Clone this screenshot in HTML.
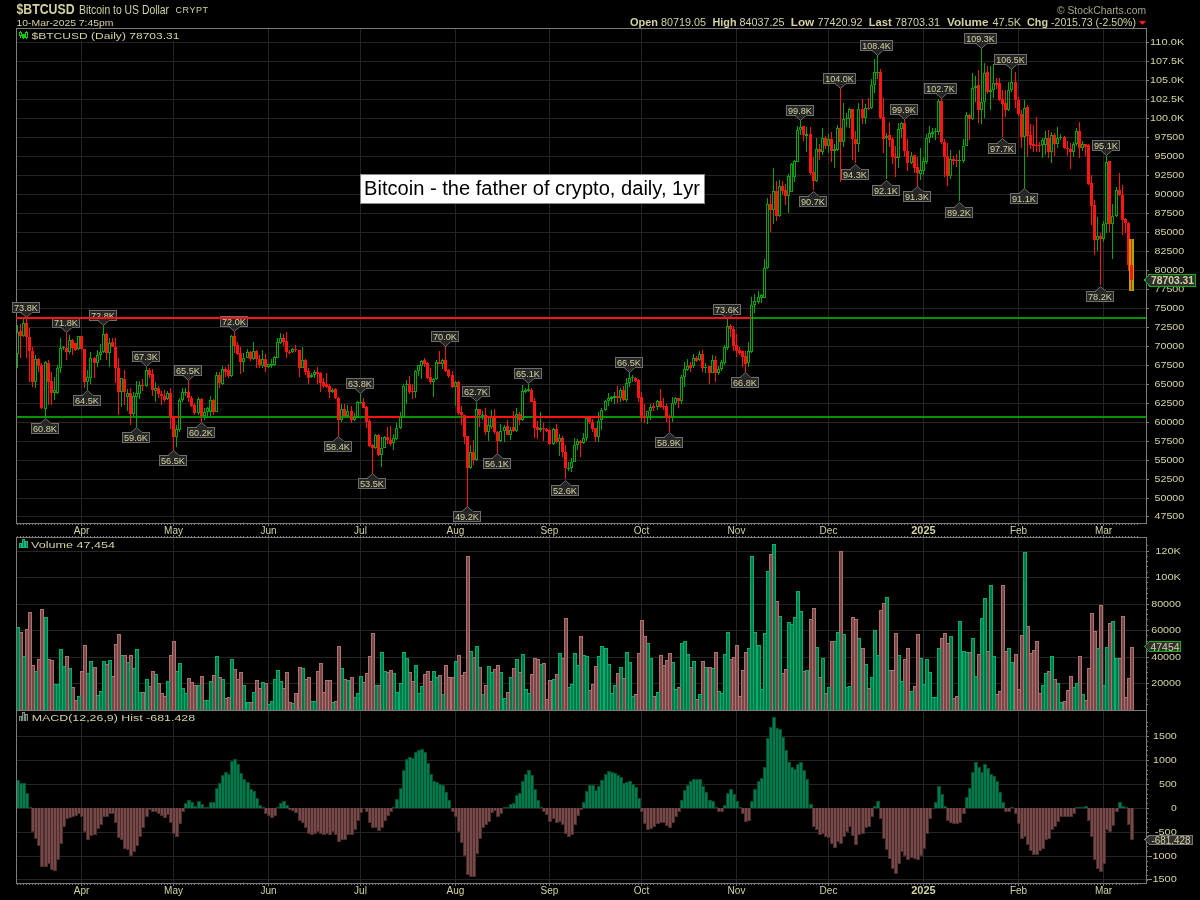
<!DOCTYPE html>
<html><head><meta charset="utf-8"><style>
html,body{margin:0;padding:0;background:#000;}
svg{display:block;font-family:"Liberation Sans",sans-serif;}
</style></head><body>
<div style="will-change:transform;width:1200px;height:900px;">
<svg width="1200" height="900" viewBox="0 0 1200 900" shape-rendering="crispEdges">
<rect x="0" y="0" width="1200" height="900" fill="#000"/>
<rect x="16" y="42" width="1130" height="1" fill="#252525"/>
<rect x="16" y="61" width="1130" height="1" fill="#252525"/>
<rect x="16" y="80" width="1130" height="1" fill="#252525"/>
<rect x="16" y="99" width="1130" height="1" fill="#252525"/>
<rect x="16" y="118" width="1130" height="1" fill="#252525"/>
<rect x="16" y="137" width="1130" height="1" fill="#252525"/>
<rect x="16" y="156" width="1130" height="1" fill="#252525"/>
<rect x="16" y="175" width="1130" height="1" fill="#252525"/>
<rect x="16" y="194" width="1130" height="1" fill="#252525"/>
<rect x="16" y="213" width="1130" height="1" fill="#252525"/>
<rect x="16" y="232" width="1130" height="1" fill="#252525"/>
<rect x="16" y="251" width="1130" height="1" fill="#252525"/>
<rect x="16" y="270" width="1130" height="1" fill="#252525"/>
<rect x="16" y="289" width="1130" height="1" fill="#252525"/>
<rect x="16" y="308" width="1130" height="1" fill="#252525"/>
<rect x="16" y="327" width="1130" height="1" fill="#252525"/>
<rect x="16" y="346" width="1130" height="1" fill="#252525"/>
<rect x="16" y="365" width="1130" height="1" fill="#252525"/>
<rect x="16" y="384" width="1130" height="1" fill="#252525"/>
<rect x="16" y="403" width="1130" height="1" fill="#252525"/>
<rect x="16" y="422" width="1130" height="1" fill="#252525"/>
<rect x="16" y="441" width="1130" height="1" fill="#252525"/>
<rect x="16" y="460" width="1130" height="1" fill="#252525"/>
<rect x="16" y="479" width="1130" height="1" fill="#252525"/>
<rect x="16" y="498" width="1130" height="1" fill="#252525"/>
<rect x="16" y="516" width="1130" height="1" fill="#252525"/>
<rect x="16" y="683" width="1130" height="1" fill="#252525"/>
<rect x="16" y="657" width="1130" height="1" fill="#252525"/>
<rect x="16" y="630" width="1130" height="1" fill="#252525"/>
<rect x="16" y="604" width="1130" height="1" fill="#252525"/>
<rect x="16" y="577" width="1130" height="1" fill="#252525"/>
<rect x="16" y="551" width="1130" height="1" fill="#252525"/>
<rect x="16" y="736" width="1130" height="1" fill="#252525"/>
<rect x="16" y="760" width="1130" height="1" fill="#252525"/>
<rect x="16" y="784" width="1130" height="1" fill="#252525"/>
<rect x="16" y="808" width="1130" height="1" fill="#252525"/>
<rect x="16" y="832" width="1130" height="1" fill="#252525"/>
<rect x="16" y="856" width="1130" height="1" fill="#252525"/>
<rect x="16" y="879" width="1130" height="1" fill="#252525"/>
<rect x="81" y="28" width="1" height="495" fill="#252525"/>
<rect x="81" y="537" width="1" height="173" fill="#252525"/>
<rect x="81" y="710" width="1" height="173" fill="#252525"/>
<rect x="173" y="28" width="1" height="495" fill="#252525"/>
<rect x="173" y="537" width="1" height="173" fill="#252525"/>
<rect x="173" y="710" width="1" height="173" fill="#252525"/>
<rect x="268" y="28" width="1" height="495" fill="#252525"/>
<rect x="268" y="537" width="1" height="173" fill="#252525"/>
<rect x="268" y="710" width="1" height="173" fill="#252525"/>
<rect x="360" y="28" width="1" height="495" fill="#252525"/>
<rect x="360" y="537" width="1" height="173" fill="#252525"/>
<rect x="360" y="710" width="1" height="173" fill="#252525"/>
<rect x="455" y="28" width="1" height="495" fill="#252525"/>
<rect x="455" y="537" width="1" height="173" fill="#252525"/>
<rect x="455" y="710" width="1" height="173" fill="#252525"/>
<rect x="549" y="28" width="1" height="495" fill="#252525"/>
<rect x="549" y="537" width="1" height="173" fill="#252525"/>
<rect x="549" y="710" width="1" height="173" fill="#252525"/>
<rect x="641" y="28" width="1" height="495" fill="#252525"/>
<rect x="641" y="537" width="1" height="173" fill="#252525"/>
<rect x="641" y="710" width="1" height="173" fill="#252525"/>
<rect x="736" y="28" width="1" height="495" fill="#252525"/>
<rect x="736" y="537" width="1" height="173" fill="#252525"/>
<rect x="736" y="710" width="1" height="173" fill="#252525"/>
<rect x="828" y="28" width="1" height="495" fill="#252525"/>
<rect x="828" y="537" width="1" height="173" fill="#252525"/>
<rect x="828" y="710" width="1" height="173" fill="#252525"/>
<rect x="923" y="28" width="1" height="495" fill="#252525"/>
<rect x="923" y="537" width="1" height="173" fill="#252525"/>
<rect x="923" y="710" width="1" height="173" fill="#252525"/>
<rect x="1018" y="28" width="1" height="495" fill="#252525"/>
<rect x="1018" y="537" width="1" height="173" fill="#252525"/>
<rect x="1018" y="710" width="1" height="173" fill="#252525"/>
<rect x="1103" y="28" width="1" height="495" fill="#252525"/>
<rect x="1103" y="537" width="1" height="173" fill="#252525"/>
<rect x="1103" y="710" width="1" height="173" fill="#252525"/>
<rect x="751" y="317" width="395" height="2" fill="#009400"/>
<rect x="16" y="416" width="1130" height="2" fill="#009400"/>
<rect x="17" y="325" width="1" height="7" fill="#00a800"/>
<rect x="17" y="354" width="1" height="14" fill="#00a800"/>
<rect x="16" y="332" width="1" height="22" fill="#00a800"/>
<rect x="18" y="332" width="1" height="22" fill="#00a800"/>
<rect x="17" y="332" width="1" height="1" fill="#00a800"/>
<rect x="17" y="353" width="1" height="1" fill="#00a800"/>
<rect x="20" y="324" width="1" height="34" fill="#ff1414"/>
<rect x="19" y="331" width="3" height="5" fill="#ff1414"/>
<rect x="23" y="319" width="1" height="4" fill="#00a800"/>
<rect x="23" y="336" width="1" height="1" fill="#00a800"/>
<rect x="22" y="323" width="1" height="13" fill="#00a800"/>
<rect x="24" y="323" width="1" height="13" fill="#00a800"/>
<rect x="23" y="323" width="1" height="1" fill="#00a800"/>
<rect x="23" y="335" width="1" height="1" fill="#00a800"/>
<rect x="26" y="319" width="1" height="39" fill="#ff1414"/>
<rect x="25" y="323" width="3" height="14" fill="#ff1414"/>
<rect x="29" y="328" width="1" height="54" fill="#ff1414"/>
<rect x="28" y="337" width="3" height="14" fill="#ff1414"/>
<rect x="32" y="347" width="1" height="40" fill="#ff1414"/>
<rect x="31" y="351" width="3" height="31" fill="#ff1414"/>
<rect x="35" y="355" width="1" height="4" fill="#00a800"/>
<rect x="35" y="382" width="1" height="6" fill="#00a800"/>
<rect x="34" y="359" width="1" height="23" fill="#00a800"/>
<rect x="36" y="359" width="1" height="23" fill="#00a800"/>
<rect x="35" y="359" width="1" height="1" fill="#00a800"/>
<rect x="35" y="381" width="1" height="1" fill="#00a800"/>
<rect x="38" y="358" width="1" height="14" fill="#ff1414"/>
<rect x="37" y="359" width="3" height="7" fill="#ff1414"/>
<rect x="41" y="363" width="1" height="46" fill="#ff1414"/>
<rect x="40" y="365" width="3" height="43" fill="#ff1414"/>
<rect x="45" y="361" width="1" height="1" fill="#00a800"/>
<rect x="45" y="409" width="1" height="8" fill="#00a800"/>
<rect x="44" y="362" width="1" height="47" fill="#00a800"/>
<rect x="46" y="362" width="1" height="47" fill="#00a800"/>
<rect x="45" y="362" width="1" height="1" fill="#00a800"/>
<rect x="45" y="408" width="1" height="1" fill="#00a800"/>
<rect x="48" y="360" width="1" height="45" fill="#ff1414"/>
<rect x="47" y="363" width="3" height="19" fill="#ff1414"/>
<rect x="51" y="372" width="1" height="33" fill="#ff1414"/>
<rect x="50" y="381" width="3" height="12" fill="#ff1414"/>
<rect x="54" y="377" width="1" height="13" fill="#00a800"/>
<rect x="54" y="393" width="1" height="7" fill="#00a800"/>
<rect x="53" y="390" width="1" height="3" fill="#00a800"/>
<rect x="55" y="390" width="1" height="3" fill="#00a800"/>
<rect x="54" y="390" width="1" height="1" fill="#00a800"/>
<rect x="54" y="392" width="1" height="1" fill="#00a800"/>
<rect x="57" y="365" width="1" height="3" fill="#00a800"/>
<rect x="57" y="393" width="1" height="1" fill="#00a800"/>
<rect x="56" y="368" width="1" height="25" fill="#00a800"/>
<rect x="58" y="368" width="1" height="25" fill="#00a800"/>
<rect x="57" y="368" width="1" height="1" fill="#00a800"/>
<rect x="57" y="392" width="1" height="1" fill="#00a800"/>
<rect x="60" y="338" width="1" height="10" fill="#00a800"/>
<rect x="60" y="368" width="1" height="5" fill="#00a800"/>
<rect x="59" y="348" width="1" height="20" fill="#00a800"/>
<rect x="61" y="348" width="1" height="20" fill="#00a800"/>
<rect x="60" y="348" width="1" height="1" fill="#00a800"/>
<rect x="60" y="367" width="1" height="1" fill="#00a800"/>
<rect x="63" y="346" width="1" height="4" fill="#00a800"/>
<rect x="62" y="347" width="3" height="1" fill="#00a800"/>
<rect x="66" y="333" width="1" height="27" fill="#ff1414"/>
<rect x="65" y="348" width="3" height="4" fill="#ff1414"/>
<rect x="69" y="335" width="1" height="5" fill="#00a800"/>
<rect x="69" y="352" width="1" height="2" fill="#00a800"/>
<rect x="68" y="340" width="1" height="12" fill="#00a800"/>
<rect x="70" y="340" width="1" height="12" fill="#00a800"/>
<rect x="69" y="340" width="1" height="1" fill="#00a800"/>
<rect x="69" y="351" width="1" height="1" fill="#00a800"/>
<rect x="72" y="339" width="1" height="16" fill="#ff1414"/>
<rect x="71" y="340" width="3" height="8" fill="#ff1414"/>
<rect x="75" y="343" width="1" height="8" fill="#ff1414"/>
<rect x="74" y="343" width="3" height="7" fill="#ff1414"/>
<rect x="78" y="349" width="1" height="1" fill="#00a800"/>
<rect x="77" y="336" width="1" height="13" fill="#00a800"/>
<rect x="79" y="336" width="1" height="13" fill="#00a800"/>
<rect x="78" y="336" width="1" height="1" fill="#00a800"/>
<rect x="78" y="348" width="1" height="1" fill="#00a800"/>
<rect x="81" y="336" width="1" height="14" fill="#ff1414"/>
<rect x="80" y="336" width="3" height="13" fill="#ff1414"/>
<rect x="84" y="349" width="1" height="39" fill="#ff1414"/>
<rect x="83" y="349" width="3" height="33" fill="#ff1414"/>
<rect x="87" y="370" width="1" height="7" fill="#00a800"/>
<rect x="87" y="382" width="1" height="8" fill="#00a800"/>
<rect x="86" y="377" width="1" height="5" fill="#00a800"/>
<rect x="88" y="377" width="1" height="5" fill="#00a800"/>
<rect x="87" y="377" width="1" height="1" fill="#00a800"/>
<rect x="87" y="381" width="1" height="1" fill="#00a800"/>
<rect x="90" y="352" width="1" height="6" fill="#00a800"/>
<rect x="90" y="378" width="1" height="6" fill="#00a800"/>
<rect x="89" y="358" width="1" height="20" fill="#00a800"/>
<rect x="91" y="358" width="1" height="20" fill="#00a800"/>
<rect x="90" y="358" width="1" height="1" fill="#00a800"/>
<rect x="90" y="377" width="1" height="1" fill="#00a800"/>
<rect x="94" y="357" width="1" height="21" fill="#ff1414"/>
<rect x="93" y="358" width="3" height="5" fill="#ff1414"/>
<rect x="97" y="350" width="1" height="5" fill="#00a800"/>
<rect x="97" y="363" width="1" height="4" fill="#00a800"/>
<rect x="96" y="355" width="1" height="8" fill="#00a800"/>
<rect x="98" y="355" width="1" height="8" fill="#00a800"/>
<rect x="97" y="355" width="1" height="1" fill="#00a800"/>
<rect x="97" y="362" width="1" height="1" fill="#00a800"/>
<rect x="100" y="344" width="1" height="8" fill="#00a800"/>
<rect x="100" y="355" width="1" height="5" fill="#00a800"/>
<rect x="99" y="352" width="1" height="3" fill="#00a800"/>
<rect x="101" y="352" width="1" height="3" fill="#00a800"/>
<rect x="100" y="352" width="1" height="1" fill="#00a800"/>
<rect x="100" y="354" width="1" height="1" fill="#00a800"/>
<rect x="103" y="325" width="1" height="9" fill="#00a800"/>
<rect x="103" y="352" width="1" height="1" fill="#00a800"/>
<rect x="102" y="334" width="1" height="18" fill="#00a800"/>
<rect x="104" y="334" width="1" height="18" fill="#00a800"/>
<rect x="103" y="334" width="1" height="1" fill="#00a800"/>
<rect x="103" y="351" width="1" height="1" fill="#00a800"/>
<rect x="106" y="333" width="1" height="27" fill="#ff1414"/>
<rect x="105" y="334" width="3" height="19" fill="#ff1414"/>
<rect x="109" y="338" width="1" height="5" fill="#00a800"/>
<rect x="109" y="353" width="1" height="14" fill="#00a800"/>
<rect x="108" y="343" width="1" height="10" fill="#00a800"/>
<rect x="110" y="343" width="1" height="10" fill="#00a800"/>
<rect x="109" y="343" width="1" height="1" fill="#00a800"/>
<rect x="109" y="352" width="1" height="1" fill="#00a800"/>
<rect x="112" y="338" width="1" height="9" fill="#ff1414"/>
<rect x="111" y="342" width="3" height="5" fill="#ff1414"/>
<rect x="115" y="338" width="1" height="45" fill="#ff1414"/>
<rect x="114" y="347" width="3" height="21" fill="#ff1414"/>
<rect x="118" y="358" width="1" height="57" fill="#ff1414"/>
<rect x="117" y="368" width="3" height="24" fill="#ff1414"/>
<rect x="121" y="392" width="1" height="15" fill="#00a800"/>
<rect x="120" y="378" width="1" height="14" fill="#00a800"/>
<rect x="122" y="378" width="1" height="14" fill="#00a800"/>
<rect x="121" y="378" width="1" height="1" fill="#00a800"/>
<rect x="121" y="391" width="1" height="1" fill="#00a800"/>
<rect x="124" y="370" width="1" height="35" fill="#ff1414"/>
<rect x="123" y="379" width="3" height="13" fill="#ff1414"/>
<rect x="127" y="389" width="1" height="4" fill="#00a800"/>
<rect x="127" y="397" width="1" height="14" fill="#00a800"/>
<rect x="126" y="393" width="1" height="4" fill="#00a800"/>
<rect x="128" y="393" width="1" height="4" fill="#00a800"/>
<rect x="127" y="393" width="1" height="1" fill="#00a800"/>
<rect x="127" y="396" width="1" height="1" fill="#00a800"/>
<rect x="130" y="388" width="1" height="37" fill="#ff1414"/>
<rect x="129" y="393" width="3" height="21" fill="#ff1414"/>
<rect x="133" y="392" width="1" height="4" fill="#00a800"/>
<rect x="133" y="414" width="1" height="2" fill="#00a800"/>
<rect x="132" y="396" width="1" height="18" fill="#00a800"/>
<rect x="134" y="396" width="1" height="18" fill="#00a800"/>
<rect x="133" y="396" width="1" height="1" fill="#00a800"/>
<rect x="133" y="413" width="1" height="1" fill="#00a800"/>
<rect x="136" y="381" width="1" height="12" fill="#00a800"/>
<rect x="136" y="397" width="1" height="30" fill="#00a800"/>
<rect x="135" y="393" width="1" height="4" fill="#00a800"/>
<rect x="137" y="393" width="1" height="4" fill="#00a800"/>
<rect x="136" y="393" width="1" height="1" fill="#00a800"/>
<rect x="136" y="396" width="1" height="1" fill="#00a800"/>
<rect x="139" y="381" width="1" height="4" fill="#00a800"/>
<rect x="139" y="394" width="1" height="5" fill="#00a800"/>
<rect x="138" y="385" width="1" height="9" fill="#00a800"/>
<rect x="140" y="385" width="1" height="9" fill="#00a800"/>
<rect x="139" y="385" width="1" height="1" fill="#00a800"/>
<rect x="139" y="393" width="1" height="1" fill="#00a800"/>
<rect x="142" y="379" width="1" height="12" fill="#ff1414"/>
<rect x="141" y="385" width="3" height="1" fill="#ff1414"/>
<rect x="146" y="367" width="1" height="3" fill="#00a800"/>
<rect x="146" y="386" width="1" height="1" fill="#00a800"/>
<rect x="145" y="370" width="1" height="16" fill="#00a800"/>
<rect x="147" y="370" width="1" height="16" fill="#00a800"/>
<rect x="146" y="370" width="1" height="1" fill="#00a800"/>
<rect x="146" y="385" width="1" height="1" fill="#00a800"/>
<rect x="149" y="368" width="1" height="10" fill="#ff1414"/>
<rect x="148" y="370" width="3" height="5" fill="#ff1414"/>
<rect x="152" y="369" width="1" height="27" fill="#ff1414"/>
<rect x="151" y="374" width="3" height="16" fill="#ff1414"/>
<rect x="155" y="382" width="1" height="6" fill="#00a800"/>
<rect x="155" y="391" width="1" height="11" fill="#00a800"/>
<rect x="154" y="388" width="1" height="3" fill="#00a800"/>
<rect x="156" y="388" width="1" height="3" fill="#00a800"/>
<rect x="155" y="388" width="1" height="1" fill="#00a800"/>
<rect x="155" y="390" width="1" height="1" fill="#00a800"/>
<rect x="158" y="386" width="1" height="12" fill="#ff1414"/>
<rect x="157" y="388" width="3" height="6" fill="#ff1414"/>
<rect x="161" y="391" width="1" height="14" fill="#ff1414"/>
<rect x="160" y="394" width="3" height="2" fill="#ff1414"/>
<rect x="164" y="390" width="1" height="12" fill="#ff1414"/>
<rect x="163" y="396" width="3" height="4" fill="#ff1414"/>
<rect x="167" y="391" width="1" height="2" fill="#00a800"/>
<rect x="167" y="399" width="1" height="1" fill="#00a800"/>
<rect x="166" y="393" width="1" height="6" fill="#00a800"/>
<rect x="168" y="393" width="1" height="6" fill="#00a800"/>
<rect x="167" y="393" width="1" height="1" fill="#00a800"/>
<rect x="167" y="398" width="1" height="1" fill="#00a800"/>
<rect x="170" y="388" width="1" height="41" fill="#ff1414"/>
<rect x="169" y="393" width="3" height="24" fill="#ff1414"/>
<rect x="173" y="416" width="1" height="34" fill="#ff1414"/>
<rect x="172" y="417" width="3" height="20" fill="#ff1414"/>
<rect x="176" y="425" width="1" height="4" fill="#00a800"/>
<rect x="176" y="437" width="1" height="10" fill="#00a800"/>
<rect x="175" y="429" width="1" height="8" fill="#00a800"/>
<rect x="177" y="429" width="1" height="8" fill="#00a800"/>
<rect x="176" y="429" width="1" height="1" fill="#00a800"/>
<rect x="176" y="436" width="1" height="1" fill="#00a800"/>
<rect x="179" y="398" width="1" height="2" fill="#00a800"/>
<rect x="179" y="430" width="1" height="2" fill="#00a800"/>
<rect x="178" y="400" width="1" height="30" fill="#00a800"/>
<rect x="180" y="400" width="1" height="30" fill="#00a800"/>
<rect x="179" y="400" width="1" height="1" fill="#00a800"/>
<rect x="179" y="429" width="1" height="1" fill="#00a800"/>
<rect x="182" y="388" width="1" height="4" fill="#00a800"/>
<rect x="182" y="400" width="1" height="2" fill="#00a800"/>
<rect x="181" y="392" width="1" height="8" fill="#00a800"/>
<rect x="183" y="392" width="1" height="8" fill="#00a800"/>
<rect x="182" y="392" width="1" height="1" fill="#00a800"/>
<rect x="182" y="399" width="1" height="1" fill="#00a800"/>
<rect x="185" y="388" width="1" height="8" fill="#00a800"/>
<rect x="184" y="392" width="3" height="1" fill="#00a800"/>
<rect x="188" y="381" width="1" height="21" fill="#ff1414"/>
<rect x="187" y="392" width="3" height="6" fill="#ff1414"/>
<rect x="191" y="396" width="1" height="11" fill="#ff1414"/>
<rect x="190" y="398" width="3" height="8" fill="#ff1414"/>
<rect x="194" y="403" width="1" height="12" fill="#ff1414"/>
<rect x="193" y="405" width="3" height="8" fill="#ff1414"/>
<rect x="198" y="397" width="1" height="2" fill="#00a800"/>
<rect x="198" y="413" width="1" height="2" fill="#00a800"/>
<rect x="197" y="399" width="1" height="14" fill="#00a800"/>
<rect x="199" y="399" width="1" height="14" fill="#00a800"/>
<rect x="198" y="399" width="1" height="1" fill="#00a800"/>
<rect x="198" y="412" width="1" height="1" fill="#00a800"/>
<rect x="201" y="398" width="1" height="24" fill="#ff1414"/>
<rect x="200" y="399" width="3" height="17" fill="#ff1414"/>
<rect x="204" y="408" width="1" height="4" fill="#00a800"/>
<rect x="204" y="416" width="1" height="4" fill="#00a800"/>
<rect x="203" y="412" width="1" height="4" fill="#00a800"/>
<rect x="205" y="412" width="1" height="4" fill="#00a800"/>
<rect x="204" y="412" width="1" height="1" fill="#00a800"/>
<rect x="204" y="415" width="1" height="1" fill="#00a800"/>
<rect x="207" y="407" width="1" height="1" fill="#00a800"/>
<rect x="207" y="412" width="1" height="6" fill="#00a800"/>
<rect x="206" y="408" width="1" height="4" fill="#00a800"/>
<rect x="208" y="408" width="1" height="4" fill="#00a800"/>
<rect x="207" y="408" width="1" height="1" fill="#00a800"/>
<rect x="207" y="411" width="1" height="1" fill="#00a800"/>
<rect x="210" y="396" width="1" height="4" fill="#00a800"/>
<rect x="210" y="412" width="1" height="4" fill="#00a800"/>
<rect x="209" y="400" width="1" height="12" fill="#00a800"/>
<rect x="211" y="400" width="1" height="12" fill="#00a800"/>
<rect x="210" y="400" width="1" height="1" fill="#00a800"/>
<rect x="210" y="411" width="1" height="1" fill="#00a800"/>
<rect x="213" y="399" width="1" height="16" fill="#ff1414"/>
<rect x="212" y="400" width="3" height="12" fill="#ff1414"/>
<rect x="216" y="372" width="1" height="3" fill="#00a800"/>
<rect x="215" y="375" width="1" height="37" fill="#00a800"/>
<rect x="217" y="375" width="1" height="37" fill="#00a800"/>
<rect x="216" y="375" width="1" height="1" fill="#00a800"/>
<rect x="216" y="411" width="1" height="1" fill="#00a800"/>
<rect x="219" y="372" width="1" height="16" fill="#ff1414"/>
<rect x="218" y="375" width="3" height="8" fill="#ff1414"/>
<rect x="222" y="366" width="1" height="3" fill="#00a800"/>
<rect x="222" y="384" width="1" height="1" fill="#00a800"/>
<rect x="221" y="369" width="1" height="15" fill="#00a800"/>
<rect x="223" y="369" width="1" height="15" fill="#00a800"/>
<rect x="222" y="369" width="1" height="1" fill="#00a800"/>
<rect x="222" y="383" width="1" height="1" fill="#00a800"/>
<rect x="225" y="367" width="1" height="10" fill="#ff1414"/>
<rect x="224" y="369" width="3" height="3" fill="#ff1414"/>
<rect x="228" y="364" width="1" height="14" fill="#ff1414"/>
<rect x="227" y="370" width="3" height="6" fill="#ff1414"/>
<rect x="231" y="335" width="1" height="1" fill="#00a800"/>
<rect x="231" y="376" width="1" height="1" fill="#00a800"/>
<rect x="230" y="336" width="1" height="40" fill="#00a800"/>
<rect x="232" y="336" width="1" height="40" fill="#00a800"/>
<rect x="231" y="336" width="1" height="1" fill="#00a800"/>
<rect x="231" y="375" width="1" height="1" fill="#00a800"/>
<rect x="234" y="332" width="1" height="21" fill="#ff1414"/>
<rect x="233" y="336" width="3" height="10" fill="#ff1414"/>
<rect x="237" y="342" width="1" height="13" fill="#ff1414"/>
<rect x="236" y="345" width="3" height="9" fill="#ff1414"/>
<rect x="240" y="347" width="1" height="27" fill="#ff1414"/>
<rect x="239" y="353" width="3" height="9" fill="#ff1414"/>
<rect x="243" y="353" width="1" height="5" fill="#00a800"/>
<rect x="243" y="362" width="1" height="10" fill="#00a800"/>
<rect x="242" y="358" width="1" height="4" fill="#00a800"/>
<rect x="244" y="358" width="1" height="4" fill="#00a800"/>
<rect x="243" y="358" width="1" height="1" fill="#00a800"/>
<rect x="243" y="361" width="1" height="1" fill="#00a800"/>
<rect x="247" y="349" width="1" height="3" fill="#00a800"/>
<rect x="246" y="352" width="1" height="6" fill="#00a800"/>
<rect x="248" y="352" width="1" height="6" fill="#00a800"/>
<rect x="247" y="352" width="1" height="1" fill="#00a800"/>
<rect x="247" y="357" width="1" height="1" fill="#00a800"/>
<rect x="250" y="351" width="1" height="10" fill="#ff1414"/>
<rect x="249" y="352" width="3" height="7" fill="#ff1414"/>
<rect x="253" y="342" width="1" height="9" fill="#00a800"/>
<rect x="253" y="359" width="1" height="1" fill="#00a800"/>
<rect x="252" y="351" width="1" height="8" fill="#00a800"/>
<rect x="254" y="351" width="1" height="8" fill="#00a800"/>
<rect x="253" y="351" width="1" height="1" fill="#00a800"/>
<rect x="253" y="358" width="1" height="1" fill="#00a800"/>
<rect x="256" y="350" width="1" height="18" fill="#ff1414"/>
<rect x="255" y="351" width="3" height="8" fill="#ff1414"/>
<rect x="259" y="355" width="1" height="13" fill="#ff1414"/>
<rect x="258" y="359" width="3" height="6" fill="#ff1414"/>
<rect x="262" y="350" width="1" height="9" fill="#00a800"/>
<rect x="262" y="366" width="1" height="2" fill="#00a800"/>
<rect x="261" y="359" width="1" height="7" fill="#00a800"/>
<rect x="263" y="359" width="1" height="7" fill="#00a800"/>
<rect x="262" y="359" width="1" height="1" fill="#00a800"/>
<rect x="262" y="365" width="1" height="1" fill="#00a800"/>
<rect x="265" y="354" width="1" height="18" fill="#ff1414"/>
<rect x="264" y="359" width="3" height="8" fill="#ff1414"/>
<rect x="268" y="367" width="1" height="1" fill="#00a800"/>
<rect x="267" y="364" width="1" height="3" fill="#00a800"/>
<rect x="269" y="364" width="1" height="3" fill="#00a800"/>
<rect x="268" y="364" width="1" height="1" fill="#00a800"/>
<rect x="268" y="366" width="1" height="1" fill="#00a800"/>
<rect x="271" y="359" width="1" height="9" fill="#00a800"/>
<rect x="270" y="364" width="3" height="2" fill="#00a800"/>
<rect x="274" y="356" width="1" height="1" fill="#00a800"/>
<rect x="274" y="365" width="1" height="1" fill="#00a800"/>
<rect x="273" y="357" width="1" height="8" fill="#00a800"/>
<rect x="275" y="357" width="1" height="8" fill="#00a800"/>
<rect x="274" y="357" width="1" height="1" fill="#00a800"/>
<rect x="274" y="364" width="1" height="1" fill="#00a800"/>
<rect x="277" y="338" width="1" height="4" fill="#00a800"/>
<rect x="276" y="342" width="1" height="16" fill="#00a800"/>
<rect x="278" y="342" width="1" height="16" fill="#00a800"/>
<rect x="277" y="342" width="1" height="1" fill="#00a800"/>
<rect x="277" y="357" width="1" height="1" fill="#00a800"/>
<rect x="280" y="333" width="1" height="5" fill="#00a800"/>
<rect x="280" y="343" width="1" height="1" fill="#00a800"/>
<rect x="279" y="338" width="1" height="5" fill="#00a800"/>
<rect x="281" y="338" width="1" height="5" fill="#00a800"/>
<rect x="280" y="338" width="1" height="1" fill="#00a800"/>
<rect x="280" y="342" width="1" height="1" fill="#00a800"/>
<rect x="283" y="334" width="1" height="12" fill="#ff1414"/>
<rect x="282" y="338" width="3" height="4" fill="#ff1414"/>
<rect x="286" y="332" width="1" height="26" fill="#ff1414"/>
<rect x="285" y="341" width="3" height="11" fill="#ff1414"/>
<rect x="289" y="350" width="1" height="4" fill="#ff1414"/>
<rect x="288" y="352" width="3" height="1" fill="#ff1414"/>
<rect x="292" y="348" width="1" height="1" fill="#00a800"/>
<rect x="292" y="352" width="1" height="1" fill="#00a800"/>
<rect x="291" y="349" width="1" height="3" fill="#00a800"/>
<rect x="293" y="349" width="1" height="3" fill="#00a800"/>
<rect x="292" y="349" width="1" height="1" fill="#00a800"/>
<rect x="292" y="351" width="1" height="1" fill="#00a800"/>
<rect x="295" y="345" width="1" height="7" fill="#ff1414"/>
<rect x="294" y="349" width="3" height="1" fill="#ff1414"/>
<rect x="299" y="350" width="1" height="27" fill="#ff1414"/>
<rect x="298" y="350" width="3" height="18" fill="#ff1414"/>
<rect x="302" y="347" width="1" height="13" fill="#00a800"/>
<rect x="301" y="360" width="1" height="8" fill="#00a800"/>
<rect x="303" y="360" width="1" height="8" fill="#00a800"/>
<rect x="302" y="360" width="1" height="1" fill="#00a800"/>
<rect x="302" y="367" width="1" height="1" fill="#00a800"/>
<rect x="305" y="359" width="1" height="16" fill="#ff1414"/>
<rect x="304" y="360" width="3" height="12" fill="#ff1414"/>
<rect x="308" y="368" width="1" height="16" fill="#ff1414"/>
<rect x="307" y="371" width="3" height="7" fill="#ff1414"/>
<rect x="311" y="373" width="1" height="5" fill="#00a800"/>
<rect x="310" y="375" width="3" height="2" fill="#00a800"/>
<rect x="314" y="370" width="1" height="2" fill="#00a800"/>
<rect x="314" y="375" width="1" height="3" fill="#00a800"/>
<rect x="313" y="372" width="1" height="3" fill="#00a800"/>
<rect x="315" y="372" width="1" height="3" fill="#00a800"/>
<rect x="314" y="372" width="1" height="1" fill="#00a800"/>
<rect x="314" y="374" width="1" height="1" fill="#00a800"/>
<rect x="317" y="367" width="1" height="17" fill="#ff1414"/>
<rect x="316" y="372" width="3" height="2" fill="#ff1414"/>
<rect x="320" y="372" width="1" height="20" fill="#ff1414"/>
<rect x="319" y="373" width="3" height="10" fill="#ff1414"/>
<rect x="323" y="378" width="1" height="10" fill="#ff1414"/>
<rect x="322" y="382" width="3" height="4" fill="#ff1414"/>
<rect x="326" y="373" width="1" height="15" fill="#ff1414"/>
<rect x="325" y="384" width="3" height="3" fill="#ff1414"/>
<rect x="329" y="384" width="1" height="14" fill="#ff1414"/>
<rect x="328" y="386" width="3" height="6" fill="#ff1414"/>
<rect x="332" y="388" width="1" height="5" fill="#00a800"/>
<rect x="331" y="390" width="3" height="2" fill="#00a800"/>
<rect x="335" y="388" width="1" height="11" fill="#ff1414"/>
<rect x="334" y="389" width="3" height="9" fill="#ff1414"/>
<rect x="338" y="397" width="1" height="39" fill="#ff1414"/>
<rect x="337" y="398" width="3" height="22" fill="#ff1414"/>
<rect x="341" y="404" width="1" height="5" fill="#00a800"/>
<rect x="341" y="420" width="1" height="2" fill="#00a800"/>
<rect x="340" y="409" width="1" height="11" fill="#00a800"/>
<rect x="342" y="409" width="1" height="11" fill="#00a800"/>
<rect x="341" y="409" width="1" height="1" fill="#00a800"/>
<rect x="341" y="419" width="1" height="1" fill="#00a800"/>
<rect x="344" y="404" width="1" height="13" fill="#ff1414"/>
<rect x="343" y="409" width="3" height="7" fill="#ff1414"/>
<rect x="347" y="405" width="1" height="6" fill="#00a800"/>
<rect x="347" y="416" width="1" height="2" fill="#00a800"/>
<rect x="346" y="411" width="1" height="5" fill="#00a800"/>
<rect x="348" y="411" width="1" height="5" fill="#00a800"/>
<rect x="347" y="411" width="1" height="1" fill="#00a800"/>
<rect x="347" y="415" width="1" height="1" fill="#00a800"/>
<rect x="351" y="406" width="1" height="17" fill="#ff1414"/>
<rect x="350" y="411" width="3" height="9" fill="#ff1414"/>
<rect x="354" y="413" width="1" height="4" fill="#00a800"/>
<rect x="354" y="420" width="1" height="1" fill="#00a800"/>
<rect x="353" y="417" width="1" height="3" fill="#00a800"/>
<rect x="355" y="417" width="1" height="3" fill="#00a800"/>
<rect x="354" y="417" width="1" height="1" fill="#00a800"/>
<rect x="354" y="419" width="1" height="1" fill="#00a800"/>
<rect x="357" y="401" width="1" height="1" fill="#00a800"/>
<rect x="356" y="402" width="1" height="16" fill="#00a800"/>
<rect x="358" y="402" width="1" height="16" fill="#00a800"/>
<rect x="357" y="402" width="1" height="1" fill="#00a800"/>
<rect x="357" y="417" width="1" height="1" fill="#00a800"/>
<rect x="360" y="393" width="1" height="11" fill="#00a800"/>
<rect x="359" y="402" width="3" height="1" fill="#00a800"/>
<rect x="363" y="398" width="1" height="10" fill="#ff1414"/>
<rect x="362" y="402" width="3" height="6" fill="#ff1414"/>
<rect x="366" y="406" width="1" height="22" fill="#ff1414"/>
<rect x="365" y="407" width="3" height="15" fill="#ff1414"/>
<rect x="369" y="419" width="1" height="28" fill="#ff1414"/>
<rect x="368" y="421" width="3" height="25" fill="#ff1414"/>
<rect x="372" y="444" width="1" height="29" fill="#ff1414"/>
<rect x="371" y="445" width="3" height="3" fill="#ff1414"/>
<rect x="375" y="434" width="1" height="1" fill="#00a800"/>
<rect x="375" y="448" width="1" height="1" fill="#00a800"/>
<rect x="374" y="435" width="1" height="13" fill="#00a800"/>
<rect x="376" y="435" width="1" height="13" fill="#00a800"/>
<rect x="375" y="435" width="1" height="1" fill="#00a800"/>
<rect x="375" y="447" width="1" height="1" fill="#00a800"/>
<rect x="378" y="434" width="1" height="22" fill="#ff1414"/>
<rect x="377" y="435" width="3" height="20" fill="#ff1414"/>
<rect x="381" y="437" width="1" height="11" fill="#00a800"/>
<rect x="381" y="455" width="1" height="12" fill="#00a800"/>
<rect x="380" y="448" width="1" height="7" fill="#00a800"/>
<rect x="382" y="448" width="1" height="7" fill="#00a800"/>
<rect x="381" y="448" width="1" height="1" fill="#00a800"/>
<rect x="381" y="454" width="1" height="1" fill="#00a800"/>
<rect x="384" y="436" width="1" height="1" fill="#00a800"/>
<rect x="383" y="437" width="1" height="11" fill="#00a800"/>
<rect x="385" y="437" width="1" height="11" fill="#00a800"/>
<rect x="384" y="437" width="1" height="1" fill="#00a800"/>
<rect x="384" y="447" width="1" height="1" fill="#00a800"/>
<rect x="387" y="427" width="1" height="17" fill="#ff1414"/>
<rect x="386" y="437" width="3" height="3" fill="#ff1414"/>
<rect x="390" y="426" width="1" height="20" fill="#ff1414"/>
<rect x="389" y="440" width="3" height="4" fill="#ff1414"/>
<rect x="393" y="434" width="1" height="4" fill="#00a800"/>
<rect x="393" y="443" width="1" height="7" fill="#00a800"/>
<rect x="392" y="438" width="1" height="5" fill="#00a800"/>
<rect x="394" y="438" width="1" height="5" fill="#00a800"/>
<rect x="393" y="438" width="1" height="1" fill="#00a800"/>
<rect x="393" y="442" width="1" height="1" fill="#00a800"/>
<rect x="396" y="423" width="1" height="5" fill="#00a800"/>
<rect x="396" y="439" width="1" height="1" fill="#00a800"/>
<rect x="395" y="428" width="1" height="11" fill="#00a800"/>
<rect x="397" y="428" width="1" height="11" fill="#00a800"/>
<rect x="396" y="428" width="1" height="1" fill="#00a800"/>
<rect x="396" y="438" width="1" height="1" fill="#00a800"/>
<rect x="400" y="412" width="1" height="5" fill="#00a800"/>
<rect x="400" y="428" width="1" height="1" fill="#00a800"/>
<rect x="399" y="417" width="1" height="11" fill="#00a800"/>
<rect x="401" y="417" width="1" height="11" fill="#00a800"/>
<rect x="400" y="417" width="1" height="1" fill="#00a800"/>
<rect x="400" y="427" width="1" height="1" fill="#00a800"/>
<rect x="403" y="384" width="1" height="2" fill="#00a800"/>
<rect x="403" y="417" width="1" height="1" fill="#00a800"/>
<rect x="402" y="386" width="1" height="31" fill="#00a800"/>
<rect x="404" y="386" width="1" height="31" fill="#00a800"/>
<rect x="403" y="386" width="1" height="1" fill="#00a800"/>
<rect x="403" y="416" width="1" height="1" fill="#00a800"/>
<rect x="406" y="380" width="1" height="24" fill="#00a800"/>
<rect x="405" y="384" width="3" height="1" fill="#00a800"/>
<rect x="409" y="376" width="1" height="18" fill="#ff1414"/>
<rect x="408" y="384" width="3" height="8" fill="#ff1414"/>
<rect x="412" y="384" width="1" height="15" fill="#ff1414"/>
<rect x="411" y="391" width="3" height="1" fill="#ff1414"/>
<rect x="415" y="370" width="1" height="1" fill="#00a800"/>
<rect x="415" y="392" width="1" height="6" fill="#00a800"/>
<rect x="414" y="371" width="1" height="21" fill="#00a800"/>
<rect x="416" y="371" width="1" height="21" fill="#00a800"/>
<rect x="415" y="371" width="1" height="1" fill="#00a800"/>
<rect x="415" y="391" width="1" height="1" fill="#00a800"/>
<rect x="418" y="371" width="1" height="5" fill="#00a800"/>
<rect x="417" y="365" width="1" height="6" fill="#00a800"/>
<rect x="419" y="365" width="1" height="6" fill="#00a800"/>
<rect x="418" y="365" width="1" height="1" fill="#00a800"/>
<rect x="418" y="370" width="1" height="1" fill="#00a800"/>
<rect x="421" y="360" width="1" height="1" fill="#00a800"/>
<rect x="421" y="366" width="1" height="13" fill="#00a800"/>
<rect x="420" y="361" width="1" height="5" fill="#00a800"/>
<rect x="422" y="361" width="1" height="5" fill="#00a800"/>
<rect x="421" y="361" width="1" height="1" fill="#00a800"/>
<rect x="421" y="365" width="1" height="1" fill="#00a800"/>
<rect x="424" y="358" width="1" height="9" fill="#ff1414"/>
<rect x="423" y="360" width="3" height="4" fill="#ff1414"/>
<rect x="427" y="362" width="1" height="17" fill="#ff1414"/>
<rect x="426" y="363" width="3" height="15" fill="#ff1414"/>
<rect x="430" y="368" width="1" height="16" fill="#ff1414"/>
<rect x="429" y="377" width="3" height="5" fill="#ff1414"/>
<rect x="433" y="378" width="1" height="1" fill="#00a800"/>
<rect x="433" y="382" width="1" height="15" fill="#00a800"/>
<rect x="432" y="379" width="1" height="3" fill="#00a800"/>
<rect x="434" y="379" width="1" height="3" fill="#00a800"/>
<rect x="433" y="379" width="1" height="1" fill="#00a800"/>
<rect x="433" y="381" width="1" height="1" fill="#00a800"/>
<rect x="436" y="360" width="1" height="2" fill="#00a800"/>
<rect x="436" y="379" width="1" height="1" fill="#00a800"/>
<rect x="435" y="362" width="1" height="17" fill="#00a800"/>
<rect x="437" y="362" width="1" height="17" fill="#00a800"/>
<rect x="436" y="362" width="1" height="1" fill="#00a800"/>
<rect x="436" y="378" width="1" height="1" fill="#00a800"/>
<rect x="439" y="351" width="1" height="13" fill="#ff1414"/>
<rect x="438" y="362" width="3" height="2" fill="#ff1414"/>
<rect x="442" y="359" width="1" height="1" fill="#00a800"/>
<rect x="442" y="364" width="1" height="5" fill="#00a800"/>
<rect x="441" y="360" width="1" height="4" fill="#00a800"/>
<rect x="443" y="360" width="1" height="4" fill="#00a800"/>
<rect x="442" y="360" width="1" height="1" fill="#00a800"/>
<rect x="442" y="363" width="1" height="1" fill="#00a800"/>
<rect x="445" y="346" width="1" height="26" fill="#ff1414"/>
<rect x="444" y="360" width="3" height="11" fill="#ff1414"/>
<rect x="448" y="369" width="1" height="9" fill="#ff1414"/>
<rect x="447" y="370" width="3" height="6" fill="#ff1414"/>
<rect x="452" y="371" width="1" height="17" fill="#ff1414"/>
<rect x="451" y="375" width="3" height="12" fill="#ff1414"/>
<rect x="455" y="381" width="1" height="1" fill="#00a800"/>
<rect x="455" y="387" width="1" height="19" fill="#00a800"/>
<rect x="454" y="382" width="1" height="5" fill="#00a800"/>
<rect x="456" y="382" width="1" height="5" fill="#00a800"/>
<rect x="455" y="382" width="1" height="1" fill="#00a800"/>
<rect x="455" y="386" width="1" height="1" fill="#00a800"/>
<rect x="458" y="381" width="1" height="34" fill="#ff1414"/>
<rect x="457" y="382" width="3" height="31" fill="#ff1414"/>
<rect x="461" y="406" width="1" height="19" fill="#ff1414"/>
<rect x="460" y="412" width="3" height="3" fill="#ff1414"/>
<rect x="464" y="415" width="1" height="29" fill="#ff1414"/>
<rect x="463" y="415" width="3" height="22" fill="#ff1414"/>
<rect x="467" y="436" width="1" height="71" fill="#ff1414"/>
<rect x="466" y="436" width="3" height="32" fill="#ff1414"/>
<rect x="470" y="445" width="1" height="7" fill="#00a800"/>
<rect x="470" y="468" width="1" height="1" fill="#00a800"/>
<rect x="469" y="452" width="1" height="16" fill="#00a800"/>
<rect x="471" y="452" width="1" height="16" fill="#00a800"/>
<rect x="470" y="452" width="1" height="1" fill="#00a800"/>
<rect x="470" y="467" width="1" height="1" fill="#00a800"/>
<rect x="473" y="440" width="1" height="25" fill="#ff1414"/>
<rect x="472" y="452" width="3" height="8" fill="#ff1414"/>
<rect x="476" y="402" width="1" height="7" fill="#00a800"/>
<rect x="476" y="460" width="1" height="1" fill="#00a800"/>
<rect x="475" y="409" width="1" height="51" fill="#00a800"/>
<rect x="477" y="409" width="1" height="51" fill="#00a800"/>
<rect x="476" y="409" width="1" height="1" fill="#00a800"/>
<rect x="476" y="459" width="1" height="1" fill="#00a800"/>
<rect x="479" y="409" width="1" height="18" fill="#ff1414"/>
<rect x="478" y="409" width="3" height="6" fill="#ff1414"/>
<rect x="482" y="411" width="1" height="9" fill="#00a800"/>
<rect x="481" y="415" width="3" height="1" fill="#00a800"/>
<rect x="485" y="408" width="1" height="27" fill="#ff1414"/>
<rect x="484" y="415" width="3" height="17" fill="#ff1414"/>
<rect x="488" y="417" width="1" height="8" fill="#00a800"/>
<rect x="488" y="432" width="1" height="9" fill="#00a800"/>
<rect x="487" y="425" width="1" height="7" fill="#00a800"/>
<rect x="489" y="425" width="1" height="7" fill="#00a800"/>
<rect x="488" y="425" width="1" height="1" fill="#00a800"/>
<rect x="488" y="431" width="1" height="1" fill="#00a800"/>
<rect x="491" y="410" width="1" height="7" fill="#00a800"/>
<rect x="491" y="427" width="1" height="2" fill="#00a800"/>
<rect x="490" y="417" width="1" height="10" fill="#00a800"/>
<rect x="492" y="417" width="1" height="10" fill="#00a800"/>
<rect x="491" y="417" width="1" height="1" fill="#00a800"/>
<rect x="491" y="426" width="1" height="1" fill="#00a800"/>
<rect x="494" y="409" width="1" height="25" fill="#ff1414"/>
<rect x="493" y="417" width="3" height="15" fill="#ff1414"/>
<rect x="497" y="431" width="1" height="22" fill="#ff1414"/>
<rect x="496" y="432" width="3" height="9" fill="#ff1414"/>
<rect x="500" y="424" width="1" height="7" fill="#00a800"/>
<rect x="500" y="441" width="1" height="1" fill="#00a800"/>
<rect x="499" y="431" width="1" height="10" fill="#00a800"/>
<rect x="501" y="431" width="1" height="10" fill="#00a800"/>
<rect x="500" y="431" width="1" height="1" fill="#00a800"/>
<rect x="500" y="440" width="1" height="1" fill="#00a800"/>
<rect x="504" y="425" width="1" height="2" fill="#00a800"/>
<rect x="504" y="431" width="1" height="11" fill="#00a800"/>
<rect x="503" y="427" width="1" height="4" fill="#00a800"/>
<rect x="505" y="427" width="1" height="4" fill="#00a800"/>
<rect x="504" y="427" width="1" height="1" fill="#00a800"/>
<rect x="504" y="430" width="1" height="1" fill="#00a800"/>
<rect x="507" y="420" width="1" height="15" fill="#ff1414"/>
<rect x="506" y="426" width="3" height="9" fill="#ff1414"/>
<rect x="510" y="427" width="1" height="3" fill="#00a800"/>
<rect x="510" y="435" width="1" height="5" fill="#00a800"/>
<rect x="509" y="430" width="1" height="5" fill="#00a800"/>
<rect x="511" y="430" width="1" height="5" fill="#00a800"/>
<rect x="510" y="430" width="1" height="1" fill="#00a800"/>
<rect x="510" y="434" width="1" height="1" fill="#00a800"/>
<rect x="513" y="411" width="1" height="21" fill="#ff1414"/>
<rect x="512" y="427" width="3" height="4" fill="#ff1414"/>
<rect x="516" y="408" width="1" height="6" fill="#00a800"/>
<rect x="516" y="431" width="1" height="1" fill="#00a800"/>
<rect x="515" y="414" width="1" height="17" fill="#00a800"/>
<rect x="517" y="414" width="1" height="17" fill="#00a800"/>
<rect x="516" y="414" width="1" height="1" fill="#00a800"/>
<rect x="516" y="430" width="1" height="1" fill="#00a800"/>
<rect x="519" y="412" width="1" height="13" fill="#ff1414"/>
<rect x="518" y="414" width="3" height="6" fill="#ff1414"/>
<rect x="522" y="385" width="1" height="6" fill="#00a800"/>
<rect x="522" y="420" width="1" height="1" fill="#00a800"/>
<rect x="521" y="391" width="1" height="29" fill="#00a800"/>
<rect x="523" y="391" width="1" height="29" fill="#00a800"/>
<rect x="522" y="391" width="1" height="1" fill="#00a800"/>
<rect x="522" y="419" width="1" height="1" fill="#00a800"/>
<rect x="525" y="388" width="1" height="5" fill="#00a800"/>
<rect x="524" y="390" width="3" height="2" fill="#00a800"/>
<rect x="528" y="384" width="1" height="8" fill="#00a800"/>
<rect x="527" y="389" width="3" height="2" fill="#00a800"/>
<rect x="531" y="388" width="1" height="14" fill="#ff1414"/>
<rect x="530" y="390" width="3" height="12" fill="#ff1414"/>
<rect x="534" y="398" width="1" height="40" fill="#ff1414"/>
<rect x="533" y="401" width="3" height="27" fill="#ff1414"/>
<rect x="537" y="421" width="1" height="18" fill="#ff1414"/>
<rect x="536" y="427" width="3" height="3" fill="#ff1414"/>
<rect x="540" y="412" width="1" height="20" fill="#00a800"/>
<rect x="539" y="428" width="3" height="2" fill="#00a800"/>
<rect x="543" y="423" width="1" height="18" fill="#ff1414"/>
<rect x="542" y="428" width="3" height="1" fill="#ff1414"/>
<rect x="546" y="428" width="1" height="4" fill="#ff1414"/>
<rect x="545" y="429" width="3" height="2" fill="#ff1414"/>
<rect x="549" y="429" width="1" height="16" fill="#ff1414"/>
<rect x="548" y="430" width="3" height="14" fill="#ff1414"/>
<rect x="553" y="428" width="1" height="1" fill="#00a800"/>
<rect x="553" y="444" width="1" height="1" fill="#00a800"/>
<rect x="552" y="429" width="1" height="15" fill="#00a800"/>
<rect x="554" y="429" width="1" height="15" fill="#00a800"/>
<rect x="553" y="429" width="1" height="1" fill="#00a800"/>
<rect x="553" y="443" width="1" height="1" fill="#00a800"/>
<rect x="556" y="424" width="1" height="19" fill="#ff1414"/>
<rect x="555" y="429" width="3" height="13" fill="#ff1414"/>
<rect x="559" y="434" width="1" height="4" fill="#00a800"/>
<rect x="559" y="442" width="1" height="14" fill="#00a800"/>
<rect x="558" y="438" width="1" height="4" fill="#00a800"/>
<rect x="560" y="438" width="1" height="4" fill="#00a800"/>
<rect x="559" y="438" width="1" height="1" fill="#00a800"/>
<rect x="559" y="441" width="1" height="1" fill="#00a800"/>
<rect x="562" y="436" width="1" height="21" fill="#ff1414"/>
<rect x="561" y="438" width="3" height="14" fill="#ff1414"/>
<rect x="565" y="445" width="1" height="34" fill="#ff1414"/>
<rect x="564" y="452" width="3" height="16" fill="#ff1414"/>
<rect x="568" y="462" width="1" height="9" fill="#00a800"/>
<rect x="567" y="468" width="3" height="1" fill="#00a800"/>
<rect x="571" y="458" width="1" height="4" fill="#00a800"/>
<rect x="571" y="468" width="1" height="4" fill="#00a800"/>
<rect x="570" y="462" width="1" height="6" fill="#00a800"/>
<rect x="572" y="462" width="1" height="6" fill="#00a800"/>
<rect x="571" y="462" width="1" height="1" fill="#00a800"/>
<rect x="571" y="467" width="1" height="1" fill="#00a800"/>
<rect x="574" y="438" width="1" height="7" fill="#00a800"/>
<rect x="573" y="445" width="1" height="17" fill="#00a800"/>
<rect x="575" y="445" width="1" height="17" fill="#00a800"/>
<rect x="574" y="445" width="1" height="1" fill="#00a800"/>
<rect x="574" y="461" width="1" height="1" fill="#00a800"/>
<rect x="577" y="439" width="1" height="2" fill="#00a800"/>
<rect x="577" y="445" width="1" height="5" fill="#00a800"/>
<rect x="576" y="441" width="1" height="4" fill="#00a800"/>
<rect x="578" y="441" width="1" height="4" fill="#00a800"/>
<rect x="577" y="441" width="1" height="1" fill="#00a800"/>
<rect x="577" y="444" width="1" height="1" fill="#00a800"/>
<rect x="580" y="440" width="1" height="17" fill="#ff1414"/>
<rect x="579" y="441" width="3" height="2" fill="#ff1414"/>
<rect x="583" y="433" width="1" height="5" fill="#00a800"/>
<rect x="583" y="443" width="1" height="1" fill="#00a800"/>
<rect x="582" y="438" width="1" height="5" fill="#00a800"/>
<rect x="584" y="438" width="1" height="5" fill="#00a800"/>
<rect x="583" y="438" width="1" height="1" fill="#00a800"/>
<rect x="583" y="442" width="1" height="1" fill="#00a800"/>
<rect x="586" y="438" width="1" height="3" fill="#00a800"/>
<rect x="585" y="418" width="1" height="20" fill="#00a800"/>
<rect x="587" y="418" width="1" height="20" fill="#00a800"/>
<rect x="586" y="418" width="1" height="1" fill="#00a800"/>
<rect x="586" y="437" width="1" height="1" fill="#00a800"/>
<rect x="589" y="418" width="1" height="6" fill="#ff1414"/>
<rect x="588" y="418" width="3" height="4" fill="#ff1414"/>
<rect x="592" y="419" width="1" height="13" fill="#ff1414"/>
<rect x="591" y="422" width="3" height="7" fill="#ff1414"/>
<rect x="595" y="428" width="1" height="14" fill="#ff1414"/>
<rect x="594" y="428" width="3" height="9" fill="#ff1414"/>
<rect x="598" y="412" width="1" height="9" fill="#00a800"/>
<rect x="598" y="437" width="1" height="5" fill="#00a800"/>
<rect x="597" y="421" width="1" height="16" fill="#00a800"/>
<rect x="599" y="421" width="1" height="16" fill="#00a800"/>
<rect x="598" y="421" width="1" height="1" fill="#00a800"/>
<rect x="598" y="436" width="1" height="1" fill="#00a800"/>
<rect x="601" y="408" width="1" height="2" fill="#00a800"/>
<rect x="601" y="420" width="1" height="10" fill="#00a800"/>
<rect x="600" y="410" width="1" height="10" fill="#00a800"/>
<rect x="602" y="410" width="1" height="10" fill="#00a800"/>
<rect x="601" y="410" width="1" height="1" fill="#00a800"/>
<rect x="601" y="419" width="1" height="1" fill="#00a800"/>
<rect x="605" y="400" width="1" height="1" fill="#00a800"/>
<rect x="605" y="410" width="1" height="1" fill="#00a800"/>
<rect x="604" y="401" width="1" height="9" fill="#00a800"/>
<rect x="606" y="401" width="1" height="9" fill="#00a800"/>
<rect x="605" y="401" width="1" height="1" fill="#00a800"/>
<rect x="605" y="409" width="1" height="1" fill="#00a800"/>
<rect x="608" y="393" width="1" height="5" fill="#00a800"/>
<rect x="608" y="401" width="1" height="5" fill="#00a800"/>
<rect x="607" y="398" width="1" height="3" fill="#00a800"/>
<rect x="609" y="398" width="1" height="3" fill="#00a800"/>
<rect x="608" y="398" width="1" height="1" fill="#00a800"/>
<rect x="608" y="400" width="1" height="1" fill="#00a800"/>
<rect x="611" y="396" width="1" height="6" fill="#00a800"/>
<rect x="610" y="397" width="3" height="2" fill="#00a800"/>
<rect x="614" y="392" width="1" height="12" fill="#00a800"/>
<rect x="613" y="396" width="3" height="2" fill="#00a800"/>
<rect x="617" y="386" width="1" height="17" fill="#ff1414"/>
<rect x="616" y="396" width="3" height="2" fill="#ff1414"/>
<rect x="620" y="388" width="1" height="2" fill="#00a800"/>
<rect x="620" y="398" width="1" height="4" fill="#00a800"/>
<rect x="619" y="390" width="1" height="8" fill="#00a800"/>
<rect x="621" y="390" width="1" height="8" fill="#00a800"/>
<rect x="620" y="390" width="1" height="1" fill="#00a800"/>
<rect x="620" y="397" width="1" height="1" fill="#00a800"/>
<rect x="623" y="386" width="1" height="15" fill="#ff1414"/>
<rect x="622" y="390" width="3" height="10" fill="#ff1414"/>
<rect x="626" y="378" width="1" height="5" fill="#00a800"/>
<rect x="626" y="400" width="1" height="2" fill="#00a800"/>
<rect x="625" y="383" width="1" height="17" fill="#00a800"/>
<rect x="627" y="383" width="1" height="17" fill="#00a800"/>
<rect x="626" y="383" width="1" height="1" fill="#00a800"/>
<rect x="626" y="399" width="1" height="1" fill="#00a800"/>
<rect x="629" y="372" width="1" height="6" fill="#00a800"/>
<rect x="629" y="383" width="1" height="4" fill="#00a800"/>
<rect x="628" y="378" width="1" height="5" fill="#00a800"/>
<rect x="630" y="378" width="1" height="5" fill="#00a800"/>
<rect x="629" y="378" width="1" height="1" fill="#00a800"/>
<rect x="629" y="382" width="1" height="1" fill="#00a800"/>
<rect x="632" y="375" width="1" height="7" fill="#00a800"/>
<rect x="631" y="377" width="3" height="1" fill="#00a800"/>
<rect x="635" y="377" width="1" height="5" fill="#ff1414"/>
<rect x="634" y="378" width="3" height="3" fill="#ff1414"/>
<rect x="638" y="379" width="1" height="23" fill="#ff1414"/>
<rect x="637" y="380" width="3" height="18" fill="#ff1414"/>
<rect x="641" y="392" width="1" height="30" fill="#ff1414"/>
<rect x="640" y="397" width="3" height="20" fill="#ff1414"/>
<rect x="644" y="404" width="1" height="19" fill="#ff1414"/>
<rect x="643" y="416" width="3" height="2" fill="#ff1414"/>
<rect x="647" y="418" width="1" height="6" fill="#00a800"/>
<rect x="646" y="411" width="1" height="7" fill="#00a800"/>
<rect x="648" y="411" width="1" height="7" fill="#00a800"/>
<rect x="647" y="411" width="1" height="1" fill="#00a800"/>
<rect x="647" y="417" width="1" height="1" fill="#00a800"/>
<rect x="650" y="404" width="1" height="3" fill="#00a800"/>
<rect x="650" y="411" width="1" height="9" fill="#00a800"/>
<rect x="649" y="407" width="1" height="4" fill="#00a800"/>
<rect x="651" y="407" width="1" height="4" fill="#00a800"/>
<rect x="650" y="407" width="1" height="1" fill="#00a800"/>
<rect x="650" y="410" width="1" height="1" fill="#00a800"/>
<rect x="653" y="403" width="1" height="8" fill="#ff1414"/>
<rect x="652" y="406" width="3" height="2" fill="#ff1414"/>
<rect x="657" y="400" width="1" height="1" fill="#00a800"/>
<rect x="657" y="407" width="1" height="3" fill="#00a800"/>
<rect x="656" y="401" width="1" height="6" fill="#00a800"/>
<rect x="658" y="401" width="1" height="6" fill="#00a800"/>
<rect x="657" y="401" width="1" height="1" fill="#00a800"/>
<rect x="657" y="406" width="1" height="1" fill="#00a800"/>
<rect x="660" y="389" width="1" height="19" fill="#ff1414"/>
<rect x="659" y="401" width="3" height="6" fill="#ff1414"/>
<rect x="663" y="398" width="1" height="12" fill="#ff1414"/>
<rect x="662" y="406" width="3" height="1" fill="#ff1414"/>
<rect x="666" y="404" width="1" height="18" fill="#ff1414"/>
<rect x="665" y="406" width="3" height="12" fill="#ff1414"/>
<rect x="669" y="415" width="1" height="17" fill="#ff1414"/>
<rect x="668" y="416" width="3" height="2" fill="#ff1414"/>
<rect x="672" y="397" width="1" height="6" fill="#00a800"/>
<rect x="672" y="418" width="1" height="4" fill="#00a800"/>
<rect x="671" y="403" width="1" height="15" fill="#00a800"/>
<rect x="673" y="403" width="1" height="15" fill="#00a800"/>
<rect x="672" y="403" width="1" height="1" fill="#00a800"/>
<rect x="672" y="417" width="1" height="1" fill="#00a800"/>
<rect x="675" y="397" width="1" height="1" fill="#00a800"/>
<rect x="675" y="403" width="1" height="2" fill="#00a800"/>
<rect x="674" y="398" width="1" height="5" fill="#00a800"/>
<rect x="676" y="398" width="1" height="5" fill="#00a800"/>
<rect x="675" y="398" width="1" height="1" fill="#00a800"/>
<rect x="675" y="402" width="1" height="1" fill="#00a800"/>
<rect x="678" y="398" width="1" height="10" fill="#ff1414"/>
<rect x="677" y="398" width="3" height="3" fill="#ff1414"/>
<rect x="681" y="375" width="1" height="2" fill="#00a800"/>
<rect x="681" y="401" width="1" height="3" fill="#00a800"/>
<rect x="680" y="377" width="1" height="24" fill="#00a800"/>
<rect x="682" y="377" width="1" height="24" fill="#00a800"/>
<rect x="681" y="377" width="1" height="1" fill="#00a800"/>
<rect x="681" y="400" width="1" height="1" fill="#00a800"/>
<rect x="684" y="362" width="1" height="7" fill="#00a800"/>
<rect x="684" y="377" width="1" height="10" fill="#00a800"/>
<rect x="683" y="369" width="1" height="8" fill="#00a800"/>
<rect x="685" y="369" width="1" height="8" fill="#00a800"/>
<rect x="684" y="369" width="1" height="1" fill="#00a800"/>
<rect x="684" y="376" width="1" height="1" fill="#00a800"/>
<rect x="687" y="359" width="1" height="7" fill="#00a800"/>
<rect x="687" y="370" width="1" height="1" fill="#00a800"/>
<rect x="686" y="366" width="1" height="4" fill="#00a800"/>
<rect x="688" y="366" width="1" height="4" fill="#00a800"/>
<rect x="687" y="366" width="1" height="1" fill="#00a800"/>
<rect x="687" y="369" width="1" height="1" fill="#00a800"/>
<rect x="690" y="362" width="1" height="10" fill="#ff1414"/>
<rect x="689" y="365" width="3" height="3" fill="#ff1414"/>
<rect x="693" y="354" width="1" height="4" fill="#00a800"/>
<rect x="693" y="366" width="1" height="2" fill="#00a800"/>
<rect x="692" y="358" width="1" height="8" fill="#00a800"/>
<rect x="694" y="358" width="1" height="8" fill="#00a800"/>
<rect x="693" y="358" width="1" height="1" fill="#00a800"/>
<rect x="693" y="365" width="1" height="1" fill="#00a800"/>
<rect x="696" y="356" width="1" height="6" fill="#ff1414"/>
<rect x="695" y="358" width="3" height="3" fill="#ff1414"/>
<rect x="699" y="351" width="1" height="3" fill="#00a800"/>
<rect x="699" y="360" width="1" height="1" fill="#00a800"/>
<rect x="698" y="354" width="1" height="6" fill="#00a800"/>
<rect x="700" y="354" width="1" height="6" fill="#00a800"/>
<rect x="699" y="354" width="1" height="1" fill="#00a800"/>
<rect x="699" y="359" width="1" height="1" fill="#00a800"/>
<rect x="702" y="350" width="1" height="22" fill="#ff1414"/>
<rect x="701" y="354" width="3" height="14" fill="#ff1414"/>
<rect x="705" y="363" width="1" height="10" fill="#00a800"/>
<rect x="704" y="367" width="3" height="1" fill="#00a800"/>
<rect x="709" y="366" width="1" height="18" fill="#ff1414"/>
<rect x="708" y="366" width="3" height="7" fill="#ff1414"/>
<rect x="712" y="355" width="1" height="5" fill="#00a800"/>
<rect x="711" y="360" width="1" height="13" fill="#00a800"/>
<rect x="713" y="360" width="1" height="13" fill="#00a800"/>
<rect x="712" y="360" width="1" height="1" fill="#00a800"/>
<rect x="712" y="372" width="1" height="1" fill="#00a800"/>
<rect x="715" y="356" width="1" height="26" fill="#ff1414"/>
<rect x="714" y="360" width="3" height="13" fill="#ff1414"/>
<rect x="718" y="366" width="1" height="3" fill="#00a800"/>
<rect x="718" y="373" width="1" height="2" fill="#00a800"/>
<rect x="717" y="369" width="1" height="4" fill="#00a800"/>
<rect x="719" y="369" width="1" height="4" fill="#00a800"/>
<rect x="718" y="369" width="1" height="1" fill="#00a800"/>
<rect x="718" y="372" width="1" height="1" fill="#00a800"/>
<rect x="721" y="360" width="1" height="2" fill="#00a800"/>
<rect x="721" y="369" width="1" height="2" fill="#00a800"/>
<rect x="720" y="362" width="1" height="7" fill="#00a800"/>
<rect x="722" y="362" width="1" height="7" fill="#00a800"/>
<rect x="721" y="362" width="1" height="1" fill="#00a800"/>
<rect x="721" y="368" width="1" height="1" fill="#00a800"/>
<rect x="724" y="345" width="1" height="2" fill="#00a800"/>
<rect x="724" y="363" width="1" height="2" fill="#00a800"/>
<rect x="723" y="347" width="1" height="16" fill="#00a800"/>
<rect x="725" y="347" width="1" height="16" fill="#00a800"/>
<rect x="724" y="347" width="1" height="1" fill="#00a800"/>
<rect x="724" y="362" width="1" height="1" fill="#00a800"/>
<rect x="727" y="319" width="1" height="7" fill="#00a800"/>
<rect x="727" y="348" width="1" height="2" fill="#00a800"/>
<rect x="726" y="326" width="1" height="22" fill="#00a800"/>
<rect x="728" y="326" width="1" height="22" fill="#00a800"/>
<rect x="727" y="326" width="1" height="1" fill="#00a800"/>
<rect x="727" y="347" width="1" height="1" fill="#00a800"/>
<rect x="730" y="324" width="1" height="13" fill="#ff1414"/>
<rect x="729" y="326" width="3" height="3" fill="#ff1414"/>
<rect x="733" y="326" width="1" height="25" fill="#ff1414"/>
<rect x="732" y="329" width="3" height="17" fill="#ff1414"/>
<rect x="736" y="334" width="1" height="23" fill="#ff1414"/>
<rect x="735" y="345" width="3" height="6" fill="#ff1414"/>
<rect x="739" y="347" width="1" height="8" fill="#ff1414"/>
<rect x="738" y="350" width="3" height="3" fill="#ff1414"/>
<rect x="742" y="351" width="1" height="16" fill="#ff1414"/>
<rect x="741" y="351" width="3" height="6" fill="#ff1414"/>
<rect x="745" y="351" width="1" height="21" fill="#ff1414"/>
<rect x="744" y="356" width="3" height="8" fill="#ff1414"/>
<rect x="748" y="342" width="1" height="9" fill="#00a800"/>
<rect x="748" y="363" width="1" height="4" fill="#00a800"/>
<rect x="747" y="351" width="1" height="12" fill="#00a800"/>
<rect x="749" y="351" width="1" height="12" fill="#00a800"/>
<rect x="748" y="351" width="1" height="1" fill="#00a800"/>
<rect x="748" y="362" width="1" height="1" fill="#00a800"/>
<rect x="751" y="297" width="1" height="8" fill="#00a800"/>
<rect x="751" y="352" width="1" height="1" fill="#00a800"/>
<rect x="750" y="305" width="1" height="47" fill="#00a800"/>
<rect x="752" y="305" width="1" height="47" fill="#00a800"/>
<rect x="751" y="305" width="1" height="1" fill="#00a800"/>
<rect x="751" y="351" width="1" height="1" fill="#00a800"/>
<rect x="754" y="294" width="1" height="7" fill="#00a800"/>
<rect x="754" y="305" width="1" height="8" fill="#00a800"/>
<rect x="753" y="301" width="1" height="4" fill="#00a800"/>
<rect x="755" y="301" width="1" height="4" fill="#00a800"/>
<rect x="754" y="301" width="1" height="1" fill="#00a800"/>
<rect x="754" y="304" width="1" height="1" fill="#00a800"/>
<rect x="758" y="291" width="1" height="6" fill="#00a800"/>
<rect x="758" y="302" width="1" height="2" fill="#00a800"/>
<rect x="757" y="297" width="1" height="5" fill="#00a800"/>
<rect x="759" y="297" width="1" height="5" fill="#00a800"/>
<rect x="758" y="297" width="1" height="1" fill="#00a800"/>
<rect x="758" y="301" width="1" height="1" fill="#00a800"/>
<rect x="761" y="294" width="1" height="1" fill="#00a800"/>
<rect x="761" y="298" width="1" height="5" fill="#00a800"/>
<rect x="760" y="295" width="1" height="3" fill="#00a800"/>
<rect x="762" y="295" width="1" height="3" fill="#00a800"/>
<rect x="761" y="295" width="1" height="1" fill="#00a800"/>
<rect x="761" y="297" width="1" height="1" fill="#00a800"/>
<rect x="764" y="259" width="1" height="9" fill="#00a800"/>
<rect x="763" y="268" width="1" height="30" fill="#00a800"/>
<rect x="765" y="268" width="1" height="30" fill="#00a800"/>
<rect x="764" y="268" width="1" height="1" fill="#00a800"/>
<rect x="764" y="297" width="1" height="1" fill="#00a800"/>
<rect x="767" y="198" width="1" height="6" fill="#00a800"/>
<rect x="767" y="268" width="1" height="1" fill="#00a800"/>
<rect x="766" y="204" width="1" height="64" fill="#00a800"/>
<rect x="768" y="204" width="1" height="64" fill="#00a800"/>
<rect x="767" y="204" width="1" height="1" fill="#00a800"/>
<rect x="767" y="267" width="1" height="1" fill="#00a800"/>
<rect x="770" y="194" width="1" height="38" fill="#ff1414"/>
<rect x="769" y="204" width="3" height="6" fill="#ff1414"/>
<rect x="773" y="168" width="1" height="23" fill="#00a800"/>
<rect x="773" y="210" width="1" height="14" fill="#00a800"/>
<rect x="772" y="191" width="1" height="19" fill="#00a800"/>
<rect x="774" y="191" width="1" height="19" fill="#00a800"/>
<rect x="773" y="191" width="1" height="1" fill="#00a800"/>
<rect x="773" y="209" width="1" height="1" fill="#00a800"/>
<rect x="776" y="181" width="1" height="40" fill="#ff1414"/>
<rect x="775" y="191" width="3" height="25" fill="#ff1414"/>
<rect x="779" y="180" width="1" height="6" fill="#00a800"/>
<rect x="779" y="216" width="1" height="1" fill="#00a800"/>
<rect x="778" y="186" width="1" height="30" fill="#00a800"/>
<rect x="780" y="186" width="1" height="30" fill="#00a800"/>
<rect x="779" y="186" width="1" height="1" fill="#00a800"/>
<rect x="779" y="215" width="1" height="1" fill="#00a800"/>
<rect x="782" y="181" width="1" height="14" fill="#ff1414"/>
<rect x="781" y="186" width="3" height="5" fill="#ff1414"/>
<rect x="785" y="184" width="1" height="21" fill="#ff1414"/>
<rect x="784" y="190" width="3" height="6" fill="#ff1414"/>
<rect x="788" y="174" width="1" height="2" fill="#00a800"/>
<rect x="788" y="196" width="1" height="17" fill="#00a800"/>
<rect x="787" y="176" width="1" height="20" fill="#00a800"/>
<rect x="789" y="176" width="1" height="20" fill="#00a800"/>
<rect x="788" y="176" width="1" height="1" fill="#00a800"/>
<rect x="788" y="195" width="1" height="1" fill="#00a800"/>
<rect x="791" y="163" width="1" height="1" fill="#00a800"/>
<rect x="790" y="164" width="1" height="28" fill="#00a800"/>
<rect x="792" y="164" width="1" height="28" fill="#00a800"/>
<rect x="791" y="164" width="1" height="1" fill="#00a800"/>
<rect x="791" y="191" width="1" height="1" fill="#00a800"/>
<rect x="794" y="160" width="1" height="1" fill="#00a800"/>
<rect x="794" y="177" width="1" height="5" fill="#00a800"/>
<rect x="793" y="161" width="1" height="16" fill="#00a800"/>
<rect x="795" y="161" width="1" height="16" fill="#00a800"/>
<rect x="794" y="161" width="1" height="1" fill="#00a800"/>
<rect x="794" y="176" width="1" height="1" fill="#00a800"/>
<rect x="797" y="126" width="1" height="4" fill="#00a800"/>
<rect x="796" y="130" width="1" height="32" fill="#00a800"/>
<rect x="798" y="130" width="1" height="32" fill="#00a800"/>
<rect x="797" y="130" width="1" height="1" fill="#00a800"/>
<rect x="797" y="161" width="1" height="1" fill="#00a800"/>
<rect x="800" y="119" width="1" height="8" fill="#00a800"/>
<rect x="800" y="130" width="1" height="5" fill="#00a800"/>
<rect x="799" y="127" width="1" height="3" fill="#00a800"/>
<rect x="801" y="127" width="1" height="3" fill="#00a800"/>
<rect x="800" y="127" width="1" height="1" fill="#00a800"/>
<rect x="800" y="129" width="1" height="1" fill="#00a800"/>
<rect x="803" y="126" width="1" height="15" fill="#ff1414"/>
<rect x="802" y="126" width="3" height="9" fill="#ff1414"/>
<rect x="806" y="127" width="1" height="25" fill="#00a800"/>
<rect x="805" y="134" width="3" height="2" fill="#00a800"/>
<rect x="810" y="127" width="1" height="48" fill="#ff1414"/>
<rect x="809" y="134" width="3" height="39" fill="#ff1414"/>
<rect x="813" y="157" width="1" height="33" fill="#ff1414"/>
<rect x="812" y="172" width="3" height="9" fill="#ff1414"/>
<rect x="816" y="138" width="1" height="11" fill="#00a800"/>
<rect x="816" y="181" width="1" height="1" fill="#00a800"/>
<rect x="815" y="149" width="1" height="32" fill="#00a800"/>
<rect x="817" y="149" width="1" height="32" fill="#00a800"/>
<rect x="816" y="149" width="1" height="1" fill="#00a800"/>
<rect x="816" y="180" width="1" height="1" fill="#00a800"/>
<rect x="819" y="144" width="1" height="16" fill="#ff1414"/>
<rect x="818" y="149" width="3" height="3" fill="#ff1414"/>
<rect x="822" y="128" width="1" height="10" fill="#00a800"/>
<rect x="822" y="152" width="1" height="3" fill="#00a800"/>
<rect x="821" y="138" width="1" height="14" fill="#00a800"/>
<rect x="823" y="138" width="1" height="14" fill="#00a800"/>
<rect x="822" y="138" width="1" height="1" fill="#00a800"/>
<rect x="822" y="151" width="1" height="1" fill="#00a800"/>
<rect x="825" y="136" width="1" height="13" fill="#ff1414"/>
<rect x="824" y="138" width="3" height="8" fill="#ff1414"/>
<rect x="828" y="134" width="1" height="5" fill="#00a800"/>
<rect x="828" y="146" width="1" height="7" fill="#00a800"/>
<rect x="827" y="139" width="1" height="7" fill="#00a800"/>
<rect x="829" y="139" width="1" height="7" fill="#00a800"/>
<rect x="828" y="139" width="1" height="1" fill="#00a800"/>
<rect x="828" y="145" width="1" height="1" fill="#00a800"/>
<rect x="831" y="132" width="1" height="30" fill="#ff1414"/>
<rect x="830" y="139" width="3" height="12" fill="#ff1414"/>
<rect x="834" y="144" width="1" height="24" fill="#00a800"/>
<rect x="833" y="149" width="3" height="2" fill="#00a800"/>
<rect x="837" y="125" width="1" height="3" fill="#00a800"/>
<rect x="837" y="150" width="1" height="1" fill="#00a800"/>
<rect x="836" y="128" width="1" height="22" fill="#00a800"/>
<rect x="838" y="128" width="1" height="22" fill="#00a800"/>
<rect x="837" y="128" width="1" height="1" fill="#00a800"/>
<rect x="837" y="149" width="1" height="1" fill="#00a800"/>
<rect x="840" y="88" width="1" height="94" fill="#ff1414"/>
<rect x="839" y="128" width="3" height="14" fill="#ff1414"/>
<rect x="843" y="103" width="1" height="16" fill="#00a800"/>
<rect x="843" y="142" width="1" height="5" fill="#00a800"/>
<rect x="842" y="119" width="1" height="23" fill="#00a800"/>
<rect x="844" y="119" width="1" height="23" fill="#00a800"/>
<rect x="843" y="119" width="1" height="1" fill="#00a800"/>
<rect x="843" y="141" width="1" height="1" fill="#00a800"/>
<rect x="846" y="113" width="1" height="14" fill="#00a800"/>
<rect x="845" y="118" width="3" height="1" fill="#00a800"/>
<rect x="849" y="108" width="1" height="1" fill="#00a800"/>
<rect x="849" y="119" width="1" height="9" fill="#00a800"/>
<rect x="848" y="109" width="1" height="10" fill="#00a800"/>
<rect x="850" y="109" width="1" height="10" fill="#00a800"/>
<rect x="849" y="109" width="1" height="1" fill="#00a800"/>
<rect x="849" y="118" width="1" height="1" fill="#00a800"/>
<rect x="852" y="109" width="1" height="51" fill="#ff1414"/>
<rect x="851" y="109" width="3" height="30" fill="#ff1414"/>
<rect x="855" y="131" width="1" height="32" fill="#ff1414"/>
<rect x="854" y="139" width="3" height="5" fill="#ff1414"/>
<rect x="858" y="103" width="1" height="6" fill="#00a800"/>
<rect x="858" y="144" width="1" height="8" fill="#00a800"/>
<rect x="857" y="109" width="1" height="35" fill="#00a800"/>
<rect x="859" y="109" width="1" height="35" fill="#00a800"/>
<rect x="858" y="109" width="1" height="1" fill="#00a800"/>
<rect x="858" y="143" width="1" height="1" fill="#00a800"/>
<rect x="862" y="99" width="1" height="25" fill="#ff1414"/>
<rect x="861" y="109" width="3" height="9" fill="#ff1414"/>
<rect x="865" y="104" width="1" height="4" fill="#00a800"/>
<rect x="865" y="118" width="1" height="6" fill="#00a800"/>
<rect x="864" y="108" width="1" height="10" fill="#00a800"/>
<rect x="866" y="108" width="1" height="10" fill="#00a800"/>
<rect x="865" y="108" width="1" height="1" fill="#00a800"/>
<rect x="865" y="117" width="1" height="1" fill="#00a800"/>
<rect x="868" y="98" width="1" height="12" fill="#ff1414"/>
<rect x="867" y="108" width="3" height="1" fill="#ff1414"/>
<rect x="871" y="79" width="1" height="6" fill="#00a800"/>
<rect x="871" y="108" width="1" height="1" fill="#00a800"/>
<rect x="870" y="85" width="1" height="23" fill="#00a800"/>
<rect x="872" y="85" width="1" height="23" fill="#00a800"/>
<rect x="871" y="85" width="1" height="1" fill="#00a800"/>
<rect x="871" y="107" width="1" height="1" fill="#00a800"/>
<rect x="874" y="59" width="1" height="13" fill="#00a800"/>
<rect x="874" y="85" width="1" height="8" fill="#00a800"/>
<rect x="873" y="72" width="1" height="13" fill="#00a800"/>
<rect x="875" y="72" width="1" height="13" fill="#00a800"/>
<rect x="874" y="72" width="1" height="1" fill="#00a800"/>
<rect x="874" y="84" width="1" height="1" fill="#00a800"/>
<rect x="877" y="54" width="1" height="25" fill="#00a800"/>
<rect x="876" y="72" width="3" height="1" fill="#00a800"/>
<rect x="880" y="69" width="1" height="50" fill="#ff1414"/>
<rect x="879" y="72" width="3" height="46" fill="#ff1414"/>
<rect x="883" y="98" width="1" height="55" fill="#ff1414"/>
<rect x="882" y="117" width="3" height="22" fill="#ff1414"/>
<rect x="886" y="133" width="1" height="46" fill="#00a800"/>
<rect x="885" y="136" width="3" height="2" fill="#00a800"/>
<rect x="889" y="122" width="1" height="25" fill="#ff1414"/>
<rect x="888" y="135" width="3" height="5" fill="#ff1414"/>
<rect x="892" y="137" width="1" height="27" fill="#ff1414"/>
<rect x="891" y="139" width="3" height="18" fill="#ff1414"/>
<rect x="895" y="146" width="1" height="31" fill="#ff1414"/>
<rect x="894" y="156" width="3" height="2" fill="#ff1414"/>
<rect x="898" y="123" width="1" height="6" fill="#00a800"/>
<rect x="898" y="158" width="1" height="10" fill="#00a800"/>
<rect x="897" y="129" width="1" height="29" fill="#00a800"/>
<rect x="899" y="129" width="1" height="29" fill="#00a800"/>
<rect x="898" y="129" width="1" height="1" fill="#00a800"/>
<rect x="898" y="157" width="1" height="1" fill="#00a800"/>
<rect x="901" y="122" width="1" height="1" fill="#00a800"/>
<rect x="901" y="129" width="1" height="9" fill="#00a800"/>
<rect x="900" y="123" width="1" height="6" fill="#00a800"/>
<rect x="902" y="123" width="1" height="6" fill="#00a800"/>
<rect x="901" y="123" width="1" height="1" fill="#00a800"/>
<rect x="901" y="128" width="1" height="1" fill="#00a800"/>
<rect x="904" y="119" width="1" height="38" fill="#ff1414"/>
<rect x="903" y="123" width="3" height="28" fill="#ff1414"/>
<rect x="907" y="139" width="1" height="32" fill="#ff1414"/>
<rect x="906" y="151" width="3" height="12" fill="#ff1414"/>
<rect x="911" y="152" width="1" height="4" fill="#00a800"/>
<rect x="911" y="163" width="1" height="1" fill="#00a800"/>
<rect x="910" y="156" width="1" height="7" fill="#00a800"/>
<rect x="912" y="156" width="1" height="7" fill="#00a800"/>
<rect x="911" y="156" width="1" height="1" fill="#00a800"/>
<rect x="911" y="162" width="1" height="1" fill="#00a800"/>
<rect x="914" y="155" width="1" height="18" fill="#ff1414"/>
<rect x="913" y="155" width="3" height="13" fill="#ff1414"/>
<rect x="917" y="157" width="1" height="30" fill="#ff1414"/>
<rect x="916" y="167" width="3" height="6" fill="#ff1414"/>
<rect x="920" y="148" width="1" height="22" fill="#00a800"/>
<rect x="920" y="174" width="1" height="6" fill="#00a800"/>
<rect x="919" y="170" width="1" height="4" fill="#00a800"/>
<rect x="921" y="170" width="1" height="4" fill="#00a800"/>
<rect x="920" y="170" width="1" height="1" fill="#00a800"/>
<rect x="920" y="173" width="1" height="1" fill="#00a800"/>
<rect x="923" y="157" width="1" height="4" fill="#00a800"/>
<rect x="923" y="171" width="1" height="4" fill="#00a800"/>
<rect x="922" y="161" width="1" height="10" fill="#00a800"/>
<rect x="924" y="161" width="1" height="10" fill="#00a800"/>
<rect x="923" y="161" width="1" height="1" fill="#00a800"/>
<rect x="923" y="170" width="1" height="1" fill="#00a800"/>
<rect x="926" y="134" width="1" height="4" fill="#00a800"/>
<rect x="926" y="162" width="1" height="2" fill="#00a800"/>
<rect x="925" y="138" width="1" height="24" fill="#00a800"/>
<rect x="927" y="138" width="1" height="24" fill="#00a800"/>
<rect x="926" y="138" width="1" height="1" fill="#00a800"/>
<rect x="926" y="161" width="1" height="1" fill="#00a800"/>
<rect x="929" y="126" width="1" height="7" fill="#00a800"/>
<rect x="929" y="138" width="1" height="5" fill="#00a800"/>
<rect x="928" y="133" width="1" height="5" fill="#00a800"/>
<rect x="930" y="133" width="1" height="5" fill="#00a800"/>
<rect x="929" y="133" width="1" height="1" fill="#00a800"/>
<rect x="929" y="137" width="1" height="1" fill="#00a800"/>
<rect x="932" y="128" width="1" height="10" fill="#00a800"/>
<rect x="931" y="132" width="3" height="2" fill="#00a800"/>
<rect x="935" y="128" width="1" height="12" fill="#00a800"/>
<rect x="934" y="131" width="3" height="1" fill="#00a800"/>
<rect x="938" y="99" width="1" height="2" fill="#00a800"/>
<rect x="938" y="132" width="1" height="3" fill="#00a800"/>
<rect x="937" y="101" width="1" height="31" fill="#00a800"/>
<rect x="939" y="101" width="1" height="31" fill="#00a800"/>
<rect x="938" y="101" width="1" height="1" fill="#00a800"/>
<rect x="938" y="131" width="1" height="1" fill="#00a800"/>
<rect x="941" y="98" width="1" height="46" fill="#ff1414"/>
<rect x="940" y="101" width="3" height="41" fill="#ff1414"/>
<rect x="944" y="139" width="1" height="38" fill="#ff1414"/>
<rect x="943" y="142" width="3" height="15" fill="#ff1414"/>
<rect x="947" y="143" width="1" height="43" fill="#ff1414"/>
<rect x="946" y="156" width="3" height="20" fill="#ff1414"/>
<rect x="950" y="150" width="1" height="9" fill="#00a800"/>
<rect x="950" y="176" width="1" height="3" fill="#00a800"/>
<rect x="949" y="159" width="1" height="17" fill="#00a800"/>
<rect x="951" y="159" width="1" height="17" fill="#00a800"/>
<rect x="950" y="159" width="1" height="1" fill="#00a800"/>
<rect x="950" y="175" width="1" height="1" fill="#00a800"/>
<rect x="953" y="156" width="1" height="9" fill="#ff1414"/>
<rect x="952" y="159" width="3" height="2" fill="#ff1414"/>
<rect x="956" y="154" width="1" height="13" fill="#ff1414"/>
<rect x="955" y="160" width="3" height="1" fill="#ff1414"/>
<rect x="959" y="150" width="1" height="51" fill="#00a800"/>
<rect x="958" y="160" width="3" height="1" fill="#00a800"/>
<rect x="963" y="139" width="1" height="7" fill="#00a800"/>
<rect x="963" y="161" width="1" height="2" fill="#00a800"/>
<rect x="962" y="146" width="1" height="15" fill="#00a800"/>
<rect x="964" y="146" width="1" height="15" fill="#00a800"/>
<rect x="963" y="146" width="1" height="1" fill="#00a800"/>
<rect x="963" y="160" width="1" height="1" fill="#00a800"/>
<rect x="966" y="112" width="1" height="3" fill="#00a800"/>
<rect x="965" y="115" width="1" height="31" fill="#00a800"/>
<rect x="967" y="115" width="1" height="31" fill="#00a800"/>
<rect x="966" y="115" width="1" height="1" fill="#00a800"/>
<rect x="966" y="145" width="1" height="1" fill="#00a800"/>
<rect x="969" y="114" width="1" height="26" fill="#ff1414"/>
<rect x="968" y="115" width="3" height="4" fill="#ff1414"/>
<rect x="972" y="73" width="1" height="15" fill="#00a800"/>
<rect x="972" y="119" width="1" height="1" fill="#00a800"/>
<rect x="971" y="88" width="1" height="31" fill="#00a800"/>
<rect x="973" y="88" width="1" height="31" fill="#00a800"/>
<rect x="972" y="88" width="1" height="1" fill="#00a800"/>
<rect x="972" y="118" width="1" height="1" fill="#00a800"/>
<rect x="975" y="76" width="1" height="26" fill="#00a800"/>
<rect x="974" y="86" width="3" height="2" fill="#00a800"/>
<rect x="978" y="70" width="1" height="53" fill="#ff1414"/>
<rect x="977" y="85" width="3" height="25" fill="#ff1414"/>
<rect x="981" y="46" width="1" height="56" fill="#00a800"/>
<rect x="981" y="110" width="1" height="14" fill="#00a800"/>
<rect x="980" y="102" width="1" height="8" fill="#00a800"/>
<rect x="982" y="102" width="1" height="8" fill="#00a800"/>
<rect x="981" y="102" width="1" height="1" fill="#00a800"/>
<rect x="981" y="109" width="1" height="1" fill="#00a800"/>
<rect x="984" y="63" width="1" height="10" fill="#00a800"/>
<rect x="984" y="102" width="1" height="16" fill="#00a800"/>
<rect x="983" y="73" width="1" height="29" fill="#00a800"/>
<rect x="985" y="73" width="1" height="29" fill="#00a800"/>
<rect x="984" y="73" width="1" height="1" fill="#00a800"/>
<rect x="984" y="101" width="1" height="1" fill="#00a800"/>
<rect x="987" y="66" width="1" height="28" fill="#ff1414"/>
<rect x="986" y="72" width="3" height="20" fill="#ff1414"/>
<rect x="990" y="66" width="1" height="44" fill="#00a800"/>
<rect x="989" y="90" width="3" height="2" fill="#00a800"/>
<rect x="993" y="64" width="1" height="19" fill="#00a800"/>
<rect x="993" y="90" width="1" height="8" fill="#00a800"/>
<rect x="992" y="83" width="1" height="7" fill="#00a800"/>
<rect x="994" y="83" width="1" height="7" fill="#00a800"/>
<rect x="993" y="83" width="1" height="1" fill="#00a800"/>
<rect x="993" y="89" width="1" height="1" fill="#00a800"/>
<rect x="996" y="78" width="1" height="11" fill="#ff1414"/>
<rect x="995" y="83" width="3" height="2" fill="#ff1414"/>
<rect x="999" y="78" width="1" height="23" fill="#ff1414"/>
<rect x="998" y="83" width="3" height="17" fill="#ff1414"/>
<rect x="1002" y="90" width="1" height="47" fill="#ff1414"/>
<rect x="1001" y="99" width="3" height="5" fill="#ff1414"/>
<rect x="1005" y="90" width="1" height="27" fill="#ff1414"/>
<rect x="1004" y="103" width="3" height="7" fill="#ff1414"/>
<rect x="1008" y="82" width="1" height="8" fill="#00a800"/>
<rect x="1008" y="110" width="1" height="1" fill="#00a800"/>
<rect x="1007" y="90" width="1" height="20" fill="#00a800"/>
<rect x="1009" y="90" width="1" height="20" fill="#00a800"/>
<rect x="1008" y="90" width="1" height="1" fill="#00a800"/>
<rect x="1008" y="109" width="1" height="1" fill="#00a800"/>
<rect x="1011" y="69" width="1" height="13" fill="#00a800"/>
<rect x="1011" y="90" width="1" height="2" fill="#00a800"/>
<rect x="1010" y="82" width="1" height="8" fill="#00a800"/>
<rect x="1012" y="82" width="1" height="8" fill="#00a800"/>
<rect x="1011" y="82" width="1" height="1" fill="#00a800"/>
<rect x="1011" y="89" width="1" height="1" fill="#00a800"/>
<rect x="1015" y="72" width="1" height="36" fill="#ff1414"/>
<rect x="1014" y="82" width="3" height="18" fill="#ff1414"/>
<rect x="1018" y="97" width="1" height="19" fill="#ff1414"/>
<rect x="1017" y="100" width="3" height="14" fill="#ff1414"/>
<rect x="1021" y="110" width="1" height="38" fill="#ff1414"/>
<rect x="1020" y="114" width="3" height="23" fill="#ff1414"/>
<rect x="1024" y="100" width="1" height="8" fill="#00a800"/>
<rect x="1024" y="137" width="1" height="51" fill="#00a800"/>
<rect x="1023" y="108" width="1" height="29" fill="#00a800"/>
<rect x="1025" y="108" width="1" height="29" fill="#00a800"/>
<rect x="1024" y="108" width="1" height="1" fill="#00a800"/>
<rect x="1024" y="136" width="1" height="1" fill="#00a800"/>
<rect x="1027" y="105" width="1" height="52" fill="#ff1414"/>
<rect x="1026" y="107" width="3" height="29" fill="#ff1414"/>
<rect x="1030" y="124" width="1" height="25" fill="#ff1414"/>
<rect x="1029" y="135" width="3" height="10" fill="#ff1414"/>
<rect x="1033" y="125" width="1" height="27" fill="#ff1414"/>
<rect x="1032" y="144" width="3" height="2" fill="#ff1414"/>
<rect x="1036" y="117" width="1" height="35" fill="#ff1414"/>
<rect x="1035" y="145" width="3" height="1" fill="#ff1414"/>
<rect x="1039" y="142" width="1" height="10" fill="#ff1414"/>
<rect x="1038" y="145" width="3" height="1" fill="#ff1414"/>
<rect x="1042" y="138" width="1" height="2" fill="#00a800"/>
<rect x="1042" y="145" width="1" height="13" fill="#00a800"/>
<rect x="1041" y="140" width="1" height="5" fill="#00a800"/>
<rect x="1043" y="140" width="1" height="5" fill="#00a800"/>
<rect x="1042" y="140" width="1" height="1" fill="#00a800"/>
<rect x="1042" y="144" width="1" height="1" fill="#00a800"/>
<rect x="1045" y="131" width="1" height="7" fill="#00a800"/>
<rect x="1045" y="145" width="1" height="10" fill="#00a800"/>
<rect x="1044" y="138" width="1" height="7" fill="#00a800"/>
<rect x="1046" y="138" width="1" height="7" fill="#00a800"/>
<rect x="1045" y="138" width="1" height="1" fill="#00a800"/>
<rect x="1045" y="144" width="1" height="1" fill="#00a800"/>
<rect x="1048" y="130" width="1" height="28" fill="#ff1414"/>
<rect x="1047" y="138" width="3" height="14" fill="#ff1414"/>
<rect x="1051" y="132" width="1" height="3" fill="#00a800"/>
<rect x="1051" y="152" width="1" height="11" fill="#00a800"/>
<rect x="1050" y="135" width="1" height="17" fill="#00a800"/>
<rect x="1052" y="135" width="1" height="17" fill="#00a800"/>
<rect x="1051" y="135" width="1" height="1" fill="#00a800"/>
<rect x="1051" y="151" width="1" height="1" fill="#00a800"/>
<rect x="1054" y="133" width="1" height="23" fill="#ff1414"/>
<rect x="1053" y="135" width="3" height="9" fill="#ff1414"/>
<rect x="1057" y="127" width="1" height="11" fill="#00a800"/>
<rect x="1057" y="144" width="1" height="4" fill="#00a800"/>
<rect x="1056" y="138" width="1" height="6" fill="#00a800"/>
<rect x="1058" y="138" width="1" height="6" fill="#00a800"/>
<rect x="1057" y="138" width="1" height="1" fill="#00a800"/>
<rect x="1057" y="143" width="1" height="1" fill="#00a800"/>
<rect x="1060" y="134" width="1" height="6" fill="#00a800"/>
<rect x="1059" y="137" width="3" height="1" fill="#00a800"/>
<rect x="1064" y="136" width="1" height="13" fill="#ff1414"/>
<rect x="1063" y="137" width="3" height="11" fill="#ff1414"/>
<rect x="1067" y="141" width="1" height="15" fill="#ff1414"/>
<rect x="1066" y="148" width="3" height="1" fill="#ff1414"/>
<rect x="1070" y="143" width="1" height="26" fill="#ff1414"/>
<rect x="1069" y="149" width="3" height="3" fill="#ff1414"/>
<rect x="1073" y="142" width="1" height="2" fill="#00a800"/>
<rect x="1073" y="152" width="1" height="5" fill="#00a800"/>
<rect x="1072" y="144" width="1" height="8" fill="#00a800"/>
<rect x="1074" y="144" width="1" height="8" fill="#00a800"/>
<rect x="1073" y="144" width="1" height="1" fill="#00a800"/>
<rect x="1073" y="151" width="1" height="1" fill="#00a800"/>
<rect x="1076" y="128" width="1" height="3" fill="#00a800"/>
<rect x="1076" y="144" width="1" height="2" fill="#00a800"/>
<rect x="1075" y="131" width="1" height="13" fill="#00a800"/>
<rect x="1077" y="131" width="1" height="13" fill="#00a800"/>
<rect x="1076" y="131" width="1" height="1" fill="#00a800"/>
<rect x="1076" y="143" width="1" height="1" fill="#00a800"/>
<rect x="1079" y="122" width="1" height="36" fill="#ff1414"/>
<rect x="1078" y="131" width="3" height="17" fill="#ff1414"/>
<rect x="1082" y="141" width="1" height="3" fill="#00a800"/>
<rect x="1082" y="148" width="1" height="3" fill="#00a800"/>
<rect x="1081" y="144" width="1" height="4" fill="#00a800"/>
<rect x="1083" y="144" width="1" height="4" fill="#00a800"/>
<rect x="1082" y="144" width="1" height="1" fill="#00a800"/>
<rect x="1082" y="147" width="1" height="1" fill="#00a800"/>
<rect x="1085" y="144" width="1" height="12" fill="#ff1414"/>
<rect x="1084" y="144" width="3" height="3" fill="#ff1414"/>
<rect x="1088" y="144" width="1" height="41" fill="#ff1414"/>
<rect x="1087" y="145" width="3" height="39" fill="#ff1414"/>
<rect x="1091" y="175" width="1" height="50" fill="#ff1414"/>
<rect x="1090" y="183" width="3" height="23" fill="#ff1414"/>
<rect x="1094" y="200" width="1" height="55" fill="#ff1414"/>
<rect x="1093" y="205" width="3" height="35" fill="#ff1414"/>
<rect x="1097" y="217" width="1" height="19" fill="#00a800"/>
<rect x="1097" y="240" width="1" height="11" fill="#00a800"/>
<rect x="1096" y="236" width="1" height="4" fill="#00a800"/>
<rect x="1098" y="236" width="1" height="4" fill="#00a800"/>
<rect x="1097" y="236" width="1" height="1" fill="#00a800"/>
<rect x="1097" y="239" width="1" height="1" fill="#00a800"/>
<rect x="1100" y="233" width="1" height="52" fill="#ff1414"/>
<rect x="1099" y="236" width="3" height="3" fill="#ff1414"/>
<rect x="1103" y="221" width="1" height="3" fill="#00a800"/>
<rect x="1103" y="239" width="1" height="3" fill="#00a800"/>
<rect x="1102" y="224" width="1" height="15" fill="#00a800"/>
<rect x="1104" y="224" width="1" height="15" fill="#00a800"/>
<rect x="1103" y="224" width="1" height="1" fill="#00a800"/>
<rect x="1103" y="238" width="1" height="1" fill="#00a800"/>
<rect x="1106" y="156" width="1" height="6" fill="#00a800"/>
<rect x="1106" y="224" width="1" height="9" fill="#00a800"/>
<rect x="1105" y="162" width="1" height="62" fill="#00a800"/>
<rect x="1107" y="162" width="1" height="62" fill="#00a800"/>
<rect x="1106" y="162" width="1" height="1" fill="#00a800"/>
<rect x="1106" y="223" width="1" height="1" fill="#00a800"/>
<rect x="1109" y="161" width="1" height="71" fill="#ff1414"/>
<rect x="1108" y="161" width="3" height="63" fill="#ff1414"/>
<rect x="1112" y="204" width="1" height="12" fill="#00a800"/>
<rect x="1112" y="224" width="1" height="35" fill="#00a800"/>
<rect x="1111" y="216" width="1" height="8" fill="#00a800"/>
<rect x="1113" y="216" width="1" height="8" fill="#00a800"/>
<rect x="1112" y="216" width="1" height="1" fill="#00a800"/>
<rect x="1112" y="223" width="1" height="1" fill="#00a800"/>
<rect x="1116" y="187" width="1" height="3" fill="#00a800"/>
<rect x="1116" y="216" width="1" height="1" fill="#00a800"/>
<rect x="1115" y="190" width="1" height="26" fill="#00a800"/>
<rect x="1117" y="190" width="1" height="26" fill="#00a800"/>
<rect x="1116" y="190" width="1" height="1" fill="#00a800"/>
<rect x="1116" y="215" width="1" height="1" fill="#00a800"/>
<rect x="1119" y="173" width="1" height="23" fill="#ff1414"/>
<rect x="1118" y="190" width="3" height="5" fill="#ff1414"/>
<rect x="1122" y="185" width="1" height="50" fill="#ff1414"/>
<rect x="1121" y="195" width="3" height="25" fill="#ff1414"/>
<rect x="1125" y="218" width="1" height="15" fill="#ff1414"/>
<rect x="1124" y="219" width="3" height="4" fill="#ff1414"/>
<rect x="1128" y="222" width="1" height="49" fill="#ff1414"/>
<rect x="1127" y="223" width="3" height="42" fill="#ff1414"/>
<rect x="1129" y="239" width="5" height="52" fill="#a8a800"/>
<rect x="1131" y="239" width="1" height="51" fill="#ff1414"/>
<rect x="1130" y="265" width="3" height="15" fill="#ff1414"/>
<rect x="1130" y="647" width="4" height="63" fill="#b07070"/>
<rect x="1131" y="648" width="2" height="62" fill="#784848"/>
<rect x="1127" y="678" width="4" height="32" fill="#b07070"/>
<rect x="1128" y="679" width="2" height="31" fill="#784848"/>
<rect x="1124" y="697" width="4" height="13" fill="#b07070"/>
<rect x="1125" y="698" width="2" height="12" fill="#784848"/>
<rect x="1121" y="616" width="4" height="94" fill="#b07070"/>
<rect x="1122" y="617" width="2" height="93" fill="#784848"/>
<rect x="1118" y="658" width="4" height="52" fill="#b07070"/>
<rect x="1119" y="659" width="2" height="51" fill="#784848"/>
<rect x="1115" y="658" width="4" height="52" fill="#00b070"/>
<rect x="1116" y="659" width="2" height="51" fill="#007848"/>
<rect x="1111" y="621" width="4" height="89" fill="#00b070"/>
<rect x="1112" y="622" width="2" height="88" fill="#007848"/>
<rect x="1108" y="623" width="4" height="87" fill="#b07070"/>
<rect x="1109" y="624" width="2" height="86" fill="#784848"/>
<rect x="1105" y="647" width="4" height="63" fill="#00b070"/>
<rect x="1106" y="648" width="2" height="62" fill="#007848"/>
<rect x="1102" y="685" width="4" height="25" fill="#00b070"/>
<rect x="1103" y="686" width="2" height="24" fill="#007848"/>
<rect x="1099" y="605" width="4" height="105" fill="#b07070"/>
<rect x="1100" y="606" width="2" height="104" fill="#784848"/>
<rect x="1096" y="648" width="4" height="62" fill="#00b070"/>
<rect x="1097" y="649" width="2" height="61" fill="#007848"/>
<rect x="1093" y="631" width="4" height="79" fill="#b07070"/>
<rect x="1094" y="632" width="2" height="78" fill="#784848"/>
<rect x="1090" y="613" width="4" height="97" fill="#b07070"/>
<rect x="1091" y="614" width="2" height="96" fill="#784848"/>
<rect x="1087" y="668" width="4" height="42" fill="#b07070"/>
<rect x="1088" y="669" width="2" height="41" fill="#784848"/>
<rect x="1084" y="700" width="4" height="10" fill="#b07070"/>
<rect x="1085" y="701" width="2" height="9" fill="#784848"/>
<rect x="1081" y="694" width="4" height="16" fill="#00b070"/>
<rect x="1082" y="695" width="2" height="15" fill="#007848"/>
<rect x="1078" y="656" width="4" height="54" fill="#b07070"/>
<rect x="1079" y="657" width="2" height="53" fill="#784848"/>
<rect x="1075" y="683" width="4" height="27" fill="#00b070"/>
<rect x="1076" y="684" width="2" height="26" fill="#007848"/>
<rect x="1072" y="687" width="4" height="23" fill="#00b070"/>
<rect x="1073" y="688" width="2" height="22" fill="#007848"/>
<rect x="1069" y="676" width="4" height="34" fill="#b07070"/>
<rect x="1070" y="677" width="2" height="33" fill="#784848"/>
<rect x="1066" y="690" width="4" height="20" fill="#b07070"/>
<rect x="1067" y="691" width="2" height="19" fill="#784848"/>
<rect x="1063" y="701" width="4" height="9" fill="#b07070"/>
<rect x="1064" y="702" width="2" height="8" fill="#784848"/>
<rect x="1059" y="702" width="4" height="8" fill="#00b070"/>
<rect x="1060" y="703" width="2" height="7" fill="#007848"/>
<rect x="1056" y="683" width="4" height="27" fill="#00b070"/>
<rect x="1057" y="684" width="2" height="26" fill="#007848"/>
<rect x="1053" y="679" width="4" height="31" fill="#b07070"/>
<rect x="1054" y="680" width="2" height="30" fill="#784848"/>
<rect x="1050" y="656" width="4" height="54" fill="#00b070"/>
<rect x="1051" y="657" width="2" height="53" fill="#007848"/>
<rect x="1047" y="671" width="4" height="39" fill="#b07070"/>
<rect x="1048" y="672" width="2" height="38" fill="#784848"/>
<rect x="1044" y="673" width="4" height="37" fill="#00b070"/>
<rect x="1045" y="674" width="2" height="36" fill="#007848"/>
<rect x="1041" y="685" width="4" height="25" fill="#00b070"/>
<rect x="1042" y="686" width="2" height="24" fill="#007848"/>
<rect x="1038" y="693" width="4" height="17" fill="#b07070"/>
<rect x="1039" y="694" width="2" height="16" fill="#784848"/>
<rect x="1035" y="641" width="4" height="69" fill="#b07070"/>
<rect x="1036" y="642" width="2" height="68" fill="#784848"/>
<rect x="1032" y="650" width="4" height="60" fill="#b07070"/>
<rect x="1033" y="651" width="2" height="59" fill="#784848"/>
<rect x="1029" y="653" width="4" height="57" fill="#b07070"/>
<rect x="1030" y="654" width="2" height="56" fill="#784848"/>
<rect x="1026" y="626" width="4" height="84" fill="#b07070"/>
<rect x="1027" y="627" width="2" height="83" fill="#784848"/>
<rect x="1023" y="552" width="4" height="158" fill="#00b070"/>
<rect x="1024" y="553" width="2" height="157" fill="#007848"/>
<rect x="1020" y="635" width="4" height="75" fill="#b07070"/>
<rect x="1021" y="636" width="2" height="74" fill="#784848"/>
<rect x="1017" y="689" width="4" height="21" fill="#b07070"/>
<rect x="1018" y="690" width="2" height="20" fill="#784848"/>
<rect x="1014" y="654" width="4" height="56" fill="#b07070"/>
<rect x="1015" y="655" width="2" height="55" fill="#784848"/>
<rect x="1010" y="662" width="4" height="48" fill="#00b070"/>
<rect x="1011" y="663" width="2" height="47" fill="#007848"/>
<rect x="1007" y="648" width="4" height="62" fill="#00b070"/>
<rect x="1008" y="649" width="2" height="61" fill="#007848"/>
<rect x="1004" y="651" width="4" height="59" fill="#b07070"/>
<rect x="1005" y="652" width="2" height="58" fill="#784848"/>
<rect x="1001" y="585" width="4" height="125" fill="#b07070"/>
<rect x="1002" y="586" width="2" height="124" fill="#784848"/>
<rect x="998" y="691" width="4" height="19" fill="#b07070"/>
<rect x="999" y="692" width="2" height="18" fill="#784848"/>
<rect x="995" y="694" width="4" height="16" fill="#b07070"/>
<rect x="996" y="695" width="2" height="15" fill="#784848"/>
<rect x="992" y="656" width="4" height="54" fill="#00b070"/>
<rect x="993" y="657" width="2" height="53" fill="#007848"/>
<rect x="989" y="585" width="4" height="125" fill="#00b070"/>
<rect x="990" y="586" width="2" height="124" fill="#007848"/>
<rect x="986" y="651" width="4" height="59" fill="#b07070"/>
<rect x="987" y="652" width="2" height="58" fill="#784848"/>
<rect x="983" y="598" width="4" height="112" fill="#00b070"/>
<rect x="984" y="599" width="2" height="111" fill="#007848"/>
<rect x="980" y="618" width="4" height="92" fill="#00b070"/>
<rect x="981" y="619" width="2" height="91" fill="#007848"/>
<rect x="977" y="654" width="4" height="56" fill="#b07070"/>
<rect x="978" y="655" width="2" height="55" fill="#784848"/>
<rect x="974" y="676" width="4" height="34" fill="#00b070"/>
<rect x="975" y="677" width="2" height="33" fill="#007848"/>
<rect x="971" y="638" width="4" height="72" fill="#00b070"/>
<rect x="972" y="639" width="2" height="71" fill="#007848"/>
<rect x="968" y="652" width="4" height="58" fill="#b07070"/>
<rect x="969" y="653" width="2" height="57" fill="#784848"/>
<rect x="965" y="652" width="4" height="58" fill="#00b070"/>
<rect x="966" y="653" width="2" height="57" fill="#007848"/>
<rect x="962" y="651" width="4" height="59" fill="#00b070"/>
<rect x="963" y="652" width="2" height="58" fill="#007848"/>
<rect x="958" y="621" width="4" height="89" fill="#00b070"/>
<rect x="959" y="622" width="2" height="88" fill="#007848"/>
<rect x="955" y="696" width="4" height="14" fill="#b07070"/>
<rect x="956" y="697" width="2" height="13" fill="#784848"/>
<rect x="952" y="698" width="4" height="12" fill="#b07070"/>
<rect x="953" y="699" width="2" height="11" fill="#784848"/>
<rect x="949" y="636" width="4" height="74" fill="#00b070"/>
<rect x="950" y="637" width="2" height="73" fill="#007848"/>
<rect x="946" y="643" width="4" height="67" fill="#b07070"/>
<rect x="947" y="644" width="2" height="66" fill="#784848"/>
<rect x="943" y="633" width="4" height="77" fill="#b07070"/>
<rect x="944" y="634" width="2" height="76" fill="#784848"/>
<rect x="940" y="638" width="4" height="72" fill="#b07070"/>
<rect x="941" y="639" width="2" height="71" fill="#784848"/>
<rect x="937" y="648" width="4" height="62" fill="#00b070"/>
<rect x="938" y="649" width="2" height="61" fill="#007848"/>
<rect x="934" y="697" width="4" height="13" fill="#00b070"/>
<rect x="935" y="698" width="2" height="12" fill="#007848"/>
<rect x="931" y="697" width="4" height="13" fill="#00b070"/>
<rect x="932" y="698" width="2" height="12" fill="#007848"/>
<rect x="928" y="672" width="4" height="38" fill="#00b070"/>
<rect x="929" y="673" width="2" height="37" fill="#007848"/>
<rect x="925" y="659" width="4" height="51" fill="#00b070"/>
<rect x="926" y="660" width="2" height="50" fill="#007848"/>
<rect x="922" y="684" width="4" height="26" fill="#00b070"/>
<rect x="923" y="685" width="2" height="25" fill="#007848"/>
<rect x="919" y="658" width="4" height="52" fill="#00b070"/>
<rect x="920" y="659" width="2" height="51" fill="#007848"/>
<rect x="916" y="634" width="4" height="76" fill="#b07070"/>
<rect x="917" y="635" width="2" height="75" fill="#784848"/>
<rect x="913" y="686" width="4" height="24" fill="#b07070"/>
<rect x="914" y="687" width="2" height="23" fill="#784848"/>
<rect x="910" y="691" width="4" height="19" fill="#00b070"/>
<rect x="911" y="692" width="2" height="18" fill="#007848"/>
<rect x="906" y="648" width="4" height="62" fill="#b07070"/>
<rect x="907" y="649" width="2" height="61" fill="#784848"/>
<rect x="903" y="659" width="4" height="51" fill="#b07070"/>
<rect x="904" y="660" width="2" height="50" fill="#784848"/>
<rect x="900" y="681" width="4" height="29" fill="#00b070"/>
<rect x="901" y="682" width="2" height="28" fill="#007848"/>
<rect x="897" y="655" width="4" height="55" fill="#00b070"/>
<rect x="898" y="656" width="2" height="54" fill="#007848"/>
<rect x="894" y="633" width="4" height="77" fill="#b07070"/>
<rect x="895" y="634" width="2" height="76" fill="#784848"/>
<rect x="891" y="670" width="4" height="40" fill="#b07070"/>
<rect x="892" y="671" width="2" height="39" fill="#784848"/>
<rect x="888" y="670" width="4" height="40" fill="#b07070"/>
<rect x="889" y="671" width="2" height="39" fill="#784848"/>
<rect x="885" y="597" width="4" height="113" fill="#00b070"/>
<rect x="886" y="598" width="2" height="112" fill="#007848"/>
<rect x="882" y="603" width="4" height="107" fill="#b07070"/>
<rect x="883" y="604" width="2" height="106" fill="#784848"/>
<rect x="879" y="610" width="4" height="100" fill="#b07070"/>
<rect x="880" y="611" width="2" height="99" fill="#784848"/>
<rect x="876" y="655" width="4" height="55" fill="#00b070"/>
<rect x="877" y="656" width="2" height="54" fill="#007848"/>
<rect x="873" y="630" width="4" height="80" fill="#00b070"/>
<rect x="874" y="631" width="2" height="79" fill="#007848"/>
<rect x="870" y="677" width="4" height="33" fill="#00b070"/>
<rect x="871" y="678" width="2" height="32" fill="#007848"/>
<rect x="867" y="688" width="4" height="22" fill="#b07070"/>
<rect x="868" y="689" width="2" height="21" fill="#784848"/>
<rect x="864" y="664" width="4" height="46" fill="#00b070"/>
<rect x="865" y="665" width="2" height="45" fill="#007848"/>
<rect x="861" y="648" width="4" height="62" fill="#b07070"/>
<rect x="862" y="649" width="2" height="61" fill="#784848"/>
<rect x="857" y="638" width="4" height="72" fill="#00b070"/>
<rect x="858" y="639" width="2" height="71" fill="#007848"/>
<rect x="854" y="619" width="4" height="91" fill="#b07070"/>
<rect x="855" y="620" width="2" height="90" fill="#784848"/>
<rect x="851" y="617" width="4" height="93" fill="#b07070"/>
<rect x="852" y="618" width="2" height="92" fill="#784848"/>
<rect x="848" y="686" width="4" height="24" fill="#00b070"/>
<rect x="849" y="687" width="2" height="23" fill="#007848"/>
<rect x="845" y="687" width="4" height="23" fill="#00b070"/>
<rect x="846" y="688" width="2" height="22" fill="#007848"/>
<rect x="842" y="634" width="4" height="76" fill="#00b070"/>
<rect x="843" y="635" width="2" height="75" fill="#007848"/>
<rect x="839" y="551" width="4" height="159" fill="#b07070"/>
<rect x="840" y="552" width="2" height="158" fill="#784848"/>
<rect x="836" y="632" width="4" height="78" fill="#00b070"/>
<rect x="837" y="633" width="2" height="77" fill="#007848"/>
<rect x="833" y="641" width="4" height="69" fill="#00b070"/>
<rect x="834" y="642" width="2" height="68" fill="#007848"/>
<rect x="830" y="641" width="4" height="69" fill="#b07070"/>
<rect x="831" y="642" width="2" height="68" fill="#784848"/>
<rect x="827" y="687" width="4" height="23" fill="#00b070"/>
<rect x="828" y="688" width="2" height="22" fill="#007848"/>
<rect x="824" y="693" width="4" height="17" fill="#b07070"/>
<rect x="825" y="694" width="2" height="16" fill="#784848"/>
<rect x="821" y="658" width="4" height="52" fill="#00b070"/>
<rect x="822" y="659" width="2" height="51" fill="#007848"/>
<rect x="818" y="677" width="4" height="33" fill="#b07070"/>
<rect x="819" y="678" width="2" height="32" fill="#784848"/>
<rect x="815" y="647" width="4" height="63" fill="#00b070"/>
<rect x="816" y="648" width="2" height="62" fill="#007848"/>
<rect x="812" y="608" width="4" height="102" fill="#b07070"/>
<rect x="813" y="609" width="2" height="101" fill="#784848"/>
<rect x="809" y="619" width="4" height="91" fill="#b07070"/>
<rect x="810" y="620" width="2" height="90" fill="#784848"/>
<rect x="805" y="670" width="4" height="40" fill="#00b070"/>
<rect x="806" y="671" width="2" height="39" fill="#007848"/>
<rect x="802" y="671" width="4" height="39" fill="#b07070"/>
<rect x="803" y="672" width="2" height="38" fill="#784848"/>
<rect x="799" y="611" width="4" height="99" fill="#00b070"/>
<rect x="800" y="612" width="2" height="98" fill="#007848"/>
<rect x="796" y="591" width="4" height="119" fill="#00b070"/>
<rect x="797" y="592" width="2" height="118" fill="#007848"/>
<rect x="793" y="617" width="4" height="93" fill="#00b070"/>
<rect x="794" y="618" width="2" height="92" fill="#007848"/>
<rect x="790" y="624" width="4" height="86" fill="#00b070"/>
<rect x="791" y="625" width="2" height="85" fill="#007848"/>
<rect x="787" y="622" width="4" height="88" fill="#00b070"/>
<rect x="788" y="623" width="2" height="87" fill="#007848"/>
<rect x="784" y="669" width="4" height="41" fill="#b07070"/>
<rect x="785" y="670" width="2" height="40" fill="#784848"/>
<rect x="781" y="673" width="4" height="37" fill="#b07070"/>
<rect x="782" y="674" width="2" height="36" fill="#784848"/>
<rect x="778" y="616" width="4" height="94" fill="#00b070"/>
<rect x="779" y="617" width="2" height="93" fill="#007848"/>
<rect x="775" y="601" width="4" height="109" fill="#b07070"/>
<rect x="776" y="602" width="2" height="108" fill="#784848"/>
<rect x="772" y="544" width="4" height="166" fill="#00b070"/>
<rect x="773" y="545" width="2" height="165" fill="#007848"/>
<rect x="769" y="554" width="4" height="156" fill="#b07070"/>
<rect x="770" y="555" width="2" height="155" fill="#784848"/>
<rect x="766" y="571" width="4" height="139" fill="#00b070"/>
<rect x="767" y="572" width="2" height="138" fill="#007848"/>
<rect x="763" y="633" width="4" height="77" fill="#00b070"/>
<rect x="764" y="634" width="2" height="76" fill="#007848"/>
<rect x="760" y="689" width="4" height="21" fill="#00b070"/>
<rect x="761" y="690" width="2" height="20" fill="#007848"/>
<rect x="757" y="645" width="4" height="65" fill="#00b070"/>
<rect x="758" y="646" width="2" height="64" fill="#007848"/>
<rect x="753" y="632" width="4" height="78" fill="#00b070"/>
<rect x="754" y="633" width="2" height="77" fill="#007848"/>
<rect x="750" y="556" width="4" height="154" fill="#00b070"/>
<rect x="751" y="557" width="2" height="153" fill="#007848"/>
<rect x="747" y="648" width="4" height="62" fill="#00b070"/>
<rect x="748" y="649" width="2" height="61" fill="#007848"/>
<rect x="744" y="652" width="4" height="58" fill="#b07070"/>
<rect x="745" y="653" width="2" height="57" fill="#784848"/>
<rect x="741" y="670" width="4" height="40" fill="#b07070"/>
<rect x="742" y="671" width="2" height="39" fill="#784848"/>
<rect x="738" y="696" width="4" height="14" fill="#b07070"/>
<rect x="739" y="697" width="2" height="13" fill="#784848"/>
<rect x="735" y="645" width="4" height="65" fill="#b07070"/>
<rect x="736" y="646" width="2" height="64" fill="#784848"/>
<rect x="732" y="657" width="4" height="53" fill="#b07070"/>
<rect x="733" y="658" width="2" height="52" fill="#784848"/>
<rect x="729" y="659" width="4" height="51" fill="#b07070"/>
<rect x="730" y="660" width="2" height="50" fill="#784848"/>
<rect x="726" y="632" width="4" height="78" fill="#00b070"/>
<rect x="727" y="633" width="2" height="77" fill="#007848"/>
<rect x="723" y="654" width="4" height="56" fill="#00b070"/>
<rect x="724" y="655" width="2" height="55" fill="#007848"/>
<rect x="720" y="693" width="4" height="17" fill="#00b070"/>
<rect x="721" y="694" width="2" height="16" fill="#007848"/>
<rect x="717" y="691" width="4" height="19" fill="#00b070"/>
<rect x="718" y="692" width="2" height="18" fill="#007848"/>
<rect x="714" y="652" width="4" height="58" fill="#b07070"/>
<rect x="715" y="653" width="2" height="57" fill="#784848"/>
<rect x="711" y="668" width="4" height="42" fill="#00b070"/>
<rect x="712" y="669" width="2" height="41" fill="#007848"/>
<rect x="708" y="667" width="4" height="43" fill="#b07070"/>
<rect x="709" y="668" width="2" height="42" fill="#784848"/>
<rect x="704" y="667" width="4" height="43" fill="#00b070"/>
<rect x="705" y="668" width="2" height="42" fill="#007848"/>
<rect x="701" y="661" width="4" height="49" fill="#b07070"/>
<rect x="702" y="662" width="2" height="48" fill="#784848"/>
<rect x="698" y="694" width="4" height="16" fill="#00b070"/>
<rect x="699" y="695" width="2" height="15" fill="#007848"/>
<rect x="695" y="699" width="4" height="11" fill="#b07070"/>
<rect x="696" y="700" width="2" height="10" fill="#784848"/>
<rect x="692" y="661" width="4" height="49" fill="#00b070"/>
<rect x="693" y="662" width="2" height="48" fill="#007848"/>
<rect x="689" y="667" width="4" height="43" fill="#b07070"/>
<rect x="690" y="668" width="2" height="42" fill="#784848"/>
<rect x="686" y="654" width="4" height="56" fill="#00b070"/>
<rect x="687" y="655" width="2" height="55" fill="#007848"/>
<rect x="683" y="641" width="4" height="69" fill="#00b070"/>
<rect x="684" y="642" width="2" height="68" fill="#007848"/>
<rect x="680" y="643" width="4" height="67" fill="#00b070"/>
<rect x="681" y="644" width="2" height="66" fill="#007848"/>
<rect x="677" y="687" width="4" height="23" fill="#b07070"/>
<rect x="678" y="688" width="2" height="22" fill="#784848"/>
<rect x="674" y="689" width="4" height="21" fill="#00b070"/>
<rect x="675" y="690" width="2" height="20" fill="#007848"/>
<rect x="671" y="662" width="4" height="48" fill="#00b070"/>
<rect x="672" y="663" width="2" height="47" fill="#007848"/>
<rect x="668" y="653" width="4" height="57" fill="#b07070"/>
<rect x="669" y="654" width="2" height="56" fill="#784848"/>
<rect x="665" y="660" width="4" height="50" fill="#b07070"/>
<rect x="666" y="661" width="2" height="49" fill="#784848"/>
<rect x="662" y="665" width="4" height="45" fill="#b07070"/>
<rect x="663" y="666" width="2" height="44" fill="#784848"/>
<rect x="659" y="655" width="4" height="55" fill="#b07070"/>
<rect x="660" y="656" width="2" height="54" fill="#784848"/>
<rect x="656" y="692" width="4" height="18" fill="#00b070"/>
<rect x="657" y="693" width="2" height="17" fill="#007848"/>
<rect x="652" y="696" width="4" height="14" fill="#b07070"/>
<rect x="653" y="697" width="2" height="13" fill="#784848"/>
<rect x="649" y="658" width="4" height="52" fill="#00b070"/>
<rect x="650" y="659" width="2" height="51" fill="#007848"/>
<rect x="646" y="643" width="4" height="67" fill="#00b070"/>
<rect x="647" y="644" width="2" height="66" fill="#007848"/>
<rect x="643" y="636" width="4" height="74" fill="#b07070"/>
<rect x="644" y="637" width="2" height="73" fill="#784848"/>
<rect x="640" y="620" width="4" height="90" fill="#b07070"/>
<rect x="641" y="621" width="2" height="89" fill="#784848"/>
<rect x="637" y="653" width="4" height="57" fill="#b07070"/>
<rect x="638" y="654" width="2" height="56" fill="#784848"/>
<rect x="634" y="694" width="4" height="16" fill="#b07070"/>
<rect x="635" y="695" width="2" height="15" fill="#784848"/>
<rect x="631" y="696" width="4" height="14" fill="#00b070"/>
<rect x="632" y="697" width="2" height="13" fill="#007848"/>
<rect x="628" y="662" width="4" height="48" fill="#00b070"/>
<rect x="629" y="663" width="2" height="47" fill="#007848"/>
<rect x="625" y="652" width="4" height="58" fill="#00b070"/>
<rect x="626" y="653" width="2" height="57" fill="#007848"/>
<rect x="622" y="678" width="4" height="32" fill="#b07070"/>
<rect x="623" y="679" width="2" height="31" fill="#784848"/>
<rect x="619" y="667" width="4" height="43" fill="#00b070"/>
<rect x="620" y="668" width="2" height="42" fill="#007848"/>
<rect x="616" y="673" width="4" height="37" fill="#b07070"/>
<rect x="617" y="674" width="2" height="36" fill="#784848"/>
<rect x="613" y="685" width="4" height="25" fill="#00b070"/>
<rect x="614" y="686" width="2" height="24" fill="#007848"/>
<rect x="610" y="693" width="4" height="17" fill="#00b070"/>
<rect x="611" y="694" width="2" height="16" fill="#007848"/>
<rect x="607" y="664" width="4" height="46" fill="#00b070"/>
<rect x="608" y="665" width="2" height="45" fill="#007848"/>
<rect x="604" y="648" width="4" height="62" fill="#00b070"/>
<rect x="605" y="649" width="2" height="61" fill="#007848"/>
<rect x="600" y="646" width="4" height="64" fill="#00b070"/>
<rect x="601" y="647" width="2" height="63" fill="#007848"/>
<rect x="597" y="656" width="4" height="54" fill="#00b070"/>
<rect x="598" y="657" width="2" height="53" fill="#007848"/>
<rect x="594" y="666" width="4" height="44" fill="#b07070"/>
<rect x="595" y="667" width="2" height="43" fill="#784848"/>
<rect x="591" y="684" width="4" height="26" fill="#b07070"/>
<rect x="592" y="685" width="2" height="25" fill="#784848"/>
<rect x="588" y="690" width="4" height="20" fill="#b07070"/>
<rect x="589" y="691" width="2" height="19" fill="#784848"/>
<rect x="585" y="656" width="4" height="54" fill="#00b070"/>
<rect x="586" y="657" width="2" height="53" fill="#007848"/>
<rect x="582" y="655" width="4" height="55" fill="#00b070"/>
<rect x="583" y="656" width="2" height="54" fill="#007848"/>
<rect x="579" y="636" width="4" height="74" fill="#b07070"/>
<rect x="580" y="637" width="2" height="73" fill="#784848"/>
<rect x="576" y="665" width="4" height="45" fill="#00b070"/>
<rect x="577" y="666" width="2" height="44" fill="#007848"/>
<rect x="573" y="653" width="4" height="57" fill="#00b070"/>
<rect x="574" y="654" width="2" height="56" fill="#007848"/>
<rect x="570" y="684" width="4" height="26" fill="#00b070"/>
<rect x="571" y="685" width="2" height="25" fill="#007848"/>
<rect x="567" y="687" width="4" height="23" fill="#00b070"/>
<rect x="568" y="688" width="2" height="22" fill="#007848"/>
<rect x="564" y="618" width="4" height="92" fill="#b07070"/>
<rect x="565" y="619" width="2" height="91" fill="#784848"/>
<rect x="561" y="658" width="4" height="52" fill="#b07070"/>
<rect x="562" y="659" width="2" height="51" fill="#784848"/>
<rect x="558" y="653" width="4" height="57" fill="#00b070"/>
<rect x="559" y="654" width="2" height="56" fill="#007848"/>
<rect x="555" y="674" width="4" height="36" fill="#b07070"/>
<rect x="556" y="675" width="2" height="35" fill="#784848"/>
<rect x="552" y="679" width="4" height="31" fill="#00b070"/>
<rect x="553" y="680" width="2" height="30" fill="#007848"/>
<rect x="548" y="680" width="4" height="30" fill="#b07070"/>
<rect x="549" y="681" width="2" height="29" fill="#784848"/>
<rect x="545" y="699" width="4" height="11" fill="#b07070"/>
<rect x="546" y="700" width="2" height="10" fill="#784848"/>
<rect x="542" y="663" width="4" height="47" fill="#b07070"/>
<rect x="543" y="664" width="2" height="46" fill="#784848"/>
<rect x="539" y="664" width="4" height="46" fill="#00b070"/>
<rect x="540" y="665" width="2" height="45" fill="#007848"/>
<rect x="536" y="659" width="4" height="51" fill="#b07070"/>
<rect x="537" y="660" width="2" height="50" fill="#784848"/>
<rect x="533" y="658" width="4" height="52" fill="#b07070"/>
<rect x="534" y="659" width="2" height="51" fill="#784848"/>
<rect x="530" y="674" width="4" height="36" fill="#b07070"/>
<rect x="531" y="675" width="2" height="35" fill="#784848"/>
<rect x="527" y="693" width="4" height="17" fill="#00b070"/>
<rect x="528" y="694" width="2" height="16" fill="#007848"/>
<rect x="524" y="689" width="4" height="21" fill="#00b070"/>
<rect x="525" y="690" width="2" height="20" fill="#007848"/>
<rect x="521" y="654" width="4" height="56" fill="#00b070"/>
<rect x="522" y="655" width="2" height="55" fill="#007848"/>
<rect x="518" y="672" width="4" height="38" fill="#b07070"/>
<rect x="519" y="673" width="2" height="37" fill="#784848"/>
<rect x="515" y="659" width="4" height="51" fill="#00b070"/>
<rect x="516" y="660" width="2" height="50" fill="#007848"/>
<rect x="512" y="668" width="4" height="42" fill="#b07070"/>
<rect x="513" y="669" width="2" height="41" fill="#784848"/>
<rect x="509" y="677" width="4" height="33" fill="#00b070"/>
<rect x="510" y="678" width="2" height="32" fill="#007848"/>
<rect x="506" y="692" width="4" height="18" fill="#b07070"/>
<rect x="507" y="693" width="2" height="17" fill="#784848"/>
<rect x="503" y="698" width="4" height="12" fill="#00b070"/>
<rect x="504" y="699" width="2" height="11" fill="#007848"/>
<rect x="499" y="672" width="4" height="38" fill="#00b070"/>
<rect x="500" y="673" width="2" height="37" fill="#007848"/>
<rect x="496" y="665" width="4" height="45" fill="#b07070"/>
<rect x="497" y="666" width="2" height="44" fill="#784848"/>
<rect x="493" y="669" width="4" height="41" fill="#b07070"/>
<rect x="494" y="670" width="2" height="40" fill="#784848"/>
<rect x="490" y="672" width="4" height="38" fill="#00b070"/>
<rect x="491" y="673" width="2" height="37" fill="#007848"/>
<rect x="487" y="666" width="4" height="44" fill="#00b070"/>
<rect x="488" y="667" width="2" height="43" fill="#007848"/>
<rect x="484" y="685" width="4" height="25" fill="#b07070"/>
<rect x="485" y="686" width="2" height="24" fill="#784848"/>
<rect x="481" y="694" width="4" height="16" fill="#00b070"/>
<rect x="482" y="695" width="2" height="15" fill="#007848"/>
<rect x="478" y="667" width="4" height="43" fill="#b07070"/>
<rect x="479" y="668" width="2" height="42" fill="#784848"/>
<rect x="475" y="646" width="4" height="64" fill="#00b070"/>
<rect x="476" y="647" width="2" height="63" fill="#007848"/>
<rect x="472" y="657" width="4" height="53" fill="#b07070"/>
<rect x="473" y="658" width="2" height="52" fill="#784848"/>
<rect x="469" y="651" width="4" height="59" fill="#00b070"/>
<rect x="470" y="652" width="2" height="58" fill="#007848"/>
<rect x="466" y="556" width="4" height="154" fill="#b07070"/>
<rect x="467" y="557" width="2" height="153" fill="#784848"/>
<rect x="463" y="672" width="4" height="38" fill="#b07070"/>
<rect x="464" y="673" width="2" height="37" fill="#784848"/>
<rect x="460" y="675" width="4" height="35" fill="#b07070"/>
<rect x="461" y="676" width="2" height="34" fill="#784848"/>
<rect x="457" y="655" width="4" height="55" fill="#b07070"/>
<rect x="458" y="656" width="2" height="54" fill="#784848"/>
<rect x="454" y="661" width="4" height="49" fill="#00b070"/>
<rect x="455" y="662" width="2" height="48" fill="#007848"/>
<rect x="451" y="677" width="4" height="33" fill="#b07070"/>
<rect x="452" y="678" width="2" height="32" fill="#784848"/>
<rect x="447" y="677" width="4" height="33" fill="#b07070"/>
<rect x="448" y="678" width="2" height="32" fill="#784848"/>
<rect x="444" y="665" width="4" height="45" fill="#b07070"/>
<rect x="445" y="666" width="2" height="44" fill="#784848"/>
<rect x="441" y="694" width="4" height="16" fill="#00b070"/>
<rect x="442" y="695" width="2" height="15" fill="#007848"/>
<rect x="438" y="675" width="4" height="35" fill="#b07070"/>
<rect x="439" y="676" width="2" height="34" fill="#784848"/>
<rect x="435" y="677" width="4" height="33" fill="#00b070"/>
<rect x="436" y="678" width="2" height="32" fill="#007848"/>
<rect x="432" y="671" width="4" height="39" fill="#00b070"/>
<rect x="433" y="672" width="2" height="38" fill="#007848"/>
<rect x="429" y="681" width="4" height="29" fill="#b07070"/>
<rect x="430" y="682" width="2" height="28" fill="#784848"/>
<rect x="426" y="671" width="4" height="39" fill="#b07070"/>
<rect x="427" y="672" width="2" height="38" fill="#784848"/>
<rect x="423" y="674" width="4" height="36" fill="#b07070"/>
<rect x="424" y="675" width="2" height="35" fill="#784848"/>
<rect x="420" y="686" width="4" height="24" fill="#00b070"/>
<rect x="421" y="687" width="2" height="23" fill="#007848"/>
<rect x="417" y="693" width="4" height="17" fill="#00b070"/>
<rect x="418" y="694" width="2" height="16" fill="#007848"/>
<rect x="414" y="665" width="4" height="45" fill="#00b070"/>
<rect x="415" y="666" width="2" height="44" fill="#007848"/>
<rect x="411" y="681" width="4" height="29" fill="#b07070"/>
<rect x="412" y="682" width="2" height="28" fill="#784848"/>
<rect x="408" y="672" width="4" height="38" fill="#b07070"/>
<rect x="409" y="673" width="2" height="37" fill="#784848"/>
<rect x="405" y="658" width="4" height="52" fill="#00b070"/>
<rect x="406" y="659" width="2" height="51" fill="#007848"/>
<rect x="402" y="652" width="4" height="58" fill="#00b070"/>
<rect x="403" y="653" width="2" height="57" fill="#007848"/>
<rect x="399" y="683" width="4" height="27" fill="#00b070"/>
<rect x="400" y="684" width="2" height="26" fill="#007848"/>
<rect x="395" y="692" width="4" height="18" fill="#00b070"/>
<rect x="396" y="693" width="2" height="17" fill="#007848"/>
<rect x="392" y="673" width="4" height="37" fill="#00b070"/>
<rect x="393" y="674" width="2" height="36" fill="#007848"/>
<rect x="389" y="670" width="4" height="40" fill="#b07070"/>
<rect x="390" y="671" width="2" height="39" fill="#784848"/>
<rect x="386" y="672" width="4" height="38" fill="#b07070"/>
<rect x="387" y="673" width="2" height="37" fill="#784848"/>
<rect x="383" y="671" width="4" height="39" fill="#00b070"/>
<rect x="384" y="672" width="2" height="38" fill="#007848"/>
<rect x="380" y="652" width="4" height="58" fill="#00b070"/>
<rect x="381" y="653" width="2" height="57" fill="#007848"/>
<rect x="377" y="685" width="4" height="25" fill="#b07070"/>
<rect x="378" y="686" width="2" height="24" fill="#784848"/>
<rect x="374" y="685" width="4" height="25" fill="#00b070"/>
<rect x="375" y="686" width="2" height="24" fill="#007848"/>
<rect x="371" y="633" width="4" height="77" fill="#b07070"/>
<rect x="372" y="634" width="2" height="76" fill="#784848"/>
<rect x="368" y="656" width="4" height="54" fill="#b07070"/>
<rect x="369" y="657" width="2" height="53" fill="#784848"/>
<rect x="365" y="673" width="4" height="37" fill="#b07070"/>
<rect x="366" y="674" width="2" height="36" fill="#784848"/>
<rect x="362" y="682" width="4" height="28" fill="#b07070"/>
<rect x="363" y="683" width="2" height="27" fill="#784848"/>
<rect x="359" y="676" width="4" height="34" fill="#00b070"/>
<rect x="360" y="677" width="2" height="33" fill="#007848"/>
<rect x="356" y="693" width="4" height="17" fill="#00b070"/>
<rect x="357" y="694" width="2" height="16" fill="#007848"/>
<rect x="353" y="697" width="4" height="13" fill="#00b070"/>
<rect x="354" y="698" width="2" height="12" fill="#007848"/>
<rect x="350" y="677" width="4" height="33" fill="#b07070"/>
<rect x="351" y="678" width="2" height="32" fill="#784848"/>
<rect x="346" y="680" width="4" height="30" fill="#00b070"/>
<rect x="347" y="681" width="2" height="29" fill="#007848"/>
<rect x="343" y="679" width="4" height="31" fill="#b07070"/>
<rect x="344" y="680" width="2" height="30" fill="#784848"/>
<rect x="340" y="668" width="4" height="42" fill="#00b070"/>
<rect x="341" y="669" width="2" height="41" fill="#007848"/>
<rect x="337" y="646" width="4" height="64" fill="#b07070"/>
<rect x="338" y="647" width="2" height="63" fill="#784848"/>
<rect x="334" y="701" width="4" height="9" fill="#b07070"/>
<rect x="335" y="702" width="2" height="8" fill="#784848"/>
<rect x="331" y="702" width="4" height="8" fill="#00b070"/>
<rect x="332" y="703" width="2" height="7" fill="#007848"/>
<rect x="328" y="680" width="4" height="30" fill="#b07070"/>
<rect x="329" y="681" width="2" height="29" fill="#784848"/>
<rect x="325" y="680" width="4" height="30" fill="#b07070"/>
<rect x="326" y="681" width="2" height="29" fill="#784848"/>
<rect x="322" y="692" width="4" height="18" fill="#b07070"/>
<rect x="323" y="693" width="2" height="17" fill="#784848"/>
<rect x="319" y="663" width="4" height="47" fill="#b07070"/>
<rect x="320" y="664" width="2" height="46" fill="#784848"/>
<rect x="316" y="671" width="4" height="39" fill="#b07070"/>
<rect x="317" y="672" width="2" height="38" fill="#784848"/>
<rect x="313" y="701" width="4" height="9" fill="#00b070"/>
<rect x="314" y="702" width="2" height="8" fill="#007848"/>
<rect x="310" y="701" width="4" height="9" fill="#00b070"/>
<rect x="311" y="702" width="2" height="8" fill="#007848"/>
<rect x="307" y="677" width="4" height="33" fill="#b07070"/>
<rect x="308" y="678" width="2" height="32" fill="#784848"/>
<rect x="304" y="679" width="4" height="31" fill="#b07070"/>
<rect x="305" y="680" width="2" height="30" fill="#784848"/>
<rect x="301" y="668" width="4" height="42" fill="#00b070"/>
<rect x="302" y="669" width="2" height="41" fill="#007848"/>
<rect x="298" y="667" width="4" height="43" fill="#b07070"/>
<rect x="299" y="668" width="2" height="42" fill="#784848"/>
<rect x="294" y="693" width="4" height="17" fill="#b07070"/>
<rect x="295" y="694" width="2" height="16" fill="#784848"/>
<rect x="291" y="703" width="4" height="7" fill="#00b070"/>
<rect x="292" y="704" width="2" height="6" fill="#007848"/>
<rect x="288" y="702" width="4" height="8" fill="#b07070"/>
<rect x="289" y="703" width="2" height="7" fill="#784848"/>
<rect x="285" y="672" width="4" height="38" fill="#b07070"/>
<rect x="286" y="673" width="2" height="37" fill="#784848"/>
<rect x="282" y="688" width="4" height="22" fill="#b07070"/>
<rect x="283" y="689" width="2" height="21" fill="#784848"/>
<rect x="279" y="681" width="4" height="29" fill="#00b070"/>
<rect x="280" y="682" width="2" height="28" fill="#007848"/>
<rect x="276" y="670" width="4" height="40" fill="#00b070"/>
<rect x="277" y="671" width="2" height="39" fill="#007848"/>
<rect x="273" y="679" width="4" height="31" fill="#00b070"/>
<rect x="274" y="680" width="2" height="30" fill="#007848"/>
<rect x="270" y="701" width="4" height="9" fill="#00b070"/>
<rect x="271" y="702" width="2" height="8" fill="#007848"/>
<rect x="267" y="704" width="4" height="6" fill="#00b070"/>
<rect x="268" y="705" width="2" height="5" fill="#007848"/>
<rect x="264" y="683" width="4" height="27" fill="#b07070"/>
<rect x="265" y="684" width="2" height="26" fill="#784848"/>
<rect x="261" y="682" width="4" height="28" fill="#00b070"/>
<rect x="262" y="683" width="2" height="27" fill="#007848"/>
<rect x="258" y="688" width="4" height="22" fill="#b07070"/>
<rect x="259" y="689" width="2" height="21" fill="#784848"/>
<rect x="255" y="680" width="4" height="30" fill="#b07070"/>
<rect x="256" y="681" width="2" height="29" fill="#784848"/>
<rect x="252" y="692" width="4" height="18" fill="#00b070"/>
<rect x="253" y="693" width="2" height="17" fill="#007848"/>
<rect x="249" y="702" width="4" height="8" fill="#b07070"/>
<rect x="250" y="703" width="2" height="7" fill="#784848"/>
<rect x="246" y="702" width="4" height="8" fill="#00b070"/>
<rect x="247" y="703" width="2" height="7" fill="#007848"/>
<rect x="242" y="685" width="4" height="25" fill="#00b070"/>
<rect x="243" y="686" width="2" height="24" fill="#007848"/>
<rect x="239" y="672" width="4" height="38" fill="#b07070"/>
<rect x="240" y="673" width="2" height="37" fill="#784848"/>
<rect x="236" y="679" width="4" height="31" fill="#b07070"/>
<rect x="237" y="680" width="2" height="30" fill="#784848"/>
<rect x="233" y="669" width="4" height="41" fill="#b07070"/>
<rect x="234" y="670" width="2" height="40" fill="#784848"/>
<rect x="230" y="659" width="4" height="51" fill="#00b070"/>
<rect x="231" y="660" width="2" height="50" fill="#007848"/>
<rect x="227" y="697" width="4" height="13" fill="#b07070"/>
<rect x="228" y="698" width="2" height="12" fill="#784848"/>
<rect x="224" y="698" width="4" height="12" fill="#b07070"/>
<rect x="225" y="699" width="2" height="11" fill="#784848"/>
<rect x="221" y="679" width="4" height="31" fill="#00b070"/>
<rect x="222" y="680" width="2" height="30" fill="#007848"/>
<rect x="218" y="677" width="4" height="33" fill="#b07070"/>
<rect x="219" y="678" width="2" height="32" fill="#784848"/>
<rect x="215" y="656" width="4" height="54" fill="#00b070"/>
<rect x="216" y="657" width="2" height="53" fill="#007848"/>
<rect x="212" y="675" width="4" height="35" fill="#b07070"/>
<rect x="213" y="676" width="2" height="34" fill="#784848"/>
<rect x="209" y="681" width="4" height="29" fill="#00b070"/>
<rect x="210" y="682" width="2" height="28" fill="#007848"/>
<rect x="206" y="700" width="4" height="10" fill="#00b070"/>
<rect x="207" y="701" width="2" height="9" fill="#007848"/>
<rect x="203" y="700" width="4" height="10" fill="#00b070"/>
<rect x="204" y="701" width="2" height="9" fill="#007848"/>
<rect x="200" y="676" width="4" height="34" fill="#b07070"/>
<rect x="201" y="677" width="2" height="33" fill="#784848"/>
<rect x="197" y="685" width="4" height="25" fill="#00b070"/>
<rect x="198" y="686" width="2" height="24" fill="#007848"/>
<rect x="193" y="685" width="4" height="25" fill="#b07070"/>
<rect x="194" y="686" width="2" height="24" fill="#784848"/>
<rect x="190" y="682" width="4" height="28" fill="#b07070"/>
<rect x="191" y="683" width="2" height="27" fill="#784848"/>
<rect x="187" y="678" width="4" height="32" fill="#b07070"/>
<rect x="188" y="679" width="2" height="31" fill="#784848"/>
<rect x="184" y="693" width="4" height="17" fill="#00b070"/>
<rect x="185" y="694" width="2" height="16" fill="#007848"/>
<rect x="181" y="688" width="4" height="22" fill="#00b070"/>
<rect x="182" y="689" width="2" height="21" fill="#007848"/>
<rect x="178" y="663" width="4" height="47" fill="#00b070"/>
<rect x="179" y="664" width="2" height="46" fill="#007848"/>
<rect x="175" y="671" width="4" height="39" fill="#00b070"/>
<rect x="176" y="672" width="2" height="38" fill="#007848"/>
<rect x="172" y="641" width="4" height="69" fill="#b07070"/>
<rect x="173" y="642" width="2" height="68" fill="#784848"/>
<rect x="169" y="655" width="4" height="55" fill="#b07070"/>
<rect x="170" y="656" width="2" height="54" fill="#784848"/>
<rect x="166" y="681" width="4" height="29" fill="#00b070"/>
<rect x="167" y="682" width="2" height="28" fill="#007848"/>
<rect x="163" y="696" width="4" height="14" fill="#b07070"/>
<rect x="164" y="697" width="2" height="13" fill="#784848"/>
<rect x="160" y="693" width="4" height="17" fill="#b07070"/>
<rect x="161" y="694" width="2" height="16" fill="#784848"/>
<rect x="157" y="683" width="4" height="27" fill="#b07070"/>
<rect x="158" y="684" width="2" height="26" fill="#784848"/>
<rect x="154" y="674" width="4" height="36" fill="#00b070"/>
<rect x="155" y="675" width="2" height="35" fill="#007848"/>
<rect x="151" y="671" width="4" height="39" fill="#b07070"/>
<rect x="152" y="672" width="2" height="38" fill="#784848"/>
<rect x="148" y="686" width="4" height="24" fill="#b07070"/>
<rect x="149" y="687" width="2" height="23" fill="#784848"/>
<rect x="145" y="679" width="4" height="31" fill="#00b070"/>
<rect x="146" y="680" width="2" height="30" fill="#007848"/>
<rect x="141" y="692" width="4" height="18" fill="#b07070"/>
<rect x="142" y="693" width="2" height="17" fill="#784848"/>
<rect x="138" y="692" width="4" height="18" fill="#00b070"/>
<rect x="139" y="693" width="2" height="17" fill="#007848"/>
<rect x="135" y="649" width="4" height="61" fill="#00b070"/>
<rect x="136" y="650" width="2" height="60" fill="#007848"/>
<rect x="132" y="668" width="4" height="42" fill="#00b070"/>
<rect x="133" y="669" width="2" height="41" fill="#007848"/>
<rect x="129" y="655" width="4" height="55" fill="#b07070"/>
<rect x="130" y="656" width="2" height="54" fill="#784848"/>
<rect x="126" y="662" width="4" height="48" fill="#00b070"/>
<rect x="127" y="663" width="2" height="47" fill="#007848"/>
<rect x="123" y="655" width="4" height="55" fill="#b07070"/>
<rect x="124" y="656" width="2" height="54" fill="#784848"/>
<rect x="120" y="655" width="4" height="55" fill="#00b070"/>
<rect x="121" y="656" width="2" height="54" fill="#007848"/>
<rect x="117" y="634" width="4" height="76" fill="#b07070"/>
<rect x="118" y="635" width="2" height="75" fill="#784848"/>
<rect x="114" y="644" width="4" height="66" fill="#b07070"/>
<rect x="115" y="645" width="2" height="65" fill="#784848"/>
<rect x="111" y="676" width="4" height="34" fill="#b07070"/>
<rect x="112" y="677" width="2" height="33" fill="#784848"/>
<rect x="108" y="660" width="4" height="50" fill="#00b070"/>
<rect x="109" y="661" width="2" height="49" fill="#007848"/>
<rect x="105" y="664" width="4" height="46" fill="#b07070"/>
<rect x="106" y="665" width="2" height="45" fill="#784848"/>
<rect x="102" y="661" width="4" height="49" fill="#00b070"/>
<rect x="103" y="662" width="2" height="48" fill="#007848"/>
<rect x="99" y="691" width="4" height="19" fill="#00b070"/>
<rect x="100" y="692" width="2" height="18" fill="#007848"/>
<rect x="96" y="695" width="4" height="15" fill="#00b070"/>
<rect x="97" y="696" width="2" height="14" fill="#007848"/>
<rect x="93" y="667" width="4" height="43" fill="#b07070"/>
<rect x="94" y="668" width="2" height="42" fill="#784848"/>
<rect x="89" y="661" width="4" height="49" fill="#00b070"/>
<rect x="90" y="662" width="2" height="48" fill="#007848"/>
<rect x="86" y="673" width="4" height="37" fill="#00b070"/>
<rect x="87" y="674" width="2" height="36" fill="#007848"/>
<rect x="83" y="645" width="4" height="65" fill="#b07070"/>
<rect x="84" y="646" width="2" height="64" fill="#784848"/>
<rect x="80" y="671" width="4" height="39" fill="#b07070"/>
<rect x="81" y="672" width="2" height="38" fill="#784848"/>
<rect x="77" y="696" width="4" height="14" fill="#00b070"/>
<rect x="78" y="697" width="2" height="13" fill="#007848"/>
<rect x="74" y="700" width="4" height="10" fill="#b07070"/>
<rect x="75" y="701" width="2" height="9" fill="#784848"/>
<rect x="71" y="687" width="4" height="23" fill="#b07070"/>
<rect x="72" y="688" width="2" height="22" fill="#784848"/>
<rect x="68" y="668" width="4" height="42" fill="#00b070"/>
<rect x="69" y="669" width="2" height="41" fill="#007848"/>
<rect x="65" y="656" width="4" height="54" fill="#b07070"/>
<rect x="66" y="657" width="2" height="53" fill="#784848"/>
<rect x="62" y="666" width="4" height="44" fill="#00b070"/>
<rect x="63" y="667" width="2" height="43" fill="#007848"/>
<rect x="59" y="649" width="4" height="61" fill="#00b070"/>
<rect x="60" y="650" width="2" height="60" fill="#007848"/>
<rect x="56" y="684" width="4" height="26" fill="#00b070"/>
<rect x="57" y="685" width="2" height="25" fill="#007848"/>
<rect x="53" y="684" width="4" height="26" fill="#00b070"/>
<rect x="54" y="685" width="2" height="25" fill="#007848"/>
<rect x="50" y="660" width="4" height="50" fill="#b07070"/>
<rect x="51" y="661" width="2" height="49" fill="#784848"/>
<rect x="47" y="659" width="4" height="51" fill="#b07070"/>
<rect x="48" y="660" width="2" height="50" fill="#784848"/>
<rect x="44" y="617" width="4" height="93" fill="#00b070"/>
<rect x="45" y="618" width="2" height="92" fill="#007848"/>
<rect x="40" y="609" width="4" height="101" fill="#b07070"/>
<rect x="41" y="610" width="2" height="100" fill="#784848"/>
<rect x="37" y="659" width="4" height="51" fill="#b07070"/>
<rect x="38" y="660" width="2" height="50" fill="#784848"/>
<rect x="34" y="671" width="4" height="39" fill="#00b070"/>
<rect x="35" y="672" width="2" height="38" fill="#007848"/>
<rect x="31" y="665" width="4" height="45" fill="#b07070"/>
<rect x="32" y="666" width="2" height="44" fill="#784848"/>
<rect x="28" y="612" width="4" height="98" fill="#b07070"/>
<rect x="29" y="613" width="2" height="97" fill="#784848"/>
<rect x="25" y="629" width="4" height="81" fill="#b07070"/>
<rect x="26" y="630" width="2" height="80" fill="#784848"/>
<rect x="22" y="656" width="4" height="54" fill="#00b070"/>
<rect x="23" y="657" width="2" height="53" fill="#007848"/>
<rect x="19" y="632" width="4" height="78" fill="#b07070"/>
<rect x="20" y="633" width="2" height="77" fill="#784848"/>
<rect x="16" y="627" width="4" height="83" fill="#00b070"/>
<rect x="17" y="628" width="2" height="82" fill="#007848"/>
<rect x="1130" y="808" width="4" height="32" fill="#4a2c2c"/>
<rect x="1131" y="808" width="2" height="31" fill="#764848"/>
<rect x="1127" y="808" width="4" height="17" fill="#4a2c2c"/>
<rect x="1128" y="808" width="2" height="16" fill="#764848"/>
<rect x="1124" y="807" width="4" height="1" fill="#004e30"/>
<rect x="1121" y="806" width="4" height="2" fill="#004e30"/>
<rect x="1122" y="807" width="2" height="1" fill="#007c4c"/>
<rect x="1118" y="802" width="4" height="6" fill="#004e30"/>
<rect x="1119" y="803" width="2" height="5" fill="#007c4c"/>
<rect x="1115" y="808" width="4" height="4" fill="#4a2c2c"/>
<rect x="1116" y="808" width="2" height="3" fill="#764848"/>
<rect x="1111" y="808" width="4" height="18" fill="#4a2c2c"/>
<rect x="1112" y="808" width="2" height="17" fill="#764848"/>
<rect x="1108" y="808" width="4" height="24" fill="#4a2c2c"/>
<rect x="1109" y="808" width="2" height="23" fill="#764848"/>
<rect x="1105" y="808" width="4" height="22" fill="#4a2c2c"/>
<rect x="1106" y="808" width="2" height="21" fill="#764848"/>
<rect x="1102" y="808" width="4" height="56" fill="#4a2c2c"/>
<rect x="1103" y="808" width="2" height="55" fill="#764848"/>
<rect x="1099" y="808" width="4" height="64" fill="#4a2c2c"/>
<rect x="1100" y="808" width="2" height="63" fill="#764848"/>
<rect x="1096" y="808" width="4" height="61" fill="#4a2c2c"/>
<rect x="1097" y="808" width="2" height="60" fill="#764848"/>
<rect x="1093" y="808" width="4" height="52" fill="#4a2c2c"/>
<rect x="1094" y="808" width="2" height="51" fill="#764848"/>
<rect x="1090" y="808" width="4" height="29" fill="#4a2c2c"/>
<rect x="1091" y="808" width="2" height="28" fill="#764848"/>
<rect x="1087" y="808" width="4" height="13" fill="#4a2c2c"/>
<rect x="1088" y="808" width="2" height="12" fill="#764848"/>
<rect x="1084" y="806" width="4" height="2" fill="#004e30"/>
<rect x="1085" y="807" width="2" height="1" fill="#007c4c"/>
<rect x="1081" y="807" width="4" height="1" fill="#004e30"/>
<rect x="1082" y="808" width="2" height="0" fill="#007c4c"/>
<rect x="1078" y="807" width="4" height="1" fill="#004e30"/>
<rect x="1079" y="808" width="2" height="0" fill="#007c4c"/>
<rect x="1075" y="807" width="4" height="1" fill="#004e30"/>
<rect x="1076" y="808" width="2" height="0" fill="#007c4c"/>
<rect x="1072" y="808" width="4" height="6" fill="#4a2c2c"/>
<rect x="1073" y="808" width="2" height="5" fill="#764848"/>
<rect x="1069" y="808" width="4" height="9" fill="#4a2c2c"/>
<rect x="1070" y="808" width="2" height="8" fill="#764848"/>
<rect x="1066" y="808" width="4" height="9" fill="#4a2c2c"/>
<rect x="1067" y="808" width="2" height="8" fill="#764848"/>
<rect x="1063" y="808" width="4" height="9" fill="#4a2c2c"/>
<rect x="1064" y="808" width="2" height="8" fill="#764848"/>
<rect x="1059" y="808" width="4" height="9" fill="#4a2c2c"/>
<rect x="1060" y="808" width="2" height="8" fill="#764848"/>
<rect x="1056" y="808" width="4" height="14" fill="#4a2c2c"/>
<rect x="1057" y="808" width="2" height="13" fill="#764848"/>
<rect x="1053" y="808" width="4" height="19" fill="#4a2c2c"/>
<rect x="1054" y="808" width="2" height="18" fill="#764848"/>
<rect x="1050" y="808" width="4" height="22" fill="#4a2c2c"/>
<rect x="1051" y="808" width="2" height="21" fill="#764848"/>
<rect x="1047" y="808" width="4" height="31" fill="#4a2c2c"/>
<rect x="1048" y="808" width="2" height="30" fill="#764848"/>
<rect x="1044" y="808" width="4" height="32" fill="#4a2c2c"/>
<rect x="1045" y="808" width="2" height="31" fill="#764848"/>
<rect x="1041" y="808" width="4" height="41" fill="#4a2c2c"/>
<rect x="1042" y="808" width="2" height="40" fill="#764848"/>
<rect x="1038" y="808" width="4" height="43" fill="#4a2c2c"/>
<rect x="1039" y="808" width="2" height="42" fill="#764848"/>
<rect x="1035" y="808" width="4" height="47" fill="#4a2c2c"/>
<rect x="1036" y="808" width="2" height="46" fill="#764848"/>
<rect x="1032" y="808" width="4" height="47" fill="#4a2c2c"/>
<rect x="1033" y="808" width="2" height="46" fill="#764848"/>
<rect x="1029" y="808" width="4" height="43" fill="#4a2c2c"/>
<rect x="1030" y="808" width="2" height="42" fill="#764848"/>
<rect x="1026" y="808" width="4" height="37" fill="#4a2c2c"/>
<rect x="1027" y="808" width="2" height="36" fill="#764848"/>
<rect x="1023" y="808" width="4" height="29" fill="#4a2c2c"/>
<rect x="1024" y="808" width="2" height="28" fill="#764848"/>
<rect x="1020" y="808" width="4" height="31" fill="#4a2c2c"/>
<rect x="1021" y="808" width="2" height="30" fill="#764848"/>
<rect x="1017" y="808" width="4" height="16" fill="#4a2c2c"/>
<rect x="1018" y="808" width="2" height="15" fill="#764848"/>
<rect x="1014" y="808" width="4" height="6" fill="#4a2c2c"/>
<rect x="1015" y="808" width="2" height="5" fill="#764848"/>
<rect x="1010" y="807" width="4" height="1" fill="#004e30"/>
<rect x="1007" y="808" width="4" height="4" fill="#4a2c2c"/>
<rect x="1008" y="808" width="2" height="3" fill="#764848"/>
<rect x="1004" y="808" width="4" height="4" fill="#4a2c2c"/>
<rect x="1005" y="808" width="2" height="3" fill="#764848"/>
<rect x="1001" y="802" width="4" height="6" fill="#004e30"/>
<rect x="1002" y="803" width="2" height="5" fill="#007c4c"/>
<rect x="998" y="792" width="4" height="16" fill="#004e30"/>
<rect x="999" y="793" width="2" height="15" fill="#007c4c"/>
<rect x="995" y="781" width="4" height="27" fill="#004e30"/>
<rect x="996" y="782" width="2" height="26" fill="#007c4c"/>
<rect x="992" y="776" width="4" height="32" fill="#004e30"/>
<rect x="993" y="777" width="2" height="31" fill="#007c4c"/>
<rect x="989" y="774" width="4" height="34" fill="#004e30"/>
<rect x="990" y="775" width="2" height="33" fill="#007c4c"/>
<rect x="986" y="768" width="4" height="40" fill="#004e30"/>
<rect x="987" y="769" width="2" height="39" fill="#007c4c"/>
<rect x="983" y="764" width="4" height="44" fill="#004e30"/>
<rect x="984" y="765" width="2" height="43" fill="#007c4c"/>
<rect x="980" y="772" width="4" height="36" fill="#004e30"/>
<rect x="981" y="773" width="2" height="35" fill="#007c4c"/>
<rect x="977" y="767" width="4" height="41" fill="#004e30"/>
<rect x="978" y="768" width="2" height="40" fill="#007c4c"/>
<rect x="974" y="762" width="4" height="46" fill="#004e30"/>
<rect x="975" y="763" width="2" height="45" fill="#007c4c"/>
<rect x="971" y="772" width="4" height="36" fill="#004e30"/>
<rect x="972" y="773" width="2" height="35" fill="#007c4c"/>
<rect x="968" y="788" width="4" height="20" fill="#004e30"/>
<rect x="969" y="789" width="2" height="19" fill="#007c4c"/>
<rect x="965" y="797" width="4" height="11" fill="#004e30"/>
<rect x="966" y="798" width="2" height="10" fill="#007c4c"/>
<rect x="962" y="808" width="4" height="6" fill="#4a2c2c"/>
<rect x="963" y="808" width="2" height="5" fill="#764848"/>
<rect x="958" y="808" width="4" height="15" fill="#4a2c2c"/>
<rect x="959" y="808" width="2" height="14" fill="#764848"/>
<rect x="955" y="808" width="4" height="16" fill="#4a2c2c"/>
<rect x="956" y="808" width="2" height="15" fill="#764848"/>
<rect x="952" y="808" width="4" height="16" fill="#4a2c2c"/>
<rect x="953" y="808" width="2" height="15" fill="#764848"/>
<rect x="949" y="808" width="4" height="15" fill="#4a2c2c"/>
<rect x="950" y="808" width="2" height="14" fill="#764848"/>
<rect x="946" y="808" width="4" height="13" fill="#4a2c2c"/>
<rect x="947" y="808" width="2" height="12" fill="#764848"/>
<rect x="943" y="806" width="4" height="2" fill="#004e30"/>
<rect x="944" y="807" width="2" height="1" fill="#007c4c"/>
<rect x="940" y="794" width="4" height="14" fill="#004e30"/>
<rect x="941" y="795" width="2" height="13" fill="#007c4c"/>
<rect x="937" y="786" width="4" height="22" fill="#004e30"/>
<rect x="938" y="787" width="2" height="21" fill="#007c4c"/>
<rect x="934" y="802" width="4" height="6" fill="#004e30"/>
<rect x="935" y="803" width="2" height="5" fill="#007c4c"/>
<rect x="931" y="808" width="4" height="1" fill="#4a2c2c"/>
<rect x="932" y="808" width="2" height="0" fill="#764848"/>
<rect x="928" y="808" width="4" height="11" fill="#4a2c2c"/>
<rect x="929" y="808" width="2" height="10" fill="#764848"/>
<rect x="925" y="808" width="4" height="26" fill="#4a2c2c"/>
<rect x="926" y="808" width="2" height="25" fill="#764848"/>
<rect x="922" y="808" width="4" height="41" fill="#4a2c2c"/>
<rect x="923" y="808" width="2" height="40" fill="#764848"/>
<rect x="919" y="808" width="4" height="48" fill="#4a2c2c"/>
<rect x="920" y="808" width="2" height="47" fill="#764848"/>
<rect x="916" y="808" width="4" height="52" fill="#4a2c2c"/>
<rect x="917" y="808" width="2" height="51" fill="#764848"/>
<rect x="913" y="808" width="4" height="51" fill="#4a2c2c"/>
<rect x="914" y="808" width="2" height="50" fill="#764848"/>
<rect x="910" y="808" width="4" height="50" fill="#4a2c2c"/>
<rect x="911" y="808" width="2" height="49" fill="#764848"/>
<rect x="906" y="808" width="4" height="52" fill="#4a2c2c"/>
<rect x="907" y="808" width="2" height="51" fill="#764848"/>
<rect x="903" y="808" width="4" height="48" fill="#4a2c2c"/>
<rect x="904" y="808" width="2" height="47" fill="#764848"/>
<rect x="900" y="808" width="4" height="44" fill="#4a2c2c"/>
<rect x="901" y="808" width="2" height="43" fill="#764848"/>
<rect x="897" y="808" width="4" height="56" fill="#4a2c2c"/>
<rect x="898" y="808" width="2" height="55" fill="#764848"/>
<rect x="894" y="808" width="4" height="66" fill="#4a2c2c"/>
<rect x="895" y="808" width="2" height="65" fill="#764848"/>
<rect x="891" y="808" width="4" height="61" fill="#4a2c2c"/>
<rect x="892" y="808" width="2" height="60" fill="#764848"/>
<rect x="888" y="808" width="4" height="51" fill="#4a2c2c"/>
<rect x="889" y="808" width="2" height="50" fill="#764848"/>
<rect x="885" y="808" width="4" height="42" fill="#4a2c2c"/>
<rect x="886" y="808" width="2" height="41" fill="#764848"/>
<rect x="882" y="808" width="4" height="31" fill="#4a2c2c"/>
<rect x="883" y="808" width="2" height="30" fill="#764848"/>
<rect x="879" y="808" width="4" height="11" fill="#4a2c2c"/>
<rect x="880" y="808" width="2" height="10" fill="#764848"/>
<rect x="876" y="801" width="4" height="7" fill="#004e30"/>
<rect x="877" y="802" width="2" height="6" fill="#007c4c"/>
<rect x="873" y="806" width="4" height="2" fill="#004e30"/>
<rect x="874" y="807" width="2" height="1" fill="#007c4c"/>
<rect x="870" y="808" width="4" height="9" fill="#4a2c2c"/>
<rect x="871" y="808" width="2" height="8" fill="#764848"/>
<rect x="867" y="808" width="4" height="19" fill="#4a2c2c"/>
<rect x="868" y="808" width="2" height="18" fill="#764848"/>
<rect x="864" y="808" width="4" height="20" fill="#4a2c2c"/>
<rect x="865" y="808" width="2" height="19" fill="#764848"/>
<rect x="861" y="808" width="4" height="26" fill="#4a2c2c"/>
<rect x="862" y="808" width="2" height="25" fill="#764848"/>
<rect x="857" y="808" width="4" height="27" fill="#4a2c2c"/>
<rect x="858" y="808" width="2" height="26" fill="#764848"/>
<rect x="854" y="808" width="4" height="37" fill="#4a2c2c"/>
<rect x="855" y="808" width="2" height="36" fill="#764848"/>
<rect x="851" y="808" width="4" height="28" fill="#4a2c2c"/>
<rect x="852" y="808" width="2" height="27" fill="#764848"/>
<rect x="848" y="808" width="4" height="19" fill="#4a2c2c"/>
<rect x="849" y="808" width="2" height="18" fill="#764848"/>
<rect x="845" y="808" width="4" height="24" fill="#4a2c2c"/>
<rect x="846" y="808" width="2" height="23" fill="#764848"/>
<rect x="842" y="808" width="4" height="29" fill="#4a2c2c"/>
<rect x="843" y="808" width="2" height="28" fill="#764848"/>
<rect x="839" y="808" width="4" height="36" fill="#4a2c2c"/>
<rect x="840" y="808" width="2" height="35" fill="#764848"/>
<rect x="836" y="808" width="4" height="34" fill="#4a2c2c"/>
<rect x="837" y="808" width="2" height="33" fill="#764848"/>
<rect x="833" y="808" width="4" height="40" fill="#4a2c2c"/>
<rect x="834" y="808" width="2" height="39" fill="#764848"/>
<rect x="830" y="808" width="4" height="36" fill="#4a2c2c"/>
<rect x="831" y="808" width="2" height="35" fill="#764848"/>
<rect x="827" y="808" width="4" height="30" fill="#4a2c2c"/>
<rect x="828" y="808" width="2" height="29" fill="#764848"/>
<rect x="824" y="808" width="4" height="29" fill="#4a2c2c"/>
<rect x="825" y="808" width="2" height="28" fill="#764848"/>
<rect x="821" y="808" width="4" height="26" fill="#4a2c2c"/>
<rect x="822" y="808" width="2" height="25" fill="#764848"/>
<rect x="818" y="808" width="4" height="27" fill="#4a2c2c"/>
<rect x="819" y="808" width="2" height="26" fill="#764848"/>
<rect x="815" y="808" width="4" height="22" fill="#4a2c2c"/>
<rect x="816" y="808" width="2" height="21" fill="#764848"/>
<rect x="812" y="808" width="4" height="19" fill="#4a2c2c"/>
<rect x="813" y="808" width="2" height="18" fill="#764848"/>
<rect x="809" y="804" width="4" height="4" fill="#004e30"/>
<rect x="810" y="805" width="2" height="3" fill="#007c4c"/>
<rect x="805" y="779" width="4" height="29" fill="#004e30"/>
<rect x="806" y="780" width="2" height="28" fill="#007c4c"/>
<rect x="802" y="770" width="4" height="38" fill="#004e30"/>
<rect x="803" y="771" width="2" height="37" fill="#007c4c"/>
<rect x="799" y="762" width="4" height="46" fill="#004e30"/>
<rect x="800" y="763" width="2" height="45" fill="#007c4c"/>
<rect x="796" y="764" width="4" height="44" fill="#004e30"/>
<rect x="797" y="765" width="2" height="43" fill="#007c4c"/>
<rect x="793" y="769" width="4" height="39" fill="#004e30"/>
<rect x="794" y="770" width="2" height="38" fill="#007c4c"/>
<rect x="790" y="767" width="4" height="41" fill="#004e30"/>
<rect x="791" y="768" width="2" height="40" fill="#007c4c"/>
<rect x="787" y="762" width="4" height="46" fill="#004e30"/>
<rect x="788" y="763" width="2" height="45" fill="#007c4c"/>
<rect x="784" y="750" width="4" height="58" fill="#004e30"/>
<rect x="785" y="751" width="2" height="57" fill="#007c4c"/>
<rect x="781" y="737" width="4" height="71" fill="#004e30"/>
<rect x="782" y="738" width="2" height="70" fill="#007c4c"/>
<rect x="778" y="729" width="4" height="79" fill="#004e30"/>
<rect x="779" y="730" width="2" height="78" fill="#007c4c"/>
<rect x="775" y="728" width="4" height="80" fill="#004e30"/>
<rect x="776" y="729" width="2" height="79" fill="#007c4c"/>
<rect x="772" y="717" width="4" height="91" fill="#004e30"/>
<rect x="773" y="718" width="2" height="90" fill="#007c4c"/>
<rect x="769" y="727" width="4" height="81" fill="#004e30"/>
<rect x="770" y="728" width="2" height="80" fill="#007c4c"/>
<rect x="766" y="738" width="4" height="70" fill="#004e30"/>
<rect x="767" y="739" width="2" height="69" fill="#007c4c"/>
<rect x="763" y="767" width="4" height="41" fill="#004e30"/>
<rect x="764" y="768" width="2" height="40" fill="#007c4c"/>
<rect x="760" y="778" width="4" height="30" fill="#004e30"/>
<rect x="761" y="779" width="2" height="29" fill="#007c4c"/>
<rect x="757" y="781" width="4" height="27" fill="#004e30"/>
<rect x="758" y="782" width="2" height="26" fill="#007c4c"/>
<rect x="753" y="789" width="4" height="19" fill="#004e30"/>
<rect x="754" y="790" width="2" height="18" fill="#007c4c"/>
<rect x="750" y="801" width="4" height="7" fill="#004e30"/>
<rect x="751" y="802" width="2" height="6" fill="#007c4c"/>
<rect x="747" y="808" width="4" height="13" fill="#4a2c2c"/>
<rect x="748" y="808" width="2" height="12" fill="#764848"/>
<rect x="744" y="808" width="4" height="14" fill="#4a2c2c"/>
<rect x="745" y="808" width="2" height="13" fill="#764848"/>
<rect x="741" y="808" width="4" height="6" fill="#4a2c2c"/>
<rect x="742" y="808" width="2" height="5" fill="#764848"/>
<rect x="738" y="807" width="4" height="1" fill="#004e30"/>
<rect x="739" y="808" width="2" height="0" fill="#007c4c"/>
<rect x="735" y="801" width="4" height="7" fill="#004e30"/>
<rect x="736" y="802" width="2" height="6" fill="#007c4c"/>
<rect x="732" y="794" width="4" height="14" fill="#004e30"/>
<rect x="733" y="795" width="2" height="13" fill="#007c4c"/>
<rect x="729" y="789" width="4" height="19" fill="#004e30"/>
<rect x="730" y="790" width="2" height="18" fill="#007c4c"/>
<rect x="726" y="793" width="4" height="15" fill="#004e30"/>
<rect x="727" y="794" width="2" height="14" fill="#007c4c"/>
<rect x="723" y="805" width="4" height="3" fill="#004e30"/>
<rect x="724" y="806" width="2" height="2" fill="#007c4c"/>
<rect x="720" y="808" width="4" height="4" fill="#4a2c2c"/>
<rect x="721" y="808" width="2" height="3" fill="#764848"/>
<rect x="717" y="808" width="4" height="4" fill="#4a2c2c"/>
<rect x="718" y="808" width="2" height="3" fill="#764848"/>
<rect x="714" y="807" width="4" height="1" fill="#004e30"/>
<rect x="711" y="801" width="4" height="7" fill="#004e30"/>
<rect x="712" y="802" width="2" height="6" fill="#007c4c"/>
<rect x="708" y="800" width="4" height="8" fill="#004e30"/>
<rect x="709" y="801" width="2" height="7" fill="#007c4c"/>
<rect x="704" y="792" width="4" height="16" fill="#004e30"/>
<rect x="705" y="793" width="2" height="15" fill="#007c4c"/>
<rect x="701" y="786" width="4" height="22" fill="#004e30"/>
<rect x="702" y="787" width="2" height="21" fill="#007c4c"/>
<rect x="698" y="779" width="4" height="29" fill="#004e30"/>
<rect x="699" y="780" width="2" height="28" fill="#007c4c"/>
<rect x="695" y="779" width="4" height="29" fill="#004e30"/>
<rect x="696" y="780" width="2" height="28" fill="#007c4c"/>
<rect x="692" y="779" width="4" height="29" fill="#004e30"/>
<rect x="693" y="780" width="2" height="28" fill="#007c4c"/>
<rect x="689" y="781" width="4" height="27" fill="#004e30"/>
<rect x="690" y="782" width="2" height="26" fill="#007c4c"/>
<rect x="686" y="785" width="4" height="23" fill="#004e30"/>
<rect x="687" y="786" width="2" height="22" fill="#007c4c"/>
<rect x="683" y="790" width="4" height="18" fill="#004e30"/>
<rect x="684" y="791" width="2" height="17" fill="#007c4c"/>
<rect x="680" y="800" width="4" height="8" fill="#004e30"/>
<rect x="681" y="801" width="2" height="7" fill="#007c4c"/>
<rect x="677" y="808" width="4" height="4" fill="#4a2c2c"/>
<rect x="678" y="808" width="2" height="3" fill="#764848"/>
<rect x="674" y="808" width="4" height="9" fill="#4a2c2c"/>
<rect x="675" y="808" width="2" height="8" fill="#764848"/>
<rect x="671" y="808" width="4" height="15" fill="#4a2c2c"/>
<rect x="672" y="808" width="2" height="14" fill="#764848"/>
<rect x="668" y="808" width="4" height="20" fill="#4a2c2c"/>
<rect x="669" y="808" width="2" height="19" fill="#764848"/>
<rect x="665" y="808" width="4" height="18" fill="#4a2c2c"/>
<rect x="666" y="808" width="2" height="17" fill="#764848"/>
<rect x="662" y="808" width="4" height="15" fill="#4a2c2c"/>
<rect x="663" y="808" width="2" height="14" fill="#764848"/>
<rect x="659" y="808" width="4" height="15" fill="#4a2c2c"/>
<rect x="660" y="808" width="2" height="14" fill="#764848"/>
<rect x="656" y="808" width="4" height="16" fill="#4a2c2c"/>
<rect x="657" y="808" width="2" height="15" fill="#764848"/>
<rect x="652" y="808" width="4" height="19" fill="#4a2c2c"/>
<rect x="653" y="808" width="2" height="18" fill="#764848"/>
<rect x="649" y="808" width="4" height="21" fill="#4a2c2c"/>
<rect x="650" y="808" width="2" height="20" fill="#764848"/>
<rect x="646" y="808" width="4" height="22" fill="#4a2c2c"/>
<rect x="647" y="808" width="2" height="21" fill="#764848"/>
<rect x="643" y="808" width="4" height="16" fill="#4a2c2c"/>
<rect x="644" y="808" width="2" height="15" fill="#764848"/>
<rect x="640" y="808" width="4" height="4" fill="#4a2c2c"/>
<rect x="641" y="808" width="2" height="3" fill="#764848"/>
<rect x="637" y="798" width="4" height="10" fill="#004e30"/>
<rect x="638" y="799" width="2" height="9" fill="#007c4c"/>
<rect x="634" y="787" width="4" height="21" fill="#004e30"/>
<rect x="635" y="788" width="2" height="20" fill="#007c4c"/>
<rect x="631" y="784" width="4" height="24" fill="#004e30"/>
<rect x="632" y="785" width="2" height="23" fill="#007c4c"/>
<rect x="628" y="781" width="4" height="27" fill="#004e30"/>
<rect x="629" y="782" width="2" height="26" fill="#007c4c"/>
<rect x="625" y="782" width="4" height="26" fill="#004e30"/>
<rect x="626" y="783" width="2" height="25" fill="#007c4c"/>
<rect x="622" y="783" width="4" height="25" fill="#004e30"/>
<rect x="623" y="784" width="2" height="24" fill="#007c4c"/>
<rect x="619" y="777" width="4" height="31" fill="#004e30"/>
<rect x="620" y="778" width="2" height="30" fill="#007c4c"/>
<rect x="616" y="775" width="4" height="33" fill="#004e30"/>
<rect x="617" y="776" width="2" height="32" fill="#007c4c"/>
<rect x="613" y="773" width="4" height="35" fill="#004e30"/>
<rect x="614" y="774" width="2" height="34" fill="#007c4c"/>
<rect x="610" y="772" width="4" height="36" fill="#004e30"/>
<rect x="611" y="773" width="2" height="35" fill="#007c4c"/>
<rect x="607" y="771" width="4" height="37" fill="#004e30"/>
<rect x="608" y="772" width="2" height="36" fill="#007c4c"/>
<rect x="604" y="774" width="4" height="34" fill="#004e30"/>
<rect x="605" y="775" width="2" height="33" fill="#007c4c"/>
<rect x="600" y="780" width="4" height="28" fill="#004e30"/>
<rect x="601" y="781" width="2" height="27" fill="#007c4c"/>
<rect x="597" y="786" width="4" height="22" fill="#004e30"/>
<rect x="598" y="787" width="2" height="21" fill="#007c4c"/>
<rect x="594" y="790" width="4" height="18" fill="#004e30"/>
<rect x="595" y="791" width="2" height="17" fill="#007c4c"/>
<rect x="591" y="785" width="4" height="23" fill="#004e30"/>
<rect x="592" y="786" width="2" height="22" fill="#007c4c"/>
<rect x="588" y="785" width="4" height="23" fill="#004e30"/>
<rect x="589" y="786" width="2" height="22" fill="#007c4c"/>
<rect x="585" y="791" width="4" height="17" fill="#004e30"/>
<rect x="586" y="792" width="2" height="16" fill="#007c4c"/>
<rect x="582" y="802" width="4" height="6" fill="#004e30"/>
<rect x="583" y="803" width="2" height="5" fill="#007c4c"/>
<rect x="579" y="808" width="4" height="2" fill="#4a2c2c"/>
<rect x="580" y="808" width="2" height="1" fill="#764848"/>
<rect x="576" y="808" width="4" height="8" fill="#4a2c2c"/>
<rect x="577" y="808" width="2" height="7" fill="#764848"/>
<rect x="573" y="808" width="4" height="17" fill="#4a2c2c"/>
<rect x="574" y="808" width="2" height="16" fill="#764848"/>
<rect x="570" y="808" width="4" height="27" fill="#4a2c2c"/>
<rect x="571" y="808" width="2" height="26" fill="#764848"/>
<rect x="567" y="808" width="4" height="29" fill="#4a2c2c"/>
<rect x="568" y="808" width="2" height="28" fill="#764848"/>
<rect x="564" y="808" width="4" height="26" fill="#4a2c2c"/>
<rect x="565" y="808" width="2" height="25" fill="#764848"/>
<rect x="561" y="808" width="4" height="17" fill="#4a2c2c"/>
<rect x="562" y="808" width="2" height="16" fill="#764848"/>
<rect x="558" y="808" width="4" height="14" fill="#4a2c2c"/>
<rect x="559" y="808" width="2" height="13" fill="#764848"/>
<rect x="555" y="808" width="4" height="15" fill="#4a2c2c"/>
<rect x="556" y="808" width="2" height="14" fill="#764848"/>
<rect x="552" y="808" width="4" height="11" fill="#4a2c2c"/>
<rect x="553" y="808" width="2" height="10" fill="#764848"/>
<rect x="548" y="808" width="4" height="14" fill="#4a2c2c"/>
<rect x="549" y="808" width="2" height="13" fill="#764848"/>
<rect x="545" y="808" width="4" height="7" fill="#4a2c2c"/>
<rect x="546" y="808" width="2" height="6" fill="#764848"/>
<rect x="542" y="808" width="4" height="4" fill="#4a2c2c"/>
<rect x="543" y="808" width="2" height="3" fill="#764848"/>
<rect x="539" y="807" width="4" height="1" fill="#004e30"/>
<rect x="540" y="808" width="2" height="0" fill="#007c4c"/>
<rect x="536" y="800" width="4" height="8" fill="#004e30"/>
<rect x="537" y="801" width="2" height="7" fill="#007c4c"/>
<rect x="533" y="789" width="4" height="19" fill="#004e30"/>
<rect x="534" y="790" width="2" height="18" fill="#007c4c"/>
<rect x="530" y="775" width="4" height="33" fill="#004e30"/>
<rect x="531" y="776" width="2" height="32" fill="#007c4c"/>
<rect x="527" y="770" width="4" height="38" fill="#004e30"/>
<rect x="528" y="771" width="2" height="37" fill="#007c4c"/>
<rect x="524" y="774" width="4" height="34" fill="#004e30"/>
<rect x="525" y="775" width="2" height="33" fill="#007c4c"/>
<rect x="521" y="781" width="4" height="27" fill="#004e30"/>
<rect x="522" y="782" width="2" height="26" fill="#007c4c"/>
<rect x="518" y="793" width="4" height="15" fill="#004e30"/>
<rect x="519" y="794" width="2" height="14" fill="#007c4c"/>
<rect x="515" y="795" width="4" height="13" fill="#004e30"/>
<rect x="516" y="796" width="2" height="12" fill="#007c4c"/>
<rect x="512" y="803" width="4" height="5" fill="#004e30"/>
<rect x="513" y="804" width="2" height="4" fill="#007c4c"/>
<rect x="509" y="804" width="4" height="4" fill="#004e30"/>
<rect x="510" y="805" width="2" height="3" fill="#007c4c"/>
<rect x="506" y="807" width="4" height="1" fill="#004e30"/>
<rect x="503" y="807" width="4" height="1" fill="#004e30"/>
<rect x="499" y="808" width="4" height="6" fill="#4a2c2c"/>
<rect x="500" y="808" width="2" height="5" fill="#764848"/>
<rect x="496" y="808" width="4" height="9" fill="#4a2c2c"/>
<rect x="497" y="808" width="2" height="8" fill="#764848"/>
<rect x="493" y="808" width="4" height="3" fill="#4a2c2c"/>
<rect x="494" y="808" width="2" height="2" fill="#764848"/>
<rect x="490" y="808" width="4" height="5" fill="#4a2c2c"/>
<rect x="491" y="808" width="2" height="4" fill="#764848"/>
<rect x="487" y="808" width="4" height="14" fill="#4a2c2c"/>
<rect x="488" y="808" width="2" height="13" fill="#764848"/>
<rect x="484" y="808" width="4" height="17" fill="#4a2c2c"/>
<rect x="485" y="808" width="2" height="16" fill="#764848"/>
<rect x="481" y="808" width="4" height="20" fill="#4a2c2c"/>
<rect x="482" y="808" width="2" height="19" fill="#764848"/>
<rect x="478" y="808" width="4" height="31" fill="#4a2c2c"/>
<rect x="479" y="808" width="2" height="30" fill="#764848"/>
<rect x="475" y="808" width="4" height="46" fill="#4a2c2c"/>
<rect x="476" y="808" width="2" height="45" fill="#764848"/>
<rect x="472" y="808" width="4" height="69" fill="#4a2c2c"/>
<rect x="473" y="808" width="2" height="68" fill="#764848"/>
<rect x="469" y="808" width="4" height="69" fill="#4a2c2c"/>
<rect x="470" y="808" width="2" height="68" fill="#764848"/>
<rect x="466" y="808" width="4" height="67" fill="#4a2c2c"/>
<rect x="467" y="808" width="2" height="66" fill="#764848"/>
<rect x="463" y="808" width="4" height="48" fill="#4a2c2c"/>
<rect x="464" y="808" width="2" height="47" fill="#764848"/>
<rect x="460" y="808" width="4" height="35" fill="#4a2c2c"/>
<rect x="461" y="808" width="2" height="34" fill="#764848"/>
<rect x="457" y="808" width="4" height="24" fill="#4a2c2c"/>
<rect x="458" y="808" width="2" height="23" fill="#764848"/>
<rect x="454" y="808" width="4" height="9" fill="#4a2c2c"/>
<rect x="455" y="808" width="2" height="8" fill="#764848"/>
<rect x="451" y="808" width="4" height="4" fill="#4a2c2c"/>
<rect x="452" y="808" width="2" height="3" fill="#764848"/>
<rect x="447" y="800" width="4" height="8" fill="#004e30"/>
<rect x="448" y="801" width="2" height="7" fill="#007c4c"/>
<rect x="444" y="792" width="4" height="16" fill="#004e30"/>
<rect x="445" y="793" width="2" height="15" fill="#007c4c"/>
<rect x="441" y="785" width="4" height="23" fill="#004e30"/>
<rect x="442" y="786" width="2" height="22" fill="#007c4c"/>
<rect x="438" y="784" width="4" height="24" fill="#004e30"/>
<rect x="439" y="785" width="2" height="23" fill="#007c4c"/>
<rect x="435" y="782" width="4" height="26" fill="#004e30"/>
<rect x="436" y="783" width="2" height="25" fill="#007c4c"/>
<rect x="432" y="781" width="4" height="27" fill="#004e30"/>
<rect x="433" y="782" width="2" height="26" fill="#007c4c"/>
<rect x="429" y="774" width="4" height="34" fill="#004e30"/>
<rect x="430" y="775" width="2" height="33" fill="#007c4c"/>
<rect x="426" y="763" width="4" height="45" fill="#004e30"/>
<rect x="427" y="764" width="2" height="44" fill="#007c4c"/>
<rect x="423" y="752" width="4" height="56" fill="#004e30"/>
<rect x="424" y="753" width="2" height="55" fill="#007c4c"/>
<rect x="420" y="749" width="4" height="59" fill="#004e30"/>
<rect x="421" y="750" width="2" height="58" fill="#007c4c"/>
<rect x="417" y="750" width="4" height="58" fill="#004e30"/>
<rect x="418" y="751" width="2" height="57" fill="#007c4c"/>
<rect x="414" y="752" width="4" height="56" fill="#004e30"/>
<rect x="415" y="753" width="2" height="55" fill="#007c4c"/>
<rect x="411" y="758" width="4" height="50" fill="#004e30"/>
<rect x="412" y="759" width="2" height="49" fill="#007c4c"/>
<rect x="408" y="757" width="4" height="51" fill="#004e30"/>
<rect x="409" y="758" width="2" height="50" fill="#007c4c"/>
<rect x="405" y="759" width="4" height="49" fill="#004e30"/>
<rect x="406" y="760" width="2" height="48" fill="#007c4c"/>
<rect x="402" y="770" width="4" height="38" fill="#004e30"/>
<rect x="403" y="771" width="2" height="37" fill="#007c4c"/>
<rect x="399" y="788" width="4" height="20" fill="#004e30"/>
<rect x="400" y="789" width="2" height="19" fill="#007c4c"/>
<rect x="395" y="799" width="4" height="9" fill="#004e30"/>
<rect x="396" y="800" width="2" height="8" fill="#007c4c"/>
<rect x="392" y="807" width="4" height="1" fill="#004e30"/>
<rect x="393" y="808" width="2" height="0" fill="#007c4c"/>
<rect x="389" y="808" width="4" height="4" fill="#4a2c2c"/>
<rect x="390" y="808" width="2" height="3" fill="#764848"/>
<rect x="386" y="808" width="4" height="8" fill="#4a2c2c"/>
<rect x="387" y="808" width="2" height="7" fill="#764848"/>
<rect x="383" y="808" width="4" height="13" fill="#4a2c2c"/>
<rect x="384" y="808" width="2" height="12" fill="#764848"/>
<rect x="380" y="808" width="4" height="20" fill="#4a2c2c"/>
<rect x="381" y="808" width="2" height="19" fill="#764848"/>
<rect x="377" y="808" width="4" height="23" fill="#4a2c2c"/>
<rect x="378" y="808" width="2" height="22" fill="#764848"/>
<rect x="374" y="808" width="4" height="20" fill="#4a2c2c"/>
<rect x="375" y="808" width="2" height="19" fill="#764848"/>
<rect x="371" y="808" width="4" height="20" fill="#4a2c2c"/>
<rect x="372" y="808" width="2" height="19" fill="#764848"/>
<rect x="368" y="808" width="4" height="15" fill="#4a2c2c"/>
<rect x="369" y="808" width="2" height="14" fill="#764848"/>
<rect x="365" y="808" width="4" height="4" fill="#4a2c2c"/>
<rect x="366" y="808" width="2" height="3" fill="#764848"/>
<rect x="362" y="808" width="4" height="1" fill="#4a2c2c"/>
<rect x="363" y="808" width="2" height="0" fill="#764848"/>
<rect x="359" y="808" width="4" height="5" fill="#4a2c2c"/>
<rect x="360" y="808" width="2" height="4" fill="#764848"/>
<rect x="356" y="808" width="4" height="13" fill="#4a2c2c"/>
<rect x="357" y="808" width="2" height="12" fill="#764848"/>
<rect x="353" y="808" width="4" height="22" fill="#4a2c2c"/>
<rect x="354" y="808" width="2" height="21" fill="#764848"/>
<rect x="350" y="808" width="4" height="27" fill="#4a2c2c"/>
<rect x="351" y="808" width="2" height="26" fill="#764848"/>
<rect x="346" y="808" width="4" height="27" fill="#4a2c2c"/>
<rect x="347" y="808" width="2" height="26" fill="#764848"/>
<rect x="343" y="808" width="4" height="32" fill="#4a2c2c"/>
<rect x="344" y="808" width="2" height="31" fill="#764848"/>
<rect x="340" y="808" width="4" height="32" fill="#4a2c2c"/>
<rect x="341" y="808" width="2" height="31" fill="#764848"/>
<rect x="337" y="808" width="4" height="34" fill="#4a2c2c"/>
<rect x="338" y="808" width="2" height="33" fill="#764848"/>
<rect x="334" y="808" width="4" height="27" fill="#4a2c2c"/>
<rect x="335" y="808" width="2" height="26" fill="#764848"/>
<rect x="331" y="808" width="4" height="24" fill="#4a2c2c"/>
<rect x="332" y="808" width="2" height="23" fill="#764848"/>
<rect x="328" y="808" width="4" height="27" fill="#4a2c2c"/>
<rect x="329" y="808" width="2" height="26" fill="#764848"/>
<rect x="325" y="808" width="4" height="26" fill="#4a2c2c"/>
<rect x="326" y="808" width="2" height="25" fill="#764848"/>
<rect x="322" y="808" width="4" height="27" fill="#4a2c2c"/>
<rect x="323" y="808" width="2" height="26" fill="#764848"/>
<rect x="319" y="808" width="4" height="26" fill="#4a2c2c"/>
<rect x="320" y="808" width="2" height="25" fill="#764848"/>
<rect x="316" y="808" width="4" height="24" fill="#4a2c2c"/>
<rect x="317" y="808" width="2" height="23" fill="#764848"/>
<rect x="313" y="808" width="4" height="26" fill="#4a2c2c"/>
<rect x="314" y="808" width="2" height="25" fill="#764848"/>
<rect x="310" y="808" width="4" height="27" fill="#4a2c2c"/>
<rect x="311" y="808" width="2" height="26" fill="#764848"/>
<rect x="307" y="808" width="4" height="26" fill="#4a2c2c"/>
<rect x="308" y="808" width="2" height="25" fill="#764848"/>
<rect x="304" y="808" width="4" height="20" fill="#4a2c2c"/>
<rect x="305" y="808" width="2" height="19" fill="#764848"/>
<rect x="301" y="808" width="4" height="15" fill="#4a2c2c"/>
<rect x="302" y="808" width="2" height="14" fill="#764848"/>
<rect x="298" y="808" width="4" height="13" fill="#4a2c2c"/>
<rect x="299" y="808" width="2" height="12" fill="#764848"/>
<rect x="294" y="808" width="4" height="5" fill="#4a2c2c"/>
<rect x="295" y="808" width="2" height="4" fill="#764848"/>
<rect x="291" y="808" width="4" height="3" fill="#4a2c2c"/>
<rect x="292" y="808" width="2" height="2" fill="#764848"/>
<rect x="288" y="808" width="4" height="2" fill="#4a2c2c"/>
<rect x="289" y="808" width="2" height="1" fill="#764848"/>
<rect x="285" y="805" width="4" height="3" fill="#004e30"/>
<rect x="286" y="806" width="2" height="2" fill="#007c4c"/>
<rect x="282" y="801" width="4" height="7" fill="#004e30"/>
<rect x="283" y="802" width="2" height="6" fill="#007c4c"/>
<rect x="279" y="803" width="4" height="5" fill="#004e30"/>
<rect x="280" y="804" width="2" height="4" fill="#007c4c"/>
<rect x="276" y="807" width="4" height="1" fill="#004e30"/>
<rect x="273" y="808" width="4" height="8" fill="#4a2c2c"/>
<rect x="274" y="808" width="2" height="7" fill="#764848"/>
<rect x="270" y="808" width="4" height="10" fill="#4a2c2c"/>
<rect x="271" y="808" width="2" height="9" fill="#764848"/>
<rect x="267" y="808" width="4" height="8" fill="#4a2c2c"/>
<rect x="268" y="808" width="2" height="7" fill="#764848"/>
<rect x="264" y="808" width="4" height="6" fill="#4a2c2c"/>
<rect x="265" y="808" width="2" height="5" fill="#764848"/>
<rect x="261" y="807" width="4" height="1" fill="#004e30"/>
<rect x="258" y="805" width="4" height="3" fill="#004e30"/>
<rect x="259" y="806" width="2" height="2" fill="#007c4c"/>
<rect x="255" y="798" width="4" height="10" fill="#004e30"/>
<rect x="256" y="799" width="2" height="9" fill="#007c4c"/>
<rect x="252" y="791" width="4" height="17" fill="#004e30"/>
<rect x="253" y="792" width="2" height="16" fill="#007c4c"/>
<rect x="249" y="789" width="4" height="19" fill="#004e30"/>
<rect x="250" y="790" width="2" height="18" fill="#007c4c"/>
<rect x="246" y="782" width="4" height="26" fill="#004e30"/>
<rect x="247" y="783" width="2" height="25" fill="#007c4c"/>
<rect x="242" y="779" width="4" height="29" fill="#004e30"/>
<rect x="243" y="780" width="2" height="28" fill="#007c4c"/>
<rect x="239" y="773" width="4" height="35" fill="#004e30"/>
<rect x="240" y="774" width="2" height="34" fill="#007c4c"/>
<rect x="236" y="764" width="4" height="44" fill="#004e30"/>
<rect x="237" y="765" width="2" height="43" fill="#007c4c"/>
<rect x="233" y="759" width="4" height="49" fill="#004e30"/>
<rect x="234" y="760" width="2" height="48" fill="#007c4c"/>
<rect x="230" y="761" width="4" height="47" fill="#004e30"/>
<rect x="231" y="762" width="2" height="46" fill="#007c4c"/>
<rect x="227" y="774" width="4" height="34" fill="#004e30"/>
<rect x="228" y="775" width="2" height="33" fill="#007c4c"/>
<rect x="224" y="772" width="4" height="36" fill="#004e30"/>
<rect x="225" y="773" width="2" height="35" fill="#007c4c"/>
<rect x="221" y="775" width="4" height="33" fill="#004e30"/>
<rect x="222" y="776" width="2" height="32" fill="#007c4c"/>
<rect x="218" y="783" width="4" height="25" fill="#004e30"/>
<rect x="219" y="784" width="2" height="24" fill="#007c4c"/>
<rect x="215" y="788" width="4" height="20" fill="#004e30"/>
<rect x="216" y="789" width="2" height="19" fill="#007c4c"/>
<rect x="212" y="802" width="4" height="6" fill="#004e30"/>
<rect x="213" y="803" width="2" height="5" fill="#007c4c"/>
<rect x="209" y="802" width="4" height="6" fill="#004e30"/>
<rect x="210" y="803" width="2" height="5" fill="#007c4c"/>
<rect x="206" y="807" width="4" height="1" fill="#004e30"/>
<rect x="203" y="807" width="4" height="1" fill="#004e30"/>
<rect x="204" y="808" width="2" height="0" fill="#007c4c"/>
<rect x="200" y="804" width="4" height="4" fill="#004e30"/>
<rect x="201" y="805" width="2" height="3" fill="#007c4c"/>
<rect x="197" y="801" width="4" height="7" fill="#004e30"/>
<rect x="198" y="802" width="2" height="6" fill="#007c4c"/>
<rect x="193" y="806" width="4" height="2" fill="#004e30"/>
<rect x="194" y="807" width="2" height="1" fill="#007c4c"/>
<rect x="190" y="802" width="4" height="6" fill="#004e30"/>
<rect x="191" y="803" width="2" height="5" fill="#007c4c"/>
<rect x="187" y="800" width="4" height="8" fill="#004e30"/>
<rect x="188" y="801" width="2" height="7" fill="#007c4c"/>
<rect x="184" y="803" width="4" height="5" fill="#004e30"/>
<rect x="185" y="804" width="2" height="4" fill="#007c4c"/>
<rect x="181" y="808" width="4" height="4" fill="#4a2c2c"/>
<rect x="182" y="808" width="2" height="3" fill="#764848"/>
<rect x="178" y="808" width="4" height="16" fill="#4a2c2c"/>
<rect x="179" y="808" width="2" height="15" fill="#764848"/>
<rect x="175" y="808" width="4" height="29" fill="#4a2c2c"/>
<rect x="176" y="808" width="2" height="28" fill="#764848"/>
<rect x="172" y="808" width="4" height="26" fill="#4a2c2c"/>
<rect x="173" y="808" width="2" height="25" fill="#764848"/>
<rect x="169" y="808" width="4" height="15" fill="#4a2c2c"/>
<rect x="170" y="808" width="2" height="14" fill="#764848"/>
<rect x="166" y="808" width="4" height="7" fill="#4a2c2c"/>
<rect x="167" y="808" width="2" height="6" fill="#764848"/>
<rect x="163" y="808" width="4" height="10" fill="#4a2c2c"/>
<rect x="164" y="808" width="2" height="9" fill="#764848"/>
<rect x="160" y="808" width="4" height="8" fill="#4a2c2c"/>
<rect x="161" y="808" width="2" height="7" fill="#764848"/>
<rect x="157" y="808" width="4" height="6" fill="#4a2c2c"/>
<rect x="158" y="808" width="2" height="5" fill="#764848"/>
<rect x="154" y="808" width="4" height="4" fill="#4a2c2c"/>
<rect x="155" y="808" width="2" height="3" fill="#764848"/>
<rect x="151" y="808" width="4" height="4" fill="#4a2c2c"/>
<rect x="152" y="808" width="2" height="3" fill="#764848"/>
<rect x="148" y="808" width="4" height="2" fill="#4a2c2c"/>
<rect x="149" y="808" width="2" height="1" fill="#764848"/>
<rect x="145" y="808" width="4" height="9" fill="#4a2c2c"/>
<rect x="146" y="808" width="2" height="8" fill="#764848"/>
<rect x="141" y="808" width="4" height="20" fill="#4a2c2c"/>
<rect x="142" y="808" width="2" height="19" fill="#764848"/>
<rect x="138" y="808" width="4" height="29" fill="#4a2c2c"/>
<rect x="139" y="808" width="2" height="28" fill="#764848"/>
<rect x="135" y="808" width="4" height="38" fill="#4a2c2c"/>
<rect x="136" y="808" width="2" height="37" fill="#764848"/>
<rect x="132" y="808" width="4" height="44" fill="#4a2c2c"/>
<rect x="133" y="808" width="2" height="43" fill="#764848"/>
<rect x="129" y="808" width="4" height="48" fill="#4a2c2c"/>
<rect x="130" y="808" width="2" height="47" fill="#764848"/>
<rect x="126" y="808" width="4" height="42" fill="#4a2c2c"/>
<rect x="127" y="808" width="2" height="41" fill="#764848"/>
<rect x="123" y="808" width="4" height="41" fill="#4a2c2c"/>
<rect x="124" y="808" width="2" height="40" fill="#764848"/>
<rect x="120" y="808" width="4" height="32" fill="#4a2c2c"/>
<rect x="121" y="808" width="2" height="31" fill="#764848"/>
<rect x="117" y="808" width="4" height="30" fill="#4a2c2c"/>
<rect x="118" y="808" width="2" height="29" fill="#764848"/>
<rect x="114" y="808" width="4" height="15" fill="#4a2c2c"/>
<rect x="115" y="808" width="2" height="14" fill="#764848"/>
<rect x="111" y="808" width="4" height="6" fill="#4a2c2c"/>
<rect x="112" y="808" width="2" height="5" fill="#764848"/>
<rect x="108" y="808" width="4" height="6" fill="#4a2c2c"/>
<rect x="109" y="808" width="2" height="5" fill="#764848"/>
<rect x="105" y="808" width="4" height="9" fill="#4a2c2c"/>
<rect x="106" y="808" width="2" height="8" fill="#764848"/>
<rect x="102" y="808" width="4" height="9" fill="#4a2c2c"/>
<rect x="103" y="808" width="2" height="8" fill="#764848"/>
<rect x="99" y="808" width="4" height="17" fill="#4a2c2c"/>
<rect x="100" y="808" width="2" height="16" fill="#764848"/>
<rect x="96" y="808" width="4" height="21" fill="#4a2c2c"/>
<rect x="97" y="808" width="2" height="20" fill="#764848"/>
<rect x="93" y="808" width="4" height="27" fill="#4a2c2c"/>
<rect x="94" y="808" width="2" height="26" fill="#764848"/>
<rect x="89" y="808" width="4" height="28" fill="#4a2c2c"/>
<rect x="90" y="808" width="2" height="27" fill="#764848"/>
<rect x="86" y="808" width="4" height="32" fill="#4a2c2c"/>
<rect x="87" y="808" width="2" height="31" fill="#764848"/>
<rect x="83" y="808" width="4" height="24" fill="#4a2c2c"/>
<rect x="84" y="808" width="2" height="23" fill="#764848"/>
<rect x="80" y="808" width="4" height="9" fill="#4a2c2c"/>
<rect x="81" y="808" width="2" height="8" fill="#764848"/>
<rect x="77" y="808" width="4" height="6" fill="#4a2c2c"/>
<rect x="78" y="808" width="2" height="5" fill="#764848"/>
<rect x="74" y="808" width="4" height="8" fill="#4a2c2c"/>
<rect x="75" y="808" width="2" height="7" fill="#764848"/>
<rect x="71" y="808" width="4" height="9" fill="#4a2c2c"/>
<rect x="72" y="808" width="2" height="8" fill="#764848"/>
<rect x="68" y="808" width="4" height="10" fill="#4a2c2c"/>
<rect x="69" y="808" width="2" height="9" fill="#764848"/>
<rect x="65" y="808" width="4" height="11" fill="#4a2c2c"/>
<rect x="66" y="808" width="2" height="10" fill="#764848"/>
<rect x="62" y="808" width="4" height="19" fill="#4a2c2c"/>
<rect x="63" y="808" width="2" height="18" fill="#764848"/>
<rect x="59" y="808" width="4" height="36" fill="#4a2c2c"/>
<rect x="60" y="808" width="2" height="35" fill="#764848"/>
<rect x="56" y="808" width="4" height="52" fill="#4a2c2c"/>
<rect x="57" y="808" width="2" height="51" fill="#764848"/>
<rect x="53" y="808" width="4" height="63" fill="#4a2c2c"/>
<rect x="54" y="808" width="2" height="62" fill="#764848"/>
<rect x="50" y="808" width="4" height="62" fill="#4a2c2c"/>
<rect x="51" y="808" width="2" height="61" fill="#764848"/>
<rect x="47" y="808" width="4" height="56" fill="#4a2c2c"/>
<rect x="48" y="808" width="2" height="55" fill="#764848"/>
<rect x="44" y="808" width="4" height="59" fill="#4a2c2c"/>
<rect x="45" y="808" width="2" height="58" fill="#764848"/>
<rect x="40" y="808" width="4" height="59" fill="#4a2c2c"/>
<rect x="41" y="808" width="2" height="58" fill="#764848"/>
<rect x="37" y="808" width="4" height="38" fill="#4a2c2c"/>
<rect x="38" y="808" width="2" height="37" fill="#764848"/>
<rect x="34" y="808" width="4" height="31" fill="#4a2c2c"/>
<rect x="35" y="808" width="2" height="30" fill="#764848"/>
<rect x="31" y="808" width="4" height="24" fill="#4a2c2c"/>
<rect x="32" y="808" width="2" height="23" fill="#764848"/>
<rect x="28" y="807" width="4" height="1" fill="#004e30"/>
<rect x="29" y="808" width="2" height="0" fill="#007c4c"/>
<rect x="25" y="793" width="4" height="15" fill="#004e30"/>
<rect x="26" y="794" width="2" height="14" fill="#007c4c"/>
<rect x="22" y="783" width="4" height="25" fill="#004e30"/>
<rect x="23" y="784" width="2" height="24" fill="#007c4c"/>
<rect x="19" y="783" width="4" height="25" fill="#004e30"/>
<rect x="20" y="784" width="2" height="24" fill="#007c4c"/>
<rect x="16" y="780" width="4" height="28" fill="#004e30"/>
<rect x="17" y="781" width="2" height="27" fill="#007c4c"/>
<rect x="16" y="28" width="1131" height="1" fill="#7c7c7c"/>
<rect x="16" y="523" width="1131" height="1" fill="#7c7c7c"/>
<rect x="16" y="28" width="1" height="496" fill="#7c7c7c"/>
<rect x="1146" y="28" width="1" height="496" fill="#7c7c7c"/>
<rect x="16" y="537" width="1131" height="1" fill="#7c7c7c"/>
<rect x="16" y="710" width="1131" height="1" fill="#7c7c7c"/>
<rect x="16" y="537" width="1" height="174" fill="#7c7c7c"/>
<rect x="1146" y="537" width="1" height="174" fill="#7c7c7c"/>
<rect x="16" y="710" width="1131" height="1" fill="#7c7c7c"/>
<rect x="16" y="883" width="1131" height="1" fill="#7c7c7c"/>
<rect x="16" y="710" width="1" height="174" fill="#7c7c7c"/>
<rect x="1146" y="710" width="1" height="174" fill="#7c7c7c"/>
<rect x="17" y="524" width="1" height="1" fill="#7c7c7c"/>
<rect x="17" y="536" width="1" height="1" fill="#7c7c7c"/>
<rect x="17" y="884" width="1" height="1" fill="#7c7c7c"/>
<rect x="20" y="524" width="1" height="1" fill="#7c7c7c"/>
<rect x="20" y="536" width="1" height="1" fill="#7c7c7c"/>
<rect x="20" y="884" width="1" height="1" fill="#7c7c7c"/>
<rect x="23" y="524" width="1" height="1" fill="#7c7c7c"/>
<rect x="23" y="536" width="1" height="1" fill="#7c7c7c"/>
<rect x="23" y="884" width="1" height="1" fill="#7c7c7c"/>
<rect x="26" y="524" width="1" height="1" fill="#7c7c7c"/>
<rect x="26" y="536" width="1" height="1" fill="#7c7c7c"/>
<rect x="26" y="884" width="1" height="1" fill="#7c7c7c"/>
<rect x="29" y="524" width="1" height="1" fill="#7c7c7c"/>
<rect x="29" y="536" width="1" height="1" fill="#7c7c7c"/>
<rect x="29" y="884" width="1" height="1" fill="#7c7c7c"/>
<rect x="32" y="524" width="1" height="1" fill="#7c7c7c"/>
<rect x="32" y="536" width="1" height="1" fill="#7c7c7c"/>
<rect x="32" y="884" width="1" height="1" fill="#7c7c7c"/>
<rect x="35" y="524" width="1" height="1" fill="#7c7c7c"/>
<rect x="35" y="536" width="1" height="1" fill="#7c7c7c"/>
<rect x="35" y="884" width="1" height="1" fill="#7c7c7c"/>
<rect x="38" y="524" width="1" height="1" fill="#7c7c7c"/>
<rect x="38" y="536" width="1" height="1" fill="#7c7c7c"/>
<rect x="38" y="884" width="1" height="1" fill="#7c7c7c"/>
<rect x="41" y="524" width="1" height="1" fill="#7c7c7c"/>
<rect x="41" y="536" width="1" height="1" fill="#7c7c7c"/>
<rect x="41" y="884" width="1" height="1" fill="#7c7c7c"/>
<rect x="45" y="524" width="1" height="1" fill="#7c7c7c"/>
<rect x="45" y="536" width="1" height="1" fill="#7c7c7c"/>
<rect x="45" y="884" width="1" height="1" fill="#7c7c7c"/>
<rect x="48" y="524" width="1" height="1" fill="#7c7c7c"/>
<rect x="48" y="536" width="1" height="1" fill="#7c7c7c"/>
<rect x="48" y="884" width="1" height="1" fill="#7c7c7c"/>
<rect x="51" y="524" width="1" height="1" fill="#7c7c7c"/>
<rect x="51" y="536" width="1" height="1" fill="#7c7c7c"/>
<rect x="51" y="884" width="1" height="1" fill="#7c7c7c"/>
<rect x="54" y="524" width="1" height="1" fill="#7c7c7c"/>
<rect x="54" y="536" width="1" height="1" fill="#7c7c7c"/>
<rect x="54" y="884" width="1" height="1" fill="#7c7c7c"/>
<rect x="57" y="524" width="1" height="1" fill="#7c7c7c"/>
<rect x="57" y="536" width="1" height="1" fill="#7c7c7c"/>
<rect x="57" y="884" width="1" height="1" fill="#7c7c7c"/>
<rect x="60" y="524" width="1" height="1" fill="#7c7c7c"/>
<rect x="60" y="536" width="1" height="1" fill="#7c7c7c"/>
<rect x="60" y="884" width="1" height="1" fill="#7c7c7c"/>
<rect x="63" y="524" width="1" height="1" fill="#7c7c7c"/>
<rect x="63" y="536" width="1" height="1" fill="#7c7c7c"/>
<rect x="63" y="884" width="1" height="1" fill="#7c7c7c"/>
<rect x="66" y="524" width="1" height="1" fill="#7c7c7c"/>
<rect x="66" y="536" width="1" height="1" fill="#7c7c7c"/>
<rect x="66" y="884" width="1" height="1" fill="#7c7c7c"/>
<rect x="69" y="524" width="1" height="1" fill="#7c7c7c"/>
<rect x="69" y="536" width="1" height="1" fill="#7c7c7c"/>
<rect x="69" y="884" width="1" height="1" fill="#7c7c7c"/>
<rect x="72" y="524" width="1" height="1" fill="#7c7c7c"/>
<rect x="72" y="536" width="1" height="1" fill="#7c7c7c"/>
<rect x="72" y="884" width="1" height="1" fill="#7c7c7c"/>
<rect x="75" y="524" width="1" height="1" fill="#7c7c7c"/>
<rect x="75" y="536" width="1" height="1" fill="#7c7c7c"/>
<rect x="75" y="884" width="1" height="1" fill="#7c7c7c"/>
<rect x="78" y="524" width="1" height="1" fill="#7c7c7c"/>
<rect x="78" y="536" width="1" height="1" fill="#7c7c7c"/>
<rect x="78" y="884" width="1" height="1" fill="#7c7c7c"/>
<rect x="81" y="524" width="1" height="1" fill="#7c7c7c"/>
<rect x="81" y="536" width="1" height="1" fill="#7c7c7c"/>
<rect x="81" y="884" width="1" height="1" fill="#7c7c7c"/>
<rect x="84" y="524" width="1" height="1" fill="#7c7c7c"/>
<rect x="84" y="536" width="1" height="1" fill="#7c7c7c"/>
<rect x="84" y="884" width="1" height="1" fill="#7c7c7c"/>
<rect x="87" y="524" width="1" height="1" fill="#7c7c7c"/>
<rect x="87" y="536" width="1" height="1" fill="#7c7c7c"/>
<rect x="87" y="884" width="1" height="1" fill="#7c7c7c"/>
<rect x="90" y="524" width="1" height="1" fill="#7c7c7c"/>
<rect x="90" y="536" width="1" height="1" fill="#7c7c7c"/>
<rect x="90" y="884" width="1" height="1" fill="#7c7c7c"/>
<rect x="94" y="524" width="1" height="1" fill="#7c7c7c"/>
<rect x="94" y="536" width="1" height="1" fill="#7c7c7c"/>
<rect x="94" y="884" width="1" height="1" fill="#7c7c7c"/>
<rect x="97" y="524" width="1" height="1" fill="#7c7c7c"/>
<rect x="97" y="536" width="1" height="1" fill="#7c7c7c"/>
<rect x="97" y="884" width="1" height="1" fill="#7c7c7c"/>
<rect x="100" y="524" width="1" height="1" fill="#7c7c7c"/>
<rect x="100" y="536" width="1" height="1" fill="#7c7c7c"/>
<rect x="100" y="884" width="1" height="1" fill="#7c7c7c"/>
<rect x="103" y="524" width="1" height="1" fill="#7c7c7c"/>
<rect x="103" y="536" width="1" height="1" fill="#7c7c7c"/>
<rect x="103" y="884" width="1" height="1" fill="#7c7c7c"/>
<rect x="106" y="524" width="1" height="1" fill="#7c7c7c"/>
<rect x="106" y="536" width="1" height="1" fill="#7c7c7c"/>
<rect x="106" y="884" width="1" height="1" fill="#7c7c7c"/>
<rect x="109" y="524" width="1" height="1" fill="#7c7c7c"/>
<rect x="109" y="536" width="1" height="1" fill="#7c7c7c"/>
<rect x="109" y="884" width="1" height="1" fill="#7c7c7c"/>
<rect x="112" y="524" width="1" height="1" fill="#7c7c7c"/>
<rect x="112" y="536" width="1" height="1" fill="#7c7c7c"/>
<rect x="112" y="884" width="1" height="1" fill="#7c7c7c"/>
<rect x="115" y="524" width="1" height="1" fill="#7c7c7c"/>
<rect x="115" y="536" width="1" height="1" fill="#7c7c7c"/>
<rect x="115" y="884" width="1" height="1" fill="#7c7c7c"/>
<rect x="118" y="524" width="1" height="1" fill="#7c7c7c"/>
<rect x="118" y="536" width="1" height="1" fill="#7c7c7c"/>
<rect x="118" y="884" width="1" height="1" fill="#7c7c7c"/>
<rect x="121" y="524" width="1" height="1" fill="#7c7c7c"/>
<rect x="121" y="536" width="1" height="1" fill="#7c7c7c"/>
<rect x="121" y="884" width="1" height="1" fill="#7c7c7c"/>
<rect x="124" y="524" width="1" height="1" fill="#7c7c7c"/>
<rect x="124" y="536" width="1" height="1" fill="#7c7c7c"/>
<rect x="124" y="884" width="1" height="1" fill="#7c7c7c"/>
<rect x="127" y="524" width="1" height="1" fill="#7c7c7c"/>
<rect x="127" y="536" width="1" height="1" fill="#7c7c7c"/>
<rect x="127" y="884" width="1" height="1" fill="#7c7c7c"/>
<rect x="130" y="524" width="1" height="1" fill="#7c7c7c"/>
<rect x="130" y="536" width="1" height="1" fill="#7c7c7c"/>
<rect x="130" y="884" width="1" height="1" fill="#7c7c7c"/>
<rect x="133" y="524" width="1" height="1" fill="#7c7c7c"/>
<rect x="133" y="536" width="1" height="1" fill="#7c7c7c"/>
<rect x="133" y="884" width="1" height="1" fill="#7c7c7c"/>
<rect x="136" y="524" width="1" height="1" fill="#7c7c7c"/>
<rect x="136" y="536" width="1" height="1" fill="#7c7c7c"/>
<rect x="136" y="884" width="1" height="1" fill="#7c7c7c"/>
<rect x="139" y="524" width="1" height="1" fill="#7c7c7c"/>
<rect x="139" y="536" width="1" height="1" fill="#7c7c7c"/>
<rect x="139" y="884" width="1" height="1" fill="#7c7c7c"/>
<rect x="142" y="524" width="1" height="1" fill="#7c7c7c"/>
<rect x="142" y="536" width="1" height="1" fill="#7c7c7c"/>
<rect x="142" y="884" width="1" height="1" fill="#7c7c7c"/>
<rect x="146" y="524" width="1" height="1" fill="#7c7c7c"/>
<rect x="146" y="536" width="1" height="1" fill="#7c7c7c"/>
<rect x="146" y="884" width="1" height="1" fill="#7c7c7c"/>
<rect x="149" y="524" width="1" height="1" fill="#7c7c7c"/>
<rect x="149" y="536" width="1" height="1" fill="#7c7c7c"/>
<rect x="149" y="884" width="1" height="1" fill="#7c7c7c"/>
<rect x="152" y="524" width="1" height="1" fill="#7c7c7c"/>
<rect x="152" y="536" width="1" height="1" fill="#7c7c7c"/>
<rect x="152" y="884" width="1" height="1" fill="#7c7c7c"/>
<rect x="155" y="524" width="1" height="1" fill="#7c7c7c"/>
<rect x="155" y="536" width="1" height="1" fill="#7c7c7c"/>
<rect x="155" y="884" width="1" height="1" fill="#7c7c7c"/>
<rect x="158" y="524" width="1" height="1" fill="#7c7c7c"/>
<rect x="158" y="536" width="1" height="1" fill="#7c7c7c"/>
<rect x="158" y="884" width="1" height="1" fill="#7c7c7c"/>
<rect x="161" y="524" width="1" height="1" fill="#7c7c7c"/>
<rect x="161" y="536" width="1" height="1" fill="#7c7c7c"/>
<rect x="161" y="884" width="1" height="1" fill="#7c7c7c"/>
<rect x="164" y="524" width="1" height="1" fill="#7c7c7c"/>
<rect x="164" y="536" width="1" height="1" fill="#7c7c7c"/>
<rect x="164" y="884" width="1" height="1" fill="#7c7c7c"/>
<rect x="167" y="524" width="1" height="1" fill="#7c7c7c"/>
<rect x="167" y="536" width="1" height="1" fill="#7c7c7c"/>
<rect x="167" y="884" width="1" height="1" fill="#7c7c7c"/>
<rect x="170" y="524" width="1" height="1" fill="#7c7c7c"/>
<rect x="170" y="536" width="1" height="1" fill="#7c7c7c"/>
<rect x="170" y="884" width="1" height="1" fill="#7c7c7c"/>
<rect x="173" y="524" width="1" height="1" fill="#7c7c7c"/>
<rect x="173" y="536" width="1" height="1" fill="#7c7c7c"/>
<rect x="173" y="884" width="1" height="1" fill="#7c7c7c"/>
<rect x="176" y="524" width="1" height="1" fill="#7c7c7c"/>
<rect x="176" y="536" width="1" height="1" fill="#7c7c7c"/>
<rect x="176" y="884" width="1" height="1" fill="#7c7c7c"/>
<rect x="179" y="524" width="1" height="1" fill="#7c7c7c"/>
<rect x="179" y="536" width="1" height="1" fill="#7c7c7c"/>
<rect x="179" y="884" width="1" height="1" fill="#7c7c7c"/>
<rect x="182" y="524" width="1" height="1" fill="#7c7c7c"/>
<rect x="182" y="536" width="1" height="1" fill="#7c7c7c"/>
<rect x="182" y="884" width="1" height="1" fill="#7c7c7c"/>
<rect x="185" y="524" width="1" height="1" fill="#7c7c7c"/>
<rect x="185" y="536" width="1" height="1" fill="#7c7c7c"/>
<rect x="185" y="884" width="1" height="1" fill="#7c7c7c"/>
<rect x="188" y="524" width="1" height="1" fill="#7c7c7c"/>
<rect x="188" y="536" width="1" height="1" fill="#7c7c7c"/>
<rect x="188" y="884" width="1" height="1" fill="#7c7c7c"/>
<rect x="191" y="524" width="1" height="1" fill="#7c7c7c"/>
<rect x="191" y="536" width="1" height="1" fill="#7c7c7c"/>
<rect x="191" y="884" width="1" height="1" fill="#7c7c7c"/>
<rect x="194" y="524" width="1" height="1" fill="#7c7c7c"/>
<rect x="194" y="536" width="1" height="1" fill="#7c7c7c"/>
<rect x="194" y="884" width="1" height="1" fill="#7c7c7c"/>
<rect x="198" y="524" width="1" height="1" fill="#7c7c7c"/>
<rect x="198" y="536" width="1" height="1" fill="#7c7c7c"/>
<rect x="198" y="884" width="1" height="1" fill="#7c7c7c"/>
<rect x="201" y="524" width="1" height="1" fill="#7c7c7c"/>
<rect x="201" y="536" width="1" height="1" fill="#7c7c7c"/>
<rect x="201" y="884" width="1" height="1" fill="#7c7c7c"/>
<rect x="204" y="524" width="1" height="1" fill="#7c7c7c"/>
<rect x="204" y="536" width="1" height="1" fill="#7c7c7c"/>
<rect x="204" y="884" width="1" height="1" fill="#7c7c7c"/>
<rect x="207" y="524" width="1" height="1" fill="#7c7c7c"/>
<rect x="207" y="536" width="1" height="1" fill="#7c7c7c"/>
<rect x="207" y="884" width="1" height="1" fill="#7c7c7c"/>
<rect x="210" y="524" width="1" height="1" fill="#7c7c7c"/>
<rect x="210" y="536" width="1" height="1" fill="#7c7c7c"/>
<rect x="210" y="884" width="1" height="1" fill="#7c7c7c"/>
<rect x="213" y="524" width="1" height="1" fill="#7c7c7c"/>
<rect x="213" y="536" width="1" height="1" fill="#7c7c7c"/>
<rect x="213" y="884" width="1" height="1" fill="#7c7c7c"/>
<rect x="216" y="524" width="1" height="1" fill="#7c7c7c"/>
<rect x="216" y="536" width="1" height="1" fill="#7c7c7c"/>
<rect x="216" y="884" width="1" height="1" fill="#7c7c7c"/>
<rect x="219" y="524" width="1" height="1" fill="#7c7c7c"/>
<rect x="219" y="536" width="1" height="1" fill="#7c7c7c"/>
<rect x="219" y="884" width="1" height="1" fill="#7c7c7c"/>
<rect x="222" y="524" width="1" height="1" fill="#7c7c7c"/>
<rect x="222" y="536" width="1" height="1" fill="#7c7c7c"/>
<rect x="222" y="884" width="1" height="1" fill="#7c7c7c"/>
<rect x="225" y="524" width="1" height="1" fill="#7c7c7c"/>
<rect x="225" y="536" width="1" height="1" fill="#7c7c7c"/>
<rect x="225" y="884" width="1" height="1" fill="#7c7c7c"/>
<rect x="228" y="524" width="1" height="1" fill="#7c7c7c"/>
<rect x="228" y="536" width="1" height="1" fill="#7c7c7c"/>
<rect x="228" y="884" width="1" height="1" fill="#7c7c7c"/>
<rect x="231" y="524" width="1" height="1" fill="#7c7c7c"/>
<rect x="231" y="536" width="1" height="1" fill="#7c7c7c"/>
<rect x="231" y="884" width="1" height="1" fill="#7c7c7c"/>
<rect x="234" y="524" width="1" height="1" fill="#7c7c7c"/>
<rect x="234" y="536" width="1" height="1" fill="#7c7c7c"/>
<rect x="234" y="884" width="1" height="1" fill="#7c7c7c"/>
<rect x="237" y="524" width="1" height="1" fill="#7c7c7c"/>
<rect x="237" y="536" width="1" height="1" fill="#7c7c7c"/>
<rect x="237" y="884" width="1" height="1" fill="#7c7c7c"/>
<rect x="240" y="524" width="1" height="1" fill="#7c7c7c"/>
<rect x="240" y="536" width="1" height="1" fill="#7c7c7c"/>
<rect x="240" y="884" width="1" height="1" fill="#7c7c7c"/>
<rect x="243" y="524" width="1" height="1" fill="#7c7c7c"/>
<rect x="243" y="536" width="1" height="1" fill="#7c7c7c"/>
<rect x="243" y="884" width="1" height="1" fill="#7c7c7c"/>
<rect x="247" y="524" width="1" height="1" fill="#7c7c7c"/>
<rect x="247" y="536" width="1" height="1" fill="#7c7c7c"/>
<rect x="247" y="884" width="1" height="1" fill="#7c7c7c"/>
<rect x="250" y="524" width="1" height="1" fill="#7c7c7c"/>
<rect x="250" y="536" width="1" height="1" fill="#7c7c7c"/>
<rect x="250" y="884" width="1" height="1" fill="#7c7c7c"/>
<rect x="253" y="524" width="1" height="1" fill="#7c7c7c"/>
<rect x="253" y="536" width="1" height="1" fill="#7c7c7c"/>
<rect x="253" y="884" width="1" height="1" fill="#7c7c7c"/>
<rect x="256" y="524" width="1" height="1" fill="#7c7c7c"/>
<rect x="256" y="536" width="1" height="1" fill="#7c7c7c"/>
<rect x="256" y="884" width="1" height="1" fill="#7c7c7c"/>
<rect x="259" y="524" width="1" height="1" fill="#7c7c7c"/>
<rect x="259" y="536" width="1" height="1" fill="#7c7c7c"/>
<rect x="259" y="884" width="1" height="1" fill="#7c7c7c"/>
<rect x="262" y="524" width="1" height="1" fill="#7c7c7c"/>
<rect x="262" y="536" width="1" height="1" fill="#7c7c7c"/>
<rect x="262" y="884" width="1" height="1" fill="#7c7c7c"/>
<rect x="265" y="524" width="1" height="1" fill="#7c7c7c"/>
<rect x="265" y="536" width="1" height="1" fill="#7c7c7c"/>
<rect x="265" y="884" width="1" height="1" fill="#7c7c7c"/>
<rect x="268" y="524" width="1" height="1" fill="#7c7c7c"/>
<rect x="268" y="536" width="1" height="1" fill="#7c7c7c"/>
<rect x="268" y="884" width="1" height="1" fill="#7c7c7c"/>
<rect x="271" y="524" width="1" height="1" fill="#7c7c7c"/>
<rect x="271" y="536" width="1" height="1" fill="#7c7c7c"/>
<rect x="271" y="884" width="1" height="1" fill="#7c7c7c"/>
<rect x="274" y="524" width="1" height="1" fill="#7c7c7c"/>
<rect x="274" y="536" width="1" height="1" fill="#7c7c7c"/>
<rect x="274" y="884" width="1" height="1" fill="#7c7c7c"/>
<rect x="277" y="524" width="1" height="1" fill="#7c7c7c"/>
<rect x="277" y="536" width="1" height="1" fill="#7c7c7c"/>
<rect x="277" y="884" width="1" height="1" fill="#7c7c7c"/>
<rect x="280" y="524" width="1" height="1" fill="#7c7c7c"/>
<rect x="280" y="536" width="1" height="1" fill="#7c7c7c"/>
<rect x="280" y="884" width="1" height="1" fill="#7c7c7c"/>
<rect x="283" y="524" width="1" height="1" fill="#7c7c7c"/>
<rect x="283" y="536" width="1" height="1" fill="#7c7c7c"/>
<rect x="283" y="884" width="1" height="1" fill="#7c7c7c"/>
<rect x="286" y="524" width="1" height="1" fill="#7c7c7c"/>
<rect x="286" y="536" width="1" height="1" fill="#7c7c7c"/>
<rect x="286" y="884" width="1" height="1" fill="#7c7c7c"/>
<rect x="289" y="524" width="1" height="1" fill="#7c7c7c"/>
<rect x="289" y="536" width="1" height="1" fill="#7c7c7c"/>
<rect x="289" y="884" width="1" height="1" fill="#7c7c7c"/>
<rect x="292" y="524" width="1" height="1" fill="#7c7c7c"/>
<rect x="292" y="536" width="1" height="1" fill="#7c7c7c"/>
<rect x="292" y="884" width="1" height="1" fill="#7c7c7c"/>
<rect x="295" y="524" width="1" height="1" fill="#7c7c7c"/>
<rect x="295" y="536" width="1" height="1" fill="#7c7c7c"/>
<rect x="295" y="884" width="1" height="1" fill="#7c7c7c"/>
<rect x="299" y="524" width="1" height="1" fill="#7c7c7c"/>
<rect x="299" y="536" width="1" height="1" fill="#7c7c7c"/>
<rect x="299" y="884" width="1" height="1" fill="#7c7c7c"/>
<rect x="302" y="524" width="1" height="1" fill="#7c7c7c"/>
<rect x="302" y="536" width="1" height="1" fill="#7c7c7c"/>
<rect x="302" y="884" width="1" height="1" fill="#7c7c7c"/>
<rect x="305" y="524" width="1" height="1" fill="#7c7c7c"/>
<rect x="305" y="536" width="1" height="1" fill="#7c7c7c"/>
<rect x="305" y="884" width="1" height="1" fill="#7c7c7c"/>
<rect x="308" y="524" width="1" height="1" fill="#7c7c7c"/>
<rect x="308" y="536" width="1" height="1" fill="#7c7c7c"/>
<rect x="308" y="884" width="1" height="1" fill="#7c7c7c"/>
<rect x="311" y="524" width="1" height="1" fill="#7c7c7c"/>
<rect x="311" y="536" width="1" height="1" fill="#7c7c7c"/>
<rect x="311" y="884" width="1" height="1" fill="#7c7c7c"/>
<rect x="314" y="524" width="1" height="1" fill="#7c7c7c"/>
<rect x="314" y="536" width="1" height="1" fill="#7c7c7c"/>
<rect x="314" y="884" width="1" height="1" fill="#7c7c7c"/>
<rect x="317" y="524" width="1" height="1" fill="#7c7c7c"/>
<rect x="317" y="536" width="1" height="1" fill="#7c7c7c"/>
<rect x="317" y="884" width="1" height="1" fill="#7c7c7c"/>
<rect x="320" y="524" width="1" height="1" fill="#7c7c7c"/>
<rect x="320" y="536" width="1" height="1" fill="#7c7c7c"/>
<rect x="320" y="884" width="1" height="1" fill="#7c7c7c"/>
<rect x="323" y="524" width="1" height="1" fill="#7c7c7c"/>
<rect x="323" y="536" width="1" height="1" fill="#7c7c7c"/>
<rect x="323" y="884" width="1" height="1" fill="#7c7c7c"/>
<rect x="326" y="524" width="1" height="1" fill="#7c7c7c"/>
<rect x="326" y="536" width="1" height="1" fill="#7c7c7c"/>
<rect x="326" y="884" width="1" height="1" fill="#7c7c7c"/>
<rect x="329" y="524" width="1" height="1" fill="#7c7c7c"/>
<rect x="329" y="536" width="1" height="1" fill="#7c7c7c"/>
<rect x="329" y="884" width="1" height="1" fill="#7c7c7c"/>
<rect x="332" y="524" width="1" height="1" fill="#7c7c7c"/>
<rect x="332" y="536" width="1" height="1" fill="#7c7c7c"/>
<rect x="332" y="884" width="1" height="1" fill="#7c7c7c"/>
<rect x="335" y="524" width="1" height="1" fill="#7c7c7c"/>
<rect x="335" y="536" width="1" height="1" fill="#7c7c7c"/>
<rect x="335" y="884" width="1" height="1" fill="#7c7c7c"/>
<rect x="338" y="524" width="1" height="1" fill="#7c7c7c"/>
<rect x="338" y="536" width="1" height="1" fill="#7c7c7c"/>
<rect x="338" y="884" width="1" height="1" fill="#7c7c7c"/>
<rect x="341" y="524" width="1" height="1" fill="#7c7c7c"/>
<rect x="341" y="536" width="1" height="1" fill="#7c7c7c"/>
<rect x="341" y="884" width="1" height="1" fill="#7c7c7c"/>
<rect x="344" y="524" width="1" height="1" fill="#7c7c7c"/>
<rect x="344" y="536" width="1" height="1" fill="#7c7c7c"/>
<rect x="344" y="884" width="1" height="1" fill="#7c7c7c"/>
<rect x="347" y="524" width="1" height="1" fill="#7c7c7c"/>
<rect x="347" y="536" width="1" height="1" fill="#7c7c7c"/>
<rect x="347" y="884" width="1" height="1" fill="#7c7c7c"/>
<rect x="351" y="524" width="1" height="1" fill="#7c7c7c"/>
<rect x="351" y="536" width="1" height="1" fill="#7c7c7c"/>
<rect x="351" y="884" width="1" height="1" fill="#7c7c7c"/>
<rect x="354" y="524" width="1" height="1" fill="#7c7c7c"/>
<rect x="354" y="536" width="1" height="1" fill="#7c7c7c"/>
<rect x="354" y="884" width="1" height="1" fill="#7c7c7c"/>
<rect x="357" y="524" width="1" height="1" fill="#7c7c7c"/>
<rect x="357" y="536" width="1" height="1" fill="#7c7c7c"/>
<rect x="357" y="884" width="1" height="1" fill="#7c7c7c"/>
<rect x="360" y="524" width="1" height="1" fill="#7c7c7c"/>
<rect x="360" y="536" width="1" height="1" fill="#7c7c7c"/>
<rect x="360" y="884" width="1" height="1" fill="#7c7c7c"/>
<rect x="363" y="524" width="1" height="1" fill="#7c7c7c"/>
<rect x="363" y="536" width="1" height="1" fill="#7c7c7c"/>
<rect x="363" y="884" width="1" height="1" fill="#7c7c7c"/>
<rect x="366" y="524" width="1" height="1" fill="#7c7c7c"/>
<rect x="366" y="536" width="1" height="1" fill="#7c7c7c"/>
<rect x="366" y="884" width="1" height="1" fill="#7c7c7c"/>
<rect x="369" y="524" width="1" height="1" fill="#7c7c7c"/>
<rect x="369" y="536" width="1" height="1" fill="#7c7c7c"/>
<rect x="369" y="884" width="1" height="1" fill="#7c7c7c"/>
<rect x="372" y="524" width="1" height="1" fill="#7c7c7c"/>
<rect x="372" y="536" width="1" height="1" fill="#7c7c7c"/>
<rect x="372" y="884" width="1" height="1" fill="#7c7c7c"/>
<rect x="375" y="524" width="1" height="1" fill="#7c7c7c"/>
<rect x="375" y="536" width="1" height="1" fill="#7c7c7c"/>
<rect x="375" y="884" width="1" height="1" fill="#7c7c7c"/>
<rect x="378" y="524" width="1" height="1" fill="#7c7c7c"/>
<rect x="378" y="536" width="1" height="1" fill="#7c7c7c"/>
<rect x="378" y="884" width="1" height="1" fill="#7c7c7c"/>
<rect x="381" y="524" width="1" height="1" fill="#7c7c7c"/>
<rect x="381" y="536" width="1" height="1" fill="#7c7c7c"/>
<rect x="381" y="884" width="1" height="1" fill="#7c7c7c"/>
<rect x="384" y="524" width="1" height="1" fill="#7c7c7c"/>
<rect x="384" y="536" width="1" height="1" fill="#7c7c7c"/>
<rect x="384" y="884" width="1" height="1" fill="#7c7c7c"/>
<rect x="387" y="524" width="1" height="1" fill="#7c7c7c"/>
<rect x="387" y="536" width="1" height="1" fill="#7c7c7c"/>
<rect x="387" y="884" width="1" height="1" fill="#7c7c7c"/>
<rect x="390" y="524" width="1" height="1" fill="#7c7c7c"/>
<rect x="390" y="536" width="1" height="1" fill="#7c7c7c"/>
<rect x="390" y="884" width="1" height="1" fill="#7c7c7c"/>
<rect x="393" y="524" width="1" height="1" fill="#7c7c7c"/>
<rect x="393" y="536" width="1" height="1" fill="#7c7c7c"/>
<rect x="393" y="884" width="1" height="1" fill="#7c7c7c"/>
<rect x="396" y="524" width="1" height="1" fill="#7c7c7c"/>
<rect x="396" y="536" width="1" height="1" fill="#7c7c7c"/>
<rect x="396" y="884" width="1" height="1" fill="#7c7c7c"/>
<rect x="400" y="524" width="1" height="1" fill="#7c7c7c"/>
<rect x="400" y="536" width="1" height="1" fill="#7c7c7c"/>
<rect x="400" y="884" width="1" height="1" fill="#7c7c7c"/>
<rect x="403" y="524" width="1" height="1" fill="#7c7c7c"/>
<rect x="403" y="536" width="1" height="1" fill="#7c7c7c"/>
<rect x="403" y="884" width="1" height="1" fill="#7c7c7c"/>
<rect x="406" y="524" width="1" height="1" fill="#7c7c7c"/>
<rect x="406" y="536" width="1" height="1" fill="#7c7c7c"/>
<rect x="406" y="884" width="1" height="1" fill="#7c7c7c"/>
<rect x="409" y="524" width="1" height="1" fill="#7c7c7c"/>
<rect x="409" y="536" width="1" height="1" fill="#7c7c7c"/>
<rect x="409" y="884" width="1" height="1" fill="#7c7c7c"/>
<rect x="412" y="524" width="1" height="1" fill="#7c7c7c"/>
<rect x="412" y="536" width="1" height="1" fill="#7c7c7c"/>
<rect x="412" y="884" width="1" height="1" fill="#7c7c7c"/>
<rect x="415" y="524" width="1" height="1" fill="#7c7c7c"/>
<rect x="415" y="536" width="1" height="1" fill="#7c7c7c"/>
<rect x="415" y="884" width="1" height="1" fill="#7c7c7c"/>
<rect x="418" y="524" width="1" height="1" fill="#7c7c7c"/>
<rect x="418" y="536" width="1" height="1" fill="#7c7c7c"/>
<rect x="418" y="884" width="1" height="1" fill="#7c7c7c"/>
<rect x="421" y="524" width="1" height="1" fill="#7c7c7c"/>
<rect x="421" y="536" width="1" height="1" fill="#7c7c7c"/>
<rect x="421" y="884" width="1" height="1" fill="#7c7c7c"/>
<rect x="424" y="524" width="1" height="1" fill="#7c7c7c"/>
<rect x="424" y="536" width="1" height="1" fill="#7c7c7c"/>
<rect x="424" y="884" width="1" height="1" fill="#7c7c7c"/>
<rect x="427" y="524" width="1" height="1" fill="#7c7c7c"/>
<rect x="427" y="536" width="1" height="1" fill="#7c7c7c"/>
<rect x="427" y="884" width="1" height="1" fill="#7c7c7c"/>
<rect x="430" y="524" width="1" height="1" fill="#7c7c7c"/>
<rect x="430" y="536" width="1" height="1" fill="#7c7c7c"/>
<rect x="430" y="884" width="1" height="1" fill="#7c7c7c"/>
<rect x="433" y="524" width="1" height="1" fill="#7c7c7c"/>
<rect x="433" y="536" width="1" height="1" fill="#7c7c7c"/>
<rect x="433" y="884" width="1" height="1" fill="#7c7c7c"/>
<rect x="436" y="524" width="1" height="1" fill="#7c7c7c"/>
<rect x="436" y="536" width="1" height="1" fill="#7c7c7c"/>
<rect x="436" y="884" width="1" height="1" fill="#7c7c7c"/>
<rect x="439" y="524" width="1" height="1" fill="#7c7c7c"/>
<rect x="439" y="536" width="1" height="1" fill="#7c7c7c"/>
<rect x="439" y="884" width="1" height="1" fill="#7c7c7c"/>
<rect x="442" y="524" width="1" height="1" fill="#7c7c7c"/>
<rect x="442" y="536" width="1" height="1" fill="#7c7c7c"/>
<rect x="442" y="884" width="1" height="1" fill="#7c7c7c"/>
<rect x="445" y="524" width="1" height="1" fill="#7c7c7c"/>
<rect x="445" y="536" width="1" height="1" fill="#7c7c7c"/>
<rect x="445" y="884" width="1" height="1" fill="#7c7c7c"/>
<rect x="448" y="524" width="1" height="1" fill="#7c7c7c"/>
<rect x="448" y="536" width="1" height="1" fill="#7c7c7c"/>
<rect x="448" y="884" width="1" height="1" fill="#7c7c7c"/>
<rect x="452" y="524" width="1" height="1" fill="#7c7c7c"/>
<rect x="452" y="536" width="1" height="1" fill="#7c7c7c"/>
<rect x="452" y="884" width="1" height="1" fill="#7c7c7c"/>
<rect x="455" y="524" width="1" height="1" fill="#7c7c7c"/>
<rect x="455" y="536" width="1" height="1" fill="#7c7c7c"/>
<rect x="455" y="884" width="1" height="1" fill="#7c7c7c"/>
<rect x="458" y="524" width="1" height="1" fill="#7c7c7c"/>
<rect x="458" y="536" width="1" height="1" fill="#7c7c7c"/>
<rect x="458" y="884" width="1" height="1" fill="#7c7c7c"/>
<rect x="461" y="524" width="1" height="1" fill="#7c7c7c"/>
<rect x="461" y="536" width="1" height="1" fill="#7c7c7c"/>
<rect x="461" y="884" width="1" height="1" fill="#7c7c7c"/>
<rect x="464" y="524" width="1" height="1" fill="#7c7c7c"/>
<rect x="464" y="536" width="1" height="1" fill="#7c7c7c"/>
<rect x="464" y="884" width="1" height="1" fill="#7c7c7c"/>
<rect x="467" y="524" width="1" height="1" fill="#7c7c7c"/>
<rect x="467" y="536" width="1" height="1" fill="#7c7c7c"/>
<rect x="467" y="884" width="1" height="1" fill="#7c7c7c"/>
<rect x="470" y="524" width="1" height="1" fill="#7c7c7c"/>
<rect x="470" y="536" width="1" height="1" fill="#7c7c7c"/>
<rect x="470" y="884" width="1" height="1" fill="#7c7c7c"/>
<rect x="473" y="524" width="1" height="1" fill="#7c7c7c"/>
<rect x="473" y="536" width="1" height="1" fill="#7c7c7c"/>
<rect x="473" y="884" width="1" height="1" fill="#7c7c7c"/>
<rect x="476" y="524" width="1" height="1" fill="#7c7c7c"/>
<rect x="476" y="536" width="1" height="1" fill="#7c7c7c"/>
<rect x="476" y="884" width="1" height="1" fill="#7c7c7c"/>
<rect x="479" y="524" width="1" height="1" fill="#7c7c7c"/>
<rect x="479" y="536" width="1" height="1" fill="#7c7c7c"/>
<rect x="479" y="884" width="1" height="1" fill="#7c7c7c"/>
<rect x="482" y="524" width="1" height="1" fill="#7c7c7c"/>
<rect x="482" y="536" width="1" height="1" fill="#7c7c7c"/>
<rect x="482" y="884" width="1" height="1" fill="#7c7c7c"/>
<rect x="485" y="524" width="1" height="1" fill="#7c7c7c"/>
<rect x="485" y="536" width="1" height="1" fill="#7c7c7c"/>
<rect x="485" y="884" width="1" height="1" fill="#7c7c7c"/>
<rect x="488" y="524" width="1" height="1" fill="#7c7c7c"/>
<rect x="488" y="536" width="1" height="1" fill="#7c7c7c"/>
<rect x="488" y="884" width="1" height="1" fill="#7c7c7c"/>
<rect x="491" y="524" width="1" height="1" fill="#7c7c7c"/>
<rect x="491" y="536" width="1" height="1" fill="#7c7c7c"/>
<rect x="491" y="884" width="1" height="1" fill="#7c7c7c"/>
<rect x="494" y="524" width="1" height="1" fill="#7c7c7c"/>
<rect x="494" y="536" width="1" height="1" fill="#7c7c7c"/>
<rect x="494" y="884" width="1" height="1" fill="#7c7c7c"/>
<rect x="497" y="524" width="1" height="1" fill="#7c7c7c"/>
<rect x="497" y="536" width="1" height="1" fill="#7c7c7c"/>
<rect x="497" y="884" width="1" height="1" fill="#7c7c7c"/>
<rect x="500" y="524" width="1" height="1" fill="#7c7c7c"/>
<rect x="500" y="536" width="1" height="1" fill="#7c7c7c"/>
<rect x="500" y="884" width="1" height="1" fill="#7c7c7c"/>
<rect x="504" y="524" width="1" height="1" fill="#7c7c7c"/>
<rect x="504" y="536" width="1" height="1" fill="#7c7c7c"/>
<rect x="504" y="884" width="1" height="1" fill="#7c7c7c"/>
<rect x="507" y="524" width="1" height="1" fill="#7c7c7c"/>
<rect x="507" y="536" width="1" height="1" fill="#7c7c7c"/>
<rect x="507" y="884" width="1" height="1" fill="#7c7c7c"/>
<rect x="510" y="524" width="1" height="1" fill="#7c7c7c"/>
<rect x="510" y="536" width="1" height="1" fill="#7c7c7c"/>
<rect x="510" y="884" width="1" height="1" fill="#7c7c7c"/>
<rect x="513" y="524" width="1" height="1" fill="#7c7c7c"/>
<rect x="513" y="536" width="1" height="1" fill="#7c7c7c"/>
<rect x="513" y="884" width="1" height="1" fill="#7c7c7c"/>
<rect x="516" y="524" width="1" height="1" fill="#7c7c7c"/>
<rect x="516" y="536" width="1" height="1" fill="#7c7c7c"/>
<rect x="516" y="884" width="1" height="1" fill="#7c7c7c"/>
<rect x="519" y="524" width="1" height="1" fill="#7c7c7c"/>
<rect x="519" y="536" width="1" height="1" fill="#7c7c7c"/>
<rect x="519" y="884" width="1" height="1" fill="#7c7c7c"/>
<rect x="522" y="524" width="1" height="1" fill="#7c7c7c"/>
<rect x="522" y="536" width="1" height="1" fill="#7c7c7c"/>
<rect x="522" y="884" width="1" height="1" fill="#7c7c7c"/>
<rect x="525" y="524" width="1" height="1" fill="#7c7c7c"/>
<rect x="525" y="536" width="1" height="1" fill="#7c7c7c"/>
<rect x="525" y="884" width="1" height="1" fill="#7c7c7c"/>
<rect x="528" y="524" width="1" height="1" fill="#7c7c7c"/>
<rect x="528" y="536" width="1" height="1" fill="#7c7c7c"/>
<rect x="528" y="884" width="1" height="1" fill="#7c7c7c"/>
<rect x="531" y="524" width="1" height="1" fill="#7c7c7c"/>
<rect x="531" y="536" width="1" height="1" fill="#7c7c7c"/>
<rect x="531" y="884" width="1" height="1" fill="#7c7c7c"/>
<rect x="534" y="524" width="1" height="1" fill="#7c7c7c"/>
<rect x="534" y="536" width="1" height="1" fill="#7c7c7c"/>
<rect x="534" y="884" width="1" height="1" fill="#7c7c7c"/>
<rect x="537" y="524" width="1" height="1" fill="#7c7c7c"/>
<rect x="537" y="536" width="1" height="1" fill="#7c7c7c"/>
<rect x="537" y="884" width="1" height="1" fill="#7c7c7c"/>
<rect x="540" y="524" width="1" height="1" fill="#7c7c7c"/>
<rect x="540" y="536" width="1" height="1" fill="#7c7c7c"/>
<rect x="540" y="884" width="1" height="1" fill="#7c7c7c"/>
<rect x="543" y="524" width="1" height="1" fill="#7c7c7c"/>
<rect x="543" y="536" width="1" height="1" fill="#7c7c7c"/>
<rect x="543" y="884" width="1" height="1" fill="#7c7c7c"/>
<rect x="546" y="524" width="1" height="1" fill="#7c7c7c"/>
<rect x="546" y="536" width="1" height="1" fill="#7c7c7c"/>
<rect x="546" y="884" width="1" height="1" fill="#7c7c7c"/>
<rect x="549" y="524" width="1" height="1" fill="#7c7c7c"/>
<rect x="549" y="536" width="1" height="1" fill="#7c7c7c"/>
<rect x="549" y="884" width="1" height="1" fill="#7c7c7c"/>
<rect x="553" y="524" width="1" height="1" fill="#7c7c7c"/>
<rect x="553" y="536" width="1" height="1" fill="#7c7c7c"/>
<rect x="553" y="884" width="1" height="1" fill="#7c7c7c"/>
<rect x="556" y="524" width="1" height="1" fill="#7c7c7c"/>
<rect x="556" y="536" width="1" height="1" fill="#7c7c7c"/>
<rect x="556" y="884" width="1" height="1" fill="#7c7c7c"/>
<rect x="559" y="524" width="1" height="1" fill="#7c7c7c"/>
<rect x="559" y="536" width="1" height="1" fill="#7c7c7c"/>
<rect x="559" y="884" width="1" height="1" fill="#7c7c7c"/>
<rect x="562" y="524" width="1" height="1" fill="#7c7c7c"/>
<rect x="562" y="536" width="1" height="1" fill="#7c7c7c"/>
<rect x="562" y="884" width="1" height="1" fill="#7c7c7c"/>
<rect x="565" y="524" width="1" height="1" fill="#7c7c7c"/>
<rect x="565" y="536" width="1" height="1" fill="#7c7c7c"/>
<rect x="565" y="884" width="1" height="1" fill="#7c7c7c"/>
<rect x="568" y="524" width="1" height="1" fill="#7c7c7c"/>
<rect x="568" y="536" width="1" height="1" fill="#7c7c7c"/>
<rect x="568" y="884" width="1" height="1" fill="#7c7c7c"/>
<rect x="571" y="524" width="1" height="1" fill="#7c7c7c"/>
<rect x="571" y="536" width="1" height="1" fill="#7c7c7c"/>
<rect x="571" y="884" width="1" height="1" fill="#7c7c7c"/>
<rect x="574" y="524" width="1" height="1" fill="#7c7c7c"/>
<rect x="574" y="536" width="1" height="1" fill="#7c7c7c"/>
<rect x="574" y="884" width="1" height="1" fill="#7c7c7c"/>
<rect x="577" y="524" width="1" height="1" fill="#7c7c7c"/>
<rect x="577" y="536" width="1" height="1" fill="#7c7c7c"/>
<rect x="577" y="884" width="1" height="1" fill="#7c7c7c"/>
<rect x="580" y="524" width="1" height="1" fill="#7c7c7c"/>
<rect x="580" y="536" width="1" height="1" fill="#7c7c7c"/>
<rect x="580" y="884" width="1" height="1" fill="#7c7c7c"/>
<rect x="583" y="524" width="1" height="1" fill="#7c7c7c"/>
<rect x="583" y="536" width="1" height="1" fill="#7c7c7c"/>
<rect x="583" y="884" width="1" height="1" fill="#7c7c7c"/>
<rect x="586" y="524" width="1" height="1" fill="#7c7c7c"/>
<rect x="586" y="536" width="1" height="1" fill="#7c7c7c"/>
<rect x="586" y="884" width="1" height="1" fill="#7c7c7c"/>
<rect x="589" y="524" width="1" height="1" fill="#7c7c7c"/>
<rect x="589" y="536" width="1" height="1" fill="#7c7c7c"/>
<rect x="589" y="884" width="1" height="1" fill="#7c7c7c"/>
<rect x="592" y="524" width="1" height="1" fill="#7c7c7c"/>
<rect x="592" y="536" width="1" height="1" fill="#7c7c7c"/>
<rect x="592" y="884" width="1" height="1" fill="#7c7c7c"/>
<rect x="595" y="524" width="1" height="1" fill="#7c7c7c"/>
<rect x="595" y="536" width="1" height="1" fill="#7c7c7c"/>
<rect x="595" y="884" width="1" height="1" fill="#7c7c7c"/>
<rect x="598" y="524" width="1" height="1" fill="#7c7c7c"/>
<rect x="598" y="536" width="1" height="1" fill="#7c7c7c"/>
<rect x="598" y="884" width="1" height="1" fill="#7c7c7c"/>
<rect x="601" y="524" width="1" height="1" fill="#7c7c7c"/>
<rect x="601" y="536" width="1" height="1" fill="#7c7c7c"/>
<rect x="601" y="884" width="1" height="1" fill="#7c7c7c"/>
<rect x="605" y="524" width="1" height="1" fill="#7c7c7c"/>
<rect x="605" y="536" width="1" height="1" fill="#7c7c7c"/>
<rect x="605" y="884" width="1" height="1" fill="#7c7c7c"/>
<rect x="608" y="524" width="1" height="1" fill="#7c7c7c"/>
<rect x="608" y="536" width="1" height="1" fill="#7c7c7c"/>
<rect x="608" y="884" width="1" height="1" fill="#7c7c7c"/>
<rect x="611" y="524" width="1" height="1" fill="#7c7c7c"/>
<rect x="611" y="536" width="1" height="1" fill="#7c7c7c"/>
<rect x="611" y="884" width="1" height="1" fill="#7c7c7c"/>
<rect x="614" y="524" width="1" height="1" fill="#7c7c7c"/>
<rect x="614" y="536" width="1" height="1" fill="#7c7c7c"/>
<rect x="614" y="884" width="1" height="1" fill="#7c7c7c"/>
<rect x="617" y="524" width="1" height="1" fill="#7c7c7c"/>
<rect x="617" y="536" width="1" height="1" fill="#7c7c7c"/>
<rect x="617" y="884" width="1" height="1" fill="#7c7c7c"/>
<rect x="620" y="524" width="1" height="1" fill="#7c7c7c"/>
<rect x="620" y="536" width="1" height="1" fill="#7c7c7c"/>
<rect x="620" y="884" width="1" height="1" fill="#7c7c7c"/>
<rect x="623" y="524" width="1" height="1" fill="#7c7c7c"/>
<rect x="623" y="536" width="1" height="1" fill="#7c7c7c"/>
<rect x="623" y="884" width="1" height="1" fill="#7c7c7c"/>
<rect x="626" y="524" width="1" height="1" fill="#7c7c7c"/>
<rect x="626" y="536" width="1" height="1" fill="#7c7c7c"/>
<rect x="626" y="884" width="1" height="1" fill="#7c7c7c"/>
<rect x="629" y="524" width="1" height="1" fill="#7c7c7c"/>
<rect x="629" y="536" width="1" height="1" fill="#7c7c7c"/>
<rect x="629" y="884" width="1" height="1" fill="#7c7c7c"/>
<rect x="632" y="524" width="1" height="1" fill="#7c7c7c"/>
<rect x="632" y="536" width="1" height="1" fill="#7c7c7c"/>
<rect x="632" y="884" width="1" height="1" fill="#7c7c7c"/>
<rect x="635" y="524" width="1" height="1" fill="#7c7c7c"/>
<rect x="635" y="536" width="1" height="1" fill="#7c7c7c"/>
<rect x="635" y="884" width="1" height="1" fill="#7c7c7c"/>
<rect x="638" y="524" width="1" height="1" fill="#7c7c7c"/>
<rect x="638" y="536" width="1" height="1" fill="#7c7c7c"/>
<rect x="638" y="884" width="1" height="1" fill="#7c7c7c"/>
<rect x="641" y="524" width="1" height="1" fill="#7c7c7c"/>
<rect x="641" y="536" width="1" height="1" fill="#7c7c7c"/>
<rect x="641" y="884" width="1" height="1" fill="#7c7c7c"/>
<rect x="644" y="524" width="1" height="1" fill="#7c7c7c"/>
<rect x="644" y="536" width="1" height="1" fill="#7c7c7c"/>
<rect x="644" y="884" width="1" height="1" fill="#7c7c7c"/>
<rect x="647" y="524" width="1" height="1" fill="#7c7c7c"/>
<rect x="647" y="536" width="1" height="1" fill="#7c7c7c"/>
<rect x="647" y="884" width="1" height="1" fill="#7c7c7c"/>
<rect x="650" y="524" width="1" height="1" fill="#7c7c7c"/>
<rect x="650" y="536" width="1" height="1" fill="#7c7c7c"/>
<rect x="650" y="884" width="1" height="1" fill="#7c7c7c"/>
<rect x="653" y="524" width="1" height="1" fill="#7c7c7c"/>
<rect x="653" y="536" width="1" height="1" fill="#7c7c7c"/>
<rect x="653" y="884" width="1" height="1" fill="#7c7c7c"/>
<rect x="657" y="524" width="1" height="1" fill="#7c7c7c"/>
<rect x="657" y="536" width="1" height="1" fill="#7c7c7c"/>
<rect x="657" y="884" width="1" height="1" fill="#7c7c7c"/>
<rect x="660" y="524" width="1" height="1" fill="#7c7c7c"/>
<rect x="660" y="536" width="1" height="1" fill="#7c7c7c"/>
<rect x="660" y="884" width="1" height="1" fill="#7c7c7c"/>
<rect x="663" y="524" width="1" height="1" fill="#7c7c7c"/>
<rect x="663" y="536" width="1" height="1" fill="#7c7c7c"/>
<rect x="663" y="884" width="1" height="1" fill="#7c7c7c"/>
<rect x="666" y="524" width="1" height="1" fill="#7c7c7c"/>
<rect x="666" y="536" width="1" height="1" fill="#7c7c7c"/>
<rect x="666" y="884" width="1" height="1" fill="#7c7c7c"/>
<rect x="669" y="524" width="1" height="1" fill="#7c7c7c"/>
<rect x="669" y="536" width="1" height="1" fill="#7c7c7c"/>
<rect x="669" y="884" width="1" height="1" fill="#7c7c7c"/>
<rect x="672" y="524" width="1" height="1" fill="#7c7c7c"/>
<rect x="672" y="536" width="1" height="1" fill="#7c7c7c"/>
<rect x="672" y="884" width="1" height="1" fill="#7c7c7c"/>
<rect x="675" y="524" width="1" height="1" fill="#7c7c7c"/>
<rect x="675" y="536" width="1" height="1" fill="#7c7c7c"/>
<rect x="675" y="884" width="1" height="1" fill="#7c7c7c"/>
<rect x="678" y="524" width="1" height="1" fill="#7c7c7c"/>
<rect x="678" y="536" width="1" height="1" fill="#7c7c7c"/>
<rect x="678" y="884" width="1" height="1" fill="#7c7c7c"/>
<rect x="681" y="524" width="1" height="1" fill="#7c7c7c"/>
<rect x="681" y="536" width="1" height="1" fill="#7c7c7c"/>
<rect x="681" y="884" width="1" height="1" fill="#7c7c7c"/>
<rect x="684" y="524" width="1" height="1" fill="#7c7c7c"/>
<rect x="684" y="536" width="1" height="1" fill="#7c7c7c"/>
<rect x="684" y="884" width="1" height="1" fill="#7c7c7c"/>
<rect x="687" y="524" width="1" height="1" fill="#7c7c7c"/>
<rect x="687" y="536" width="1" height="1" fill="#7c7c7c"/>
<rect x="687" y="884" width="1" height="1" fill="#7c7c7c"/>
<rect x="690" y="524" width="1" height="1" fill="#7c7c7c"/>
<rect x="690" y="536" width="1" height="1" fill="#7c7c7c"/>
<rect x="690" y="884" width="1" height="1" fill="#7c7c7c"/>
<rect x="693" y="524" width="1" height="1" fill="#7c7c7c"/>
<rect x="693" y="536" width="1" height="1" fill="#7c7c7c"/>
<rect x="693" y="884" width="1" height="1" fill="#7c7c7c"/>
<rect x="696" y="524" width="1" height="1" fill="#7c7c7c"/>
<rect x="696" y="536" width="1" height="1" fill="#7c7c7c"/>
<rect x="696" y="884" width="1" height="1" fill="#7c7c7c"/>
<rect x="699" y="524" width="1" height="1" fill="#7c7c7c"/>
<rect x="699" y="536" width="1" height="1" fill="#7c7c7c"/>
<rect x="699" y="884" width="1" height="1" fill="#7c7c7c"/>
<rect x="702" y="524" width="1" height="1" fill="#7c7c7c"/>
<rect x="702" y="536" width="1" height="1" fill="#7c7c7c"/>
<rect x="702" y="884" width="1" height="1" fill="#7c7c7c"/>
<rect x="705" y="524" width="1" height="1" fill="#7c7c7c"/>
<rect x="705" y="536" width="1" height="1" fill="#7c7c7c"/>
<rect x="705" y="884" width="1" height="1" fill="#7c7c7c"/>
<rect x="709" y="524" width="1" height="1" fill="#7c7c7c"/>
<rect x="709" y="536" width="1" height="1" fill="#7c7c7c"/>
<rect x="709" y="884" width="1" height="1" fill="#7c7c7c"/>
<rect x="712" y="524" width="1" height="1" fill="#7c7c7c"/>
<rect x="712" y="536" width="1" height="1" fill="#7c7c7c"/>
<rect x="712" y="884" width="1" height="1" fill="#7c7c7c"/>
<rect x="715" y="524" width="1" height="1" fill="#7c7c7c"/>
<rect x="715" y="536" width="1" height="1" fill="#7c7c7c"/>
<rect x="715" y="884" width="1" height="1" fill="#7c7c7c"/>
<rect x="718" y="524" width="1" height="1" fill="#7c7c7c"/>
<rect x="718" y="536" width="1" height="1" fill="#7c7c7c"/>
<rect x="718" y="884" width="1" height="1" fill="#7c7c7c"/>
<rect x="721" y="524" width="1" height="1" fill="#7c7c7c"/>
<rect x="721" y="536" width="1" height="1" fill="#7c7c7c"/>
<rect x="721" y="884" width="1" height="1" fill="#7c7c7c"/>
<rect x="724" y="524" width="1" height="1" fill="#7c7c7c"/>
<rect x="724" y="536" width="1" height="1" fill="#7c7c7c"/>
<rect x="724" y="884" width="1" height="1" fill="#7c7c7c"/>
<rect x="727" y="524" width="1" height="1" fill="#7c7c7c"/>
<rect x="727" y="536" width="1" height="1" fill="#7c7c7c"/>
<rect x="727" y="884" width="1" height="1" fill="#7c7c7c"/>
<rect x="730" y="524" width="1" height="1" fill="#7c7c7c"/>
<rect x="730" y="536" width="1" height="1" fill="#7c7c7c"/>
<rect x="730" y="884" width="1" height="1" fill="#7c7c7c"/>
<rect x="733" y="524" width="1" height="1" fill="#7c7c7c"/>
<rect x="733" y="536" width="1" height="1" fill="#7c7c7c"/>
<rect x="733" y="884" width="1" height="1" fill="#7c7c7c"/>
<rect x="736" y="524" width="1" height="1" fill="#7c7c7c"/>
<rect x="736" y="536" width="1" height="1" fill="#7c7c7c"/>
<rect x="736" y="884" width="1" height="1" fill="#7c7c7c"/>
<rect x="739" y="524" width="1" height="1" fill="#7c7c7c"/>
<rect x="739" y="536" width="1" height="1" fill="#7c7c7c"/>
<rect x="739" y="884" width="1" height="1" fill="#7c7c7c"/>
<rect x="742" y="524" width="1" height="1" fill="#7c7c7c"/>
<rect x="742" y="536" width="1" height="1" fill="#7c7c7c"/>
<rect x="742" y="884" width="1" height="1" fill="#7c7c7c"/>
<rect x="745" y="524" width="1" height="1" fill="#7c7c7c"/>
<rect x="745" y="536" width="1" height="1" fill="#7c7c7c"/>
<rect x="745" y="884" width="1" height="1" fill="#7c7c7c"/>
<rect x="748" y="524" width="1" height="1" fill="#7c7c7c"/>
<rect x="748" y="536" width="1" height="1" fill="#7c7c7c"/>
<rect x="748" y="884" width="1" height="1" fill="#7c7c7c"/>
<rect x="751" y="524" width="1" height="1" fill="#7c7c7c"/>
<rect x="751" y="536" width="1" height="1" fill="#7c7c7c"/>
<rect x="751" y="884" width="1" height="1" fill="#7c7c7c"/>
<rect x="754" y="524" width="1" height="1" fill="#7c7c7c"/>
<rect x="754" y="536" width="1" height="1" fill="#7c7c7c"/>
<rect x="754" y="884" width="1" height="1" fill="#7c7c7c"/>
<rect x="758" y="524" width="1" height="1" fill="#7c7c7c"/>
<rect x="758" y="536" width="1" height="1" fill="#7c7c7c"/>
<rect x="758" y="884" width="1" height="1" fill="#7c7c7c"/>
<rect x="761" y="524" width="1" height="1" fill="#7c7c7c"/>
<rect x="761" y="536" width="1" height="1" fill="#7c7c7c"/>
<rect x="761" y="884" width="1" height="1" fill="#7c7c7c"/>
<rect x="764" y="524" width="1" height="1" fill="#7c7c7c"/>
<rect x="764" y="536" width="1" height="1" fill="#7c7c7c"/>
<rect x="764" y="884" width="1" height="1" fill="#7c7c7c"/>
<rect x="767" y="524" width="1" height="1" fill="#7c7c7c"/>
<rect x="767" y="536" width="1" height="1" fill="#7c7c7c"/>
<rect x="767" y="884" width="1" height="1" fill="#7c7c7c"/>
<rect x="770" y="524" width="1" height="1" fill="#7c7c7c"/>
<rect x="770" y="536" width="1" height="1" fill="#7c7c7c"/>
<rect x="770" y="884" width="1" height="1" fill="#7c7c7c"/>
<rect x="773" y="524" width="1" height="1" fill="#7c7c7c"/>
<rect x="773" y="536" width="1" height="1" fill="#7c7c7c"/>
<rect x="773" y="884" width="1" height="1" fill="#7c7c7c"/>
<rect x="776" y="524" width="1" height="1" fill="#7c7c7c"/>
<rect x="776" y="536" width="1" height="1" fill="#7c7c7c"/>
<rect x="776" y="884" width="1" height="1" fill="#7c7c7c"/>
<rect x="779" y="524" width="1" height="1" fill="#7c7c7c"/>
<rect x="779" y="536" width="1" height="1" fill="#7c7c7c"/>
<rect x="779" y="884" width="1" height="1" fill="#7c7c7c"/>
<rect x="782" y="524" width="1" height="1" fill="#7c7c7c"/>
<rect x="782" y="536" width="1" height="1" fill="#7c7c7c"/>
<rect x="782" y="884" width="1" height="1" fill="#7c7c7c"/>
<rect x="785" y="524" width="1" height="1" fill="#7c7c7c"/>
<rect x="785" y="536" width="1" height="1" fill="#7c7c7c"/>
<rect x="785" y="884" width="1" height="1" fill="#7c7c7c"/>
<rect x="788" y="524" width="1" height="1" fill="#7c7c7c"/>
<rect x="788" y="536" width="1" height="1" fill="#7c7c7c"/>
<rect x="788" y="884" width="1" height="1" fill="#7c7c7c"/>
<rect x="791" y="524" width="1" height="1" fill="#7c7c7c"/>
<rect x="791" y="536" width="1" height="1" fill="#7c7c7c"/>
<rect x="791" y="884" width="1" height="1" fill="#7c7c7c"/>
<rect x="794" y="524" width="1" height="1" fill="#7c7c7c"/>
<rect x="794" y="536" width="1" height="1" fill="#7c7c7c"/>
<rect x="794" y="884" width="1" height="1" fill="#7c7c7c"/>
<rect x="797" y="524" width="1" height="1" fill="#7c7c7c"/>
<rect x="797" y="536" width="1" height="1" fill="#7c7c7c"/>
<rect x="797" y="884" width="1" height="1" fill="#7c7c7c"/>
<rect x="800" y="524" width="1" height="1" fill="#7c7c7c"/>
<rect x="800" y="536" width="1" height="1" fill="#7c7c7c"/>
<rect x="800" y="884" width="1" height="1" fill="#7c7c7c"/>
<rect x="803" y="524" width="1" height="1" fill="#7c7c7c"/>
<rect x="803" y="536" width="1" height="1" fill="#7c7c7c"/>
<rect x="803" y="884" width="1" height="1" fill="#7c7c7c"/>
<rect x="806" y="524" width="1" height="1" fill="#7c7c7c"/>
<rect x="806" y="536" width="1" height="1" fill="#7c7c7c"/>
<rect x="806" y="884" width="1" height="1" fill="#7c7c7c"/>
<rect x="810" y="524" width="1" height="1" fill="#7c7c7c"/>
<rect x="810" y="536" width="1" height="1" fill="#7c7c7c"/>
<rect x="810" y="884" width="1" height="1" fill="#7c7c7c"/>
<rect x="813" y="524" width="1" height="1" fill="#7c7c7c"/>
<rect x="813" y="536" width="1" height="1" fill="#7c7c7c"/>
<rect x="813" y="884" width="1" height="1" fill="#7c7c7c"/>
<rect x="816" y="524" width="1" height="1" fill="#7c7c7c"/>
<rect x="816" y="536" width="1" height="1" fill="#7c7c7c"/>
<rect x="816" y="884" width="1" height="1" fill="#7c7c7c"/>
<rect x="819" y="524" width="1" height="1" fill="#7c7c7c"/>
<rect x="819" y="536" width="1" height="1" fill="#7c7c7c"/>
<rect x="819" y="884" width="1" height="1" fill="#7c7c7c"/>
<rect x="822" y="524" width="1" height="1" fill="#7c7c7c"/>
<rect x="822" y="536" width="1" height="1" fill="#7c7c7c"/>
<rect x="822" y="884" width="1" height="1" fill="#7c7c7c"/>
<rect x="825" y="524" width="1" height="1" fill="#7c7c7c"/>
<rect x="825" y="536" width="1" height="1" fill="#7c7c7c"/>
<rect x="825" y="884" width="1" height="1" fill="#7c7c7c"/>
<rect x="828" y="524" width="1" height="1" fill="#7c7c7c"/>
<rect x="828" y="536" width="1" height="1" fill="#7c7c7c"/>
<rect x="828" y="884" width="1" height="1" fill="#7c7c7c"/>
<rect x="831" y="524" width="1" height="1" fill="#7c7c7c"/>
<rect x="831" y="536" width="1" height="1" fill="#7c7c7c"/>
<rect x="831" y="884" width="1" height="1" fill="#7c7c7c"/>
<rect x="834" y="524" width="1" height="1" fill="#7c7c7c"/>
<rect x="834" y="536" width="1" height="1" fill="#7c7c7c"/>
<rect x="834" y="884" width="1" height="1" fill="#7c7c7c"/>
<rect x="837" y="524" width="1" height="1" fill="#7c7c7c"/>
<rect x="837" y="536" width="1" height="1" fill="#7c7c7c"/>
<rect x="837" y="884" width="1" height="1" fill="#7c7c7c"/>
<rect x="840" y="524" width="1" height="1" fill="#7c7c7c"/>
<rect x="840" y="536" width="1" height="1" fill="#7c7c7c"/>
<rect x="840" y="884" width="1" height="1" fill="#7c7c7c"/>
<rect x="843" y="524" width="1" height="1" fill="#7c7c7c"/>
<rect x="843" y="536" width="1" height="1" fill="#7c7c7c"/>
<rect x="843" y="884" width="1" height="1" fill="#7c7c7c"/>
<rect x="846" y="524" width="1" height="1" fill="#7c7c7c"/>
<rect x="846" y="536" width="1" height="1" fill="#7c7c7c"/>
<rect x="846" y="884" width="1" height="1" fill="#7c7c7c"/>
<rect x="849" y="524" width="1" height="1" fill="#7c7c7c"/>
<rect x="849" y="536" width="1" height="1" fill="#7c7c7c"/>
<rect x="849" y="884" width="1" height="1" fill="#7c7c7c"/>
<rect x="852" y="524" width="1" height="1" fill="#7c7c7c"/>
<rect x="852" y="536" width="1" height="1" fill="#7c7c7c"/>
<rect x="852" y="884" width="1" height="1" fill="#7c7c7c"/>
<rect x="855" y="524" width="1" height="1" fill="#7c7c7c"/>
<rect x="855" y="536" width="1" height="1" fill="#7c7c7c"/>
<rect x="855" y="884" width="1" height="1" fill="#7c7c7c"/>
<rect x="858" y="524" width="1" height="1" fill="#7c7c7c"/>
<rect x="858" y="536" width="1" height="1" fill="#7c7c7c"/>
<rect x="858" y="884" width="1" height="1" fill="#7c7c7c"/>
<rect x="862" y="524" width="1" height="1" fill="#7c7c7c"/>
<rect x="862" y="536" width="1" height="1" fill="#7c7c7c"/>
<rect x="862" y="884" width="1" height="1" fill="#7c7c7c"/>
<rect x="865" y="524" width="1" height="1" fill="#7c7c7c"/>
<rect x="865" y="536" width="1" height="1" fill="#7c7c7c"/>
<rect x="865" y="884" width="1" height="1" fill="#7c7c7c"/>
<rect x="868" y="524" width="1" height="1" fill="#7c7c7c"/>
<rect x="868" y="536" width="1" height="1" fill="#7c7c7c"/>
<rect x="868" y="884" width="1" height="1" fill="#7c7c7c"/>
<rect x="871" y="524" width="1" height="1" fill="#7c7c7c"/>
<rect x="871" y="536" width="1" height="1" fill="#7c7c7c"/>
<rect x="871" y="884" width="1" height="1" fill="#7c7c7c"/>
<rect x="874" y="524" width="1" height="1" fill="#7c7c7c"/>
<rect x="874" y="536" width="1" height="1" fill="#7c7c7c"/>
<rect x="874" y="884" width="1" height="1" fill="#7c7c7c"/>
<rect x="877" y="524" width="1" height="1" fill="#7c7c7c"/>
<rect x="877" y="536" width="1" height="1" fill="#7c7c7c"/>
<rect x="877" y="884" width="1" height="1" fill="#7c7c7c"/>
<rect x="880" y="524" width="1" height="1" fill="#7c7c7c"/>
<rect x="880" y="536" width="1" height="1" fill="#7c7c7c"/>
<rect x="880" y="884" width="1" height="1" fill="#7c7c7c"/>
<rect x="883" y="524" width="1" height="1" fill="#7c7c7c"/>
<rect x="883" y="536" width="1" height="1" fill="#7c7c7c"/>
<rect x="883" y="884" width="1" height="1" fill="#7c7c7c"/>
<rect x="886" y="524" width="1" height="1" fill="#7c7c7c"/>
<rect x="886" y="536" width="1" height="1" fill="#7c7c7c"/>
<rect x="886" y="884" width="1" height="1" fill="#7c7c7c"/>
<rect x="889" y="524" width="1" height="1" fill="#7c7c7c"/>
<rect x="889" y="536" width="1" height="1" fill="#7c7c7c"/>
<rect x="889" y="884" width="1" height="1" fill="#7c7c7c"/>
<rect x="892" y="524" width="1" height="1" fill="#7c7c7c"/>
<rect x="892" y="536" width="1" height="1" fill="#7c7c7c"/>
<rect x="892" y="884" width="1" height="1" fill="#7c7c7c"/>
<rect x="895" y="524" width="1" height="1" fill="#7c7c7c"/>
<rect x="895" y="536" width="1" height="1" fill="#7c7c7c"/>
<rect x="895" y="884" width="1" height="1" fill="#7c7c7c"/>
<rect x="898" y="524" width="1" height="1" fill="#7c7c7c"/>
<rect x="898" y="536" width="1" height="1" fill="#7c7c7c"/>
<rect x="898" y="884" width="1" height="1" fill="#7c7c7c"/>
<rect x="901" y="524" width="1" height="1" fill="#7c7c7c"/>
<rect x="901" y="536" width="1" height="1" fill="#7c7c7c"/>
<rect x="901" y="884" width="1" height="1" fill="#7c7c7c"/>
<rect x="904" y="524" width="1" height="1" fill="#7c7c7c"/>
<rect x="904" y="536" width="1" height="1" fill="#7c7c7c"/>
<rect x="904" y="884" width="1" height="1" fill="#7c7c7c"/>
<rect x="907" y="524" width="1" height="1" fill="#7c7c7c"/>
<rect x="907" y="536" width="1" height="1" fill="#7c7c7c"/>
<rect x="907" y="884" width="1" height="1" fill="#7c7c7c"/>
<rect x="911" y="524" width="1" height="1" fill="#7c7c7c"/>
<rect x="911" y="536" width="1" height="1" fill="#7c7c7c"/>
<rect x="911" y="884" width="1" height="1" fill="#7c7c7c"/>
<rect x="914" y="524" width="1" height="1" fill="#7c7c7c"/>
<rect x="914" y="536" width="1" height="1" fill="#7c7c7c"/>
<rect x="914" y="884" width="1" height="1" fill="#7c7c7c"/>
<rect x="917" y="524" width="1" height="1" fill="#7c7c7c"/>
<rect x="917" y="536" width="1" height="1" fill="#7c7c7c"/>
<rect x="917" y="884" width="1" height="1" fill="#7c7c7c"/>
<rect x="920" y="524" width="1" height="1" fill="#7c7c7c"/>
<rect x="920" y="536" width="1" height="1" fill="#7c7c7c"/>
<rect x="920" y="884" width="1" height="1" fill="#7c7c7c"/>
<rect x="923" y="524" width="1" height="1" fill="#7c7c7c"/>
<rect x="923" y="536" width="1" height="1" fill="#7c7c7c"/>
<rect x="923" y="884" width="1" height="1" fill="#7c7c7c"/>
<rect x="926" y="524" width="1" height="1" fill="#7c7c7c"/>
<rect x="926" y="536" width="1" height="1" fill="#7c7c7c"/>
<rect x="926" y="884" width="1" height="1" fill="#7c7c7c"/>
<rect x="929" y="524" width="1" height="1" fill="#7c7c7c"/>
<rect x="929" y="536" width="1" height="1" fill="#7c7c7c"/>
<rect x="929" y="884" width="1" height="1" fill="#7c7c7c"/>
<rect x="932" y="524" width="1" height="1" fill="#7c7c7c"/>
<rect x="932" y="536" width="1" height="1" fill="#7c7c7c"/>
<rect x="932" y="884" width="1" height="1" fill="#7c7c7c"/>
<rect x="935" y="524" width="1" height="1" fill="#7c7c7c"/>
<rect x="935" y="536" width="1" height="1" fill="#7c7c7c"/>
<rect x="935" y="884" width="1" height="1" fill="#7c7c7c"/>
<rect x="938" y="524" width="1" height="1" fill="#7c7c7c"/>
<rect x="938" y="536" width="1" height="1" fill="#7c7c7c"/>
<rect x="938" y="884" width="1" height="1" fill="#7c7c7c"/>
<rect x="941" y="524" width="1" height="1" fill="#7c7c7c"/>
<rect x="941" y="536" width="1" height="1" fill="#7c7c7c"/>
<rect x="941" y="884" width="1" height="1" fill="#7c7c7c"/>
<rect x="944" y="524" width="1" height="1" fill="#7c7c7c"/>
<rect x="944" y="536" width="1" height="1" fill="#7c7c7c"/>
<rect x="944" y="884" width="1" height="1" fill="#7c7c7c"/>
<rect x="947" y="524" width="1" height="1" fill="#7c7c7c"/>
<rect x="947" y="536" width="1" height="1" fill="#7c7c7c"/>
<rect x="947" y="884" width="1" height="1" fill="#7c7c7c"/>
<rect x="950" y="524" width="1" height="1" fill="#7c7c7c"/>
<rect x="950" y="536" width="1" height="1" fill="#7c7c7c"/>
<rect x="950" y="884" width="1" height="1" fill="#7c7c7c"/>
<rect x="953" y="524" width="1" height="1" fill="#7c7c7c"/>
<rect x="953" y="536" width="1" height="1" fill="#7c7c7c"/>
<rect x="953" y="884" width="1" height="1" fill="#7c7c7c"/>
<rect x="956" y="524" width="1" height="1" fill="#7c7c7c"/>
<rect x="956" y="536" width="1" height="1" fill="#7c7c7c"/>
<rect x="956" y="884" width="1" height="1" fill="#7c7c7c"/>
<rect x="959" y="524" width="1" height="1" fill="#7c7c7c"/>
<rect x="959" y="536" width="1" height="1" fill="#7c7c7c"/>
<rect x="959" y="884" width="1" height="1" fill="#7c7c7c"/>
<rect x="963" y="524" width="1" height="1" fill="#7c7c7c"/>
<rect x="963" y="536" width="1" height="1" fill="#7c7c7c"/>
<rect x="963" y="884" width="1" height="1" fill="#7c7c7c"/>
<rect x="966" y="524" width="1" height="1" fill="#7c7c7c"/>
<rect x="966" y="536" width="1" height="1" fill="#7c7c7c"/>
<rect x="966" y="884" width="1" height="1" fill="#7c7c7c"/>
<rect x="969" y="524" width="1" height="1" fill="#7c7c7c"/>
<rect x="969" y="536" width="1" height="1" fill="#7c7c7c"/>
<rect x="969" y="884" width="1" height="1" fill="#7c7c7c"/>
<rect x="972" y="524" width="1" height="1" fill="#7c7c7c"/>
<rect x="972" y="536" width="1" height="1" fill="#7c7c7c"/>
<rect x="972" y="884" width="1" height="1" fill="#7c7c7c"/>
<rect x="975" y="524" width="1" height="1" fill="#7c7c7c"/>
<rect x="975" y="536" width="1" height="1" fill="#7c7c7c"/>
<rect x="975" y="884" width="1" height="1" fill="#7c7c7c"/>
<rect x="978" y="524" width="1" height="1" fill="#7c7c7c"/>
<rect x="978" y="536" width="1" height="1" fill="#7c7c7c"/>
<rect x="978" y="884" width="1" height="1" fill="#7c7c7c"/>
<rect x="981" y="524" width="1" height="1" fill="#7c7c7c"/>
<rect x="981" y="536" width="1" height="1" fill="#7c7c7c"/>
<rect x="981" y="884" width="1" height="1" fill="#7c7c7c"/>
<rect x="984" y="524" width="1" height="1" fill="#7c7c7c"/>
<rect x="984" y="536" width="1" height="1" fill="#7c7c7c"/>
<rect x="984" y="884" width="1" height="1" fill="#7c7c7c"/>
<rect x="987" y="524" width="1" height="1" fill="#7c7c7c"/>
<rect x="987" y="536" width="1" height="1" fill="#7c7c7c"/>
<rect x="987" y="884" width="1" height="1" fill="#7c7c7c"/>
<rect x="990" y="524" width="1" height="1" fill="#7c7c7c"/>
<rect x="990" y="536" width="1" height="1" fill="#7c7c7c"/>
<rect x="990" y="884" width="1" height="1" fill="#7c7c7c"/>
<rect x="993" y="524" width="1" height="1" fill="#7c7c7c"/>
<rect x="993" y="536" width="1" height="1" fill="#7c7c7c"/>
<rect x="993" y="884" width="1" height="1" fill="#7c7c7c"/>
<rect x="996" y="524" width="1" height="1" fill="#7c7c7c"/>
<rect x="996" y="536" width="1" height="1" fill="#7c7c7c"/>
<rect x="996" y="884" width="1" height="1" fill="#7c7c7c"/>
<rect x="999" y="524" width="1" height="1" fill="#7c7c7c"/>
<rect x="999" y="536" width="1" height="1" fill="#7c7c7c"/>
<rect x="999" y="884" width="1" height="1" fill="#7c7c7c"/>
<rect x="1002" y="524" width="1" height="1" fill="#7c7c7c"/>
<rect x="1002" y="536" width="1" height="1" fill="#7c7c7c"/>
<rect x="1002" y="884" width="1" height="1" fill="#7c7c7c"/>
<rect x="1005" y="524" width="1" height="1" fill="#7c7c7c"/>
<rect x="1005" y="536" width="1" height="1" fill="#7c7c7c"/>
<rect x="1005" y="884" width="1" height="1" fill="#7c7c7c"/>
<rect x="1008" y="524" width="1" height="1" fill="#7c7c7c"/>
<rect x="1008" y="536" width="1" height="1" fill="#7c7c7c"/>
<rect x="1008" y="884" width="1" height="1" fill="#7c7c7c"/>
<rect x="1011" y="524" width="1" height="1" fill="#7c7c7c"/>
<rect x="1011" y="536" width="1" height="1" fill="#7c7c7c"/>
<rect x="1011" y="884" width="1" height="1" fill="#7c7c7c"/>
<rect x="1015" y="524" width="1" height="1" fill="#7c7c7c"/>
<rect x="1015" y="536" width="1" height="1" fill="#7c7c7c"/>
<rect x="1015" y="884" width="1" height="1" fill="#7c7c7c"/>
<rect x="1018" y="524" width="1" height="1" fill="#7c7c7c"/>
<rect x="1018" y="536" width="1" height="1" fill="#7c7c7c"/>
<rect x="1018" y="884" width="1" height="1" fill="#7c7c7c"/>
<rect x="1021" y="524" width="1" height="1" fill="#7c7c7c"/>
<rect x="1021" y="536" width="1" height="1" fill="#7c7c7c"/>
<rect x="1021" y="884" width="1" height="1" fill="#7c7c7c"/>
<rect x="1024" y="524" width="1" height="1" fill="#7c7c7c"/>
<rect x="1024" y="536" width="1" height="1" fill="#7c7c7c"/>
<rect x="1024" y="884" width="1" height="1" fill="#7c7c7c"/>
<rect x="1027" y="524" width="1" height="1" fill="#7c7c7c"/>
<rect x="1027" y="536" width="1" height="1" fill="#7c7c7c"/>
<rect x="1027" y="884" width="1" height="1" fill="#7c7c7c"/>
<rect x="1030" y="524" width="1" height="1" fill="#7c7c7c"/>
<rect x="1030" y="536" width="1" height="1" fill="#7c7c7c"/>
<rect x="1030" y="884" width="1" height="1" fill="#7c7c7c"/>
<rect x="1033" y="524" width="1" height="1" fill="#7c7c7c"/>
<rect x="1033" y="536" width="1" height="1" fill="#7c7c7c"/>
<rect x="1033" y="884" width="1" height="1" fill="#7c7c7c"/>
<rect x="1036" y="524" width="1" height="1" fill="#7c7c7c"/>
<rect x="1036" y="536" width="1" height="1" fill="#7c7c7c"/>
<rect x="1036" y="884" width="1" height="1" fill="#7c7c7c"/>
<rect x="1039" y="524" width="1" height="1" fill="#7c7c7c"/>
<rect x="1039" y="536" width="1" height="1" fill="#7c7c7c"/>
<rect x="1039" y="884" width="1" height="1" fill="#7c7c7c"/>
<rect x="1042" y="524" width="1" height="1" fill="#7c7c7c"/>
<rect x="1042" y="536" width="1" height="1" fill="#7c7c7c"/>
<rect x="1042" y="884" width="1" height="1" fill="#7c7c7c"/>
<rect x="1045" y="524" width="1" height="1" fill="#7c7c7c"/>
<rect x="1045" y="536" width="1" height="1" fill="#7c7c7c"/>
<rect x="1045" y="884" width="1" height="1" fill="#7c7c7c"/>
<rect x="1048" y="524" width="1" height="1" fill="#7c7c7c"/>
<rect x="1048" y="536" width="1" height="1" fill="#7c7c7c"/>
<rect x="1048" y="884" width="1" height="1" fill="#7c7c7c"/>
<rect x="1051" y="524" width="1" height="1" fill="#7c7c7c"/>
<rect x="1051" y="536" width="1" height="1" fill="#7c7c7c"/>
<rect x="1051" y="884" width="1" height="1" fill="#7c7c7c"/>
<rect x="1054" y="524" width="1" height="1" fill="#7c7c7c"/>
<rect x="1054" y="536" width="1" height="1" fill="#7c7c7c"/>
<rect x="1054" y="884" width="1" height="1" fill="#7c7c7c"/>
<rect x="1057" y="524" width="1" height="1" fill="#7c7c7c"/>
<rect x="1057" y="536" width="1" height="1" fill="#7c7c7c"/>
<rect x="1057" y="884" width="1" height="1" fill="#7c7c7c"/>
<rect x="1060" y="524" width="1" height="1" fill="#7c7c7c"/>
<rect x="1060" y="536" width="1" height="1" fill="#7c7c7c"/>
<rect x="1060" y="884" width="1" height="1" fill="#7c7c7c"/>
<rect x="1064" y="524" width="1" height="1" fill="#7c7c7c"/>
<rect x="1064" y="536" width="1" height="1" fill="#7c7c7c"/>
<rect x="1064" y="884" width="1" height="1" fill="#7c7c7c"/>
<rect x="1067" y="524" width="1" height="1" fill="#7c7c7c"/>
<rect x="1067" y="536" width="1" height="1" fill="#7c7c7c"/>
<rect x="1067" y="884" width="1" height="1" fill="#7c7c7c"/>
<rect x="1070" y="524" width="1" height="1" fill="#7c7c7c"/>
<rect x="1070" y="536" width="1" height="1" fill="#7c7c7c"/>
<rect x="1070" y="884" width="1" height="1" fill="#7c7c7c"/>
<rect x="1073" y="524" width="1" height="1" fill="#7c7c7c"/>
<rect x="1073" y="536" width="1" height="1" fill="#7c7c7c"/>
<rect x="1073" y="884" width="1" height="1" fill="#7c7c7c"/>
<rect x="1076" y="524" width="1" height="1" fill="#7c7c7c"/>
<rect x="1076" y="536" width="1" height="1" fill="#7c7c7c"/>
<rect x="1076" y="884" width="1" height="1" fill="#7c7c7c"/>
<rect x="1079" y="524" width="1" height="1" fill="#7c7c7c"/>
<rect x="1079" y="536" width="1" height="1" fill="#7c7c7c"/>
<rect x="1079" y="884" width="1" height="1" fill="#7c7c7c"/>
<rect x="1082" y="524" width="1" height="1" fill="#7c7c7c"/>
<rect x="1082" y="536" width="1" height="1" fill="#7c7c7c"/>
<rect x="1082" y="884" width="1" height="1" fill="#7c7c7c"/>
<rect x="1085" y="524" width="1" height="1" fill="#7c7c7c"/>
<rect x="1085" y="536" width="1" height="1" fill="#7c7c7c"/>
<rect x="1085" y="884" width="1" height="1" fill="#7c7c7c"/>
<rect x="1088" y="524" width="1" height="1" fill="#7c7c7c"/>
<rect x="1088" y="536" width="1" height="1" fill="#7c7c7c"/>
<rect x="1088" y="884" width="1" height="1" fill="#7c7c7c"/>
<rect x="1091" y="524" width="1" height="1" fill="#7c7c7c"/>
<rect x="1091" y="536" width="1" height="1" fill="#7c7c7c"/>
<rect x="1091" y="884" width="1" height="1" fill="#7c7c7c"/>
<rect x="1094" y="524" width="1" height="1" fill="#7c7c7c"/>
<rect x="1094" y="536" width="1" height="1" fill="#7c7c7c"/>
<rect x="1094" y="884" width="1" height="1" fill="#7c7c7c"/>
<rect x="1097" y="524" width="1" height="1" fill="#7c7c7c"/>
<rect x="1097" y="536" width="1" height="1" fill="#7c7c7c"/>
<rect x="1097" y="884" width="1" height="1" fill="#7c7c7c"/>
<rect x="1100" y="524" width="1" height="1" fill="#7c7c7c"/>
<rect x="1100" y="536" width="1" height="1" fill="#7c7c7c"/>
<rect x="1100" y="884" width="1" height="1" fill="#7c7c7c"/>
<rect x="1103" y="524" width="1" height="1" fill="#7c7c7c"/>
<rect x="1103" y="536" width="1" height="1" fill="#7c7c7c"/>
<rect x="1103" y="884" width="1" height="1" fill="#7c7c7c"/>
<rect x="1106" y="524" width="1" height="1" fill="#7c7c7c"/>
<rect x="1106" y="536" width="1" height="1" fill="#7c7c7c"/>
<rect x="1106" y="884" width="1" height="1" fill="#7c7c7c"/>
<rect x="1109" y="524" width="1" height="1" fill="#7c7c7c"/>
<rect x="1109" y="536" width="1" height="1" fill="#7c7c7c"/>
<rect x="1109" y="884" width="1" height="1" fill="#7c7c7c"/>
<rect x="1112" y="524" width="1" height="1" fill="#7c7c7c"/>
<rect x="1112" y="536" width="1" height="1" fill="#7c7c7c"/>
<rect x="1112" y="884" width="1" height="1" fill="#7c7c7c"/>
<rect x="1116" y="524" width="1" height="1" fill="#7c7c7c"/>
<rect x="1116" y="536" width="1" height="1" fill="#7c7c7c"/>
<rect x="1116" y="884" width="1" height="1" fill="#7c7c7c"/>
<rect x="1119" y="524" width="1" height="1" fill="#7c7c7c"/>
<rect x="1119" y="536" width="1" height="1" fill="#7c7c7c"/>
<rect x="1119" y="884" width="1" height="1" fill="#7c7c7c"/>
<rect x="1122" y="524" width="1" height="1" fill="#7c7c7c"/>
<rect x="1122" y="536" width="1" height="1" fill="#7c7c7c"/>
<rect x="1122" y="884" width="1" height="1" fill="#7c7c7c"/>
<rect x="1125" y="524" width="1" height="1" fill="#7c7c7c"/>
<rect x="1125" y="536" width="1" height="1" fill="#7c7c7c"/>
<rect x="1125" y="884" width="1" height="1" fill="#7c7c7c"/>
<rect x="1128" y="524" width="1" height="1" fill="#7c7c7c"/>
<rect x="1128" y="536" width="1" height="1" fill="#7c7c7c"/>
<rect x="1128" y="884" width="1" height="1" fill="#7c7c7c"/>
<rect x="1131" y="524" width="1" height="1" fill="#7c7c7c"/>
<rect x="1131" y="536" width="1" height="1" fill="#7c7c7c"/>
<rect x="1131" y="884" width="1" height="1" fill="#7c7c7c"/>
<rect x="1134" y="524" width="1" height="1" fill="#7c7c7c"/>
<rect x="1134" y="536" width="1" height="1" fill="#7c7c7c"/>
<rect x="1134" y="884" width="1" height="1" fill="#7c7c7c"/>
<rect x="1137" y="524" width="1" height="1" fill="#7c7c7c"/>
<rect x="1137" y="536" width="1" height="1" fill="#7c7c7c"/>
<rect x="1137" y="884" width="1" height="1" fill="#7c7c7c"/>
<rect x="81" y="524" width="1" height="2" fill="#7c7c7c"/>
<rect x="81" y="535" width="1" height="2" fill="#7c7c7c"/>
<rect x="81" y="884" width="1" height="2" fill="#7c7c7c"/>
<text x="81.5" y="534" font-size="10" fill="#d4d2a0" text-anchor="middle">Apr</text>
<text x="81.5" y="894" font-size="10" fill="#d4d2a0" text-anchor="middle">Apr</text>
<rect x="173" y="524" width="1" height="2" fill="#7c7c7c"/>
<rect x="173" y="535" width="1" height="2" fill="#7c7c7c"/>
<rect x="173" y="884" width="1" height="2" fill="#7c7c7c"/>
<text x="173.5" y="534" font-size="10" fill="#d4d2a0" text-anchor="middle">May</text>
<text x="173.5" y="894" font-size="10" fill="#d4d2a0" text-anchor="middle">May</text>
<rect x="268" y="524" width="1" height="2" fill="#7c7c7c"/>
<rect x="268" y="535" width="1" height="2" fill="#7c7c7c"/>
<rect x="268" y="884" width="1" height="2" fill="#7c7c7c"/>
<text x="268.5" y="534" font-size="10" fill="#d4d2a0" text-anchor="middle">Jun</text>
<text x="268.5" y="894" font-size="10" fill="#d4d2a0" text-anchor="middle">Jun</text>
<rect x="360" y="524" width="1" height="2" fill="#7c7c7c"/>
<rect x="360" y="535" width="1" height="2" fill="#7c7c7c"/>
<rect x="360" y="884" width="1" height="2" fill="#7c7c7c"/>
<text x="360.5" y="534" font-size="10" fill="#d4d2a0" text-anchor="middle">Jul</text>
<text x="360.5" y="894" font-size="10" fill="#d4d2a0" text-anchor="middle">Jul</text>
<rect x="455" y="524" width="1" height="2" fill="#7c7c7c"/>
<rect x="455" y="535" width="1" height="2" fill="#7c7c7c"/>
<rect x="455" y="884" width="1" height="2" fill="#7c7c7c"/>
<text x="455.5" y="534" font-size="10" fill="#d4d2a0" text-anchor="middle">Aug</text>
<text x="455.5" y="894" font-size="10" fill="#d4d2a0" text-anchor="middle">Aug</text>
<rect x="549" y="524" width="1" height="2" fill="#7c7c7c"/>
<rect x="549" y="535" width="1" height="2" fill="#7c7c7c"/>
<rect x="549" y="884" width="1" height="2" fill="#7c7c7c"/>
<text x="549.5" y="534" font-size="10" fill="#d4d2a0" text-anchor="middle">Sep</text>
<text x="549.5" y="894" font-size="10" fill="#d4d2a0" text-anchor="middle">Sep</text>
<rect x="641" y="524" width="1" height="2" fill="#7c7c7c"/>
<rect x="641" y="535" width="1" height="2" fill="#7c7c7c"/>
<rect x="641" y="884" width="1" height="2" fill="#7c7c7c"/>
<text x="641.5" y="534" font-size="10" fill="#d4d2a0" text-anchor="middle">Oct</text>
<text x="641.5" y="894" font-size="10" fill="#d4d2a0" text-anchor="middle">Oct</text>
<rect x="736" y="524" width="1" height="2" fill="#7c7c7c"/>
<rect x="736" y="535" width="1" height="2" fill="#7c7c7c"/>
<rect x="736" y="884" width="1" height="2" fill="#7c7c7c"/>
<text x="736.5" y="534" font-size="10" fill="#d4d2a0" text-anchor="middle">Nov</text>
<text x="736.5" y="894" font-size="10" fill="#d4d2a0" text-anchor="middle">Nov</text>
<rect x="828" y="524" width="1" height="2" fill="#7c7c7c"/>
<rect x="828" y="535" width="1" height="2" fill="#7c7c7c"/>
<rect x="828" y="884" width="1" height="2" fill="#7c7c7c"/>
<text x="828.5" y="534" font-size="10" fill="#d4d2a0" text-anchor="middle">Dec</text>
<text x="828.5" y="894" font-size="10" fill="#d4d2a0" text-anchor="middle">Dec</text>
<rect x="923" y="524" width="1" height="2" fill="#7c7c7c"/>
<rect x="923" y="535" width="1" height="2" fill="#7c7c7c"/>
<rect x="923" y="884" width="1" height="2" fill="#7c7c7c"/>
<text x="923.5" y="534" font-size="11" fill="#d4d2a0" text-anchor="middle" font-weight="bold">2025</text>
<text x="923.5" y="894" font-size="11" fill="#d4d2a0" text-anchor="middle" font-weight="bold">2025</text>
<rect x="1018" y="524" width="1" height="2" fill="#7c7c7c"/>
<rect x="1018" y="535" width="1" height="2" fill="#7c7c7c"/>
<rect x="1018" y="884" width="1" height="2" fill="#7c7c7c"/>
<text x="1018.5" y="534" font-size="10" fill="#d4d2a0" text-anchor="middle">Feb</text>
<text x="1018.5" y="894" font-size="10" fill="#d4d2a0" text-anchor="middle">Feb</text>
<rect x="1103" y="524" width="1" height="2" fill="#7c7c7c"/>
<rect x="1103" y="535" width="1" height="2" fill="#7c7c7c"/>
<rect x="1103" y="884" width="1" height="2" fill="#7c7c7c"/>
<text x="1103.5" y="534" font-size="10" fill="#d4d2a0" text-anchor="middle">Mar</text>
<text x="1103.5" y="894" font-size="10" fill="#d4d2a0" text-anchor="middle">Mar</text>
<rect x="1147" y="42" width="2" height="1" fill="#7c7c7c"/>
<text x="1184.3" y="45" font-size="9.9" fill="#d4d2a0" text-anchor="end" textLength="34.300000000000004" lengthAdjust="spacingAndGlyphs">110.0K</text>
<rect x="1147" y="61" width="2" height="1" fill="#7c7c7c"/>
<text x="1184.3" y="64" font-size="9.9" fill="#d4d2a0" text-anchor="end" textLength="34.300000000000004" lengthAdjust="spacingAndGlyphs">107.5K</text>
<rect x="1147" y="80" width="2" height="1" fill="#7c7c7c"/>
<text x="1184.3" y="83" font-size="9.9" fill="#d4d2a0" text-anchor="end" textLength="34.300000000000004" lengthAdjust="spacingAndGlyphs">105.0K</text>
<rect x="1147" y="99" width="2" height="1" fill="#7c7c7c"/>
<text x="1184.3" y="102" font-size="9.9" fill="#d4d2a0" text-anchor="end" textLength="34.300000000000004" lengthAdjust="spacingAndGlyphs">102.5K</text>
<rect x="1147" y="118" width="2" height="1" fill="#7c7c7c"/>
<text x="1184.3" y="121" font-size="9.9" fill="#d4d2a0" text-anchor="end" textLength="34.300000000000004" lengthAdjust="spacingAndGlyphs">100.0K</text>
<rect x="1147" y="137" width="2" height="1" fill="#7c7c7c"/>
<text x="1184.3" y="140" font-size="9.9" fill="#d4d2a0" text-anchor="end" textLength="29.8" lengthAdjust="spacingAndGlyphs">97500</text>
<rect x="1147" y="156" width="2" height="1" fill="#7c7c7c"/>
<text x="1184.3" y="159" font-size="9.9" fill="#d4d2a0" text-anchor="end" textLength="29.8" lengthAdjust="spacingAndGlyphs">95000</text>
<rect x="1147" y="175" width="2" height="1" fill="#7c7c7c"/>
<text x="1184.3" y="178" font-size="9.9" fill="#d4d2a0" text-anchor="end" textLength="29.8" lengthAdjust="spacingAndGlyphs">92500</text>
<rect x="1147" y="194" width="2" height="1" fill="#7c7c7c"/>
<text x="1184.3" y="197" font-size="9.9" fill="#d4d2a0" text-anchor="end" textLength="29.8" lengthAdjust="spacingAndGlyphs">90000</text>
<rect x="1147" y="213" width="2" height="1" fill="#7c7c7c"/>
<text x="1184.3" y="216" font-size="9.9" fill="#d4d2a0" text-anchor="end" textLength="29.8" lengthAdjust="spacingAndGlyphs">87500</text>
<rect x="1147" y="232" width="2" height="1" fill="#7c7c7c"/>
<text x="1184.3" y="235" font-size="9.9" fill="#d4d2a0" text-anchor="end" textLength="29.8" lengthAdjust="spacingAndGlyphs">85000</text>
<rect x="1147" y="251" width="2" height="1" fill="#7c7c7c"/>
<text x="1184.3" y="254" font-size="9.9" fill="#d4d2a0" text-anchor="end" textLength="29.8" lengthAdjust="spacingAndGlyphs">82500</text>
<rect x="1147" y="270" width="2" height="1" fill="#7c7c7c"/>
<text x="1184.3" y="273" font-size="9.9" fill="#d4d2a0" text-anchor="end" textLength="29.8" lengthAdjust="spacingAndGlyphs">80000</text>
<rect x="1147" y="289" width="2" height="1" fill="#7c7c7c"/>
<text x="1184.3" y="292" font-size="9.9" fill="#d4d2a0" text-anchor="end" textLength="29.8" lengthAdjust="spacingAndGlyphs">77500</text>
<rect x="1147" y="308" width="2" height="1" fill="#7c7c7c"/>
<text x="1184.3" y="311" font-size="9.9" fill="#d4d2a0" text-anchor="end" textLength="29.8" lengthAdjust="spacingAndGlyphs">75000</text>
<rect x="1147" y="327" width="2" height="1" fill="#7c7c7c"/>
<text x="1184.3" y="330" font-size="9.9" fill="#d4d2a0" text-anchor="end" textLength="29.8" lengthAdjust="spacingAndGlyphs">72500</text>
<rect x="1147" y="346" width="2" height="1" fill="#7c7c7c"/>
<text x="1184.3" y="349" font-size="9.9" fill="#d4d2a0" text-anchor="end" textLength="29.8" lengthAdjust="spacingAndGlyphs">70000</text>
<rect x="1147" y="365" width="2" height="1" fill="#7c7c7c"/>
<text x="1184.3" y="368" font-size="9.9" fill="#d4d2a0" text-anchor="end" textLength="29.8" lengthAdjust="spacingAndGlyphs">67500</text>
<rect x="1147" y="384" width="2" height="1" fill="#7c7c7c"/>
<text x="1184.3" y="387" font-size="9.9" fill="#d4d2a0" text-anchor="end" textLength="29.8" lengthAdjust="spacingAndGlyphs">65000</text>
<rect x="1147" y="403" width="2" height="1" fill="#7c7c7c"/>
<text x="1184.3" y="406" font-size="9.9" fill="#d4d2a0" text-anchor="end" textLength="29.8" lengthAdjust="spacingAndGlyphs">62500</text>
<rect x="1147" y="422" width="2" height="1" fill="#7c7c7c"/>
<text x="1184.3" y="425" font-size="9.9" fill="#d4d2a0" text-anchor="end" textLength="29.8" lengthAdjust="spacingAndGlyphs">60000</text>
<rect x="1147" y="441" width="2" height="1" fill="#7c7c7c"/>
<text x="1184.3" y="444" font-size="9.9" fill="#d4d2a0" text-anchor="end" textLength="29.8" lengthAdjust="spacingAndGlyphs">57500</text>
<rect x="1147" y="460" width="2" height="1" fill="#7c7c7c"/>
<text x="1184.3" y="463" font-size="9.9" fill="#d4d2a0" text-anchor="end" textLength="29.8" lengthAdjust="spacingAndGlyphs">55000</text>
<rect x="1147" y="479" width="2" height="1" fill="#7c7c7c"/>
<text x="1184.3" y="482" font-size="9.9" fill="#d4d2a0" text-anchor="end" textLength="29.8" lengthAdjust="spacingAndGlyphs">52500</text>
<rect x="1147" y="498" width="2" height="1" fill="#7c7c7c"/>
<text x="1184.3" y="501" font-size="9.9" fill="#d4d2a0" text-anchor="end" textLength="29.8" lengthAdjust="spacingAndGlyphs">50000</text>
<rect x="1147" y="516" width="2" height="1" fill="#7c7c7c"/>
<text x="1184.3" y="519" font-size="9.9" fill="#d4d2a0" text-anchor="end" textLength="29.8" lengthAdjust="spacingAndGlyphs">47500</text>
<rect x="1147" y="704" width="1" height="1" fill="#7c7c7c"/>
<rect x="1147" y="699" width="1" height="1" fill="#7c7c7c"/>
<rect x="1147" y="694" width="1" height="1" fill="#7c7c7c"/>
<rect x="1147" y="688" width="1" height="1" fill="#7c7c7c"/>
<rect x="1147" y="683" width="1" height="1" fill="#7c7c7c"/>
<rect x="1147" y="678" width="1" height="1" fill="#7c7c7c"/>
<rect x="1147" y="672" width="1" height="1" fill="#7c7c7c"/>
<rect x="1147" y="667" width="1" height="1" fill="#7c7c7c"/>
<rect x="1147" y="662" width="1" height="1" fill="#7c7c7c"/>
<rect x="1147" y="657" width="1" height="1" fill="#7c7c7c"/>
<rect x="1147" y="651" width="1" height="1" fill="#7c7c7c"/>
<rect x="1147" y="646" width="1" height="1" fill="#7c7c7c"/>
<rect x="1147" y="641" width="1" height="1" fill="#7c7c7c"/>
<rect x="1147" y="635" width="1" height="1" fill="#7c7c7c"/>
<rect x="1147" y="630" width="1" height="1" fill="#7c7c7c"/>
<rect x="1147" y="625" width="1" height="1" fill="#7c7c7c"/>
<rect x="1147" y="619" width="1" height="1" fill="#7c7c7c"/>
<rect x="1147" y="614" width="1" height="1" fill="#7c7c7c"/>
<rect x="1147" y="609" width="1" height="1" fill="#7c7c7c"/>
<rect x="1147" y="604" width="1" height="1" fill="#7c7c7c"/>
<rect x="1147" y="598" width="1" height="1" fill="#7c7c7c"/>
<rect x="1147" y="593" width="1" height="1" fill="#7c7c7c"/>
<rect x="1147" y="588" width="1" height="1" fill="#7c7c7c"/>
<rect x="1147" y="582" width="1" height="1" fill="#7c7c7c"/>
<rect x="1147" y="577" width="1" height="1" fill="#7c7c7c"/>
<rect x="1147" y="572" width="1" height="1" fill="#7c7c7c"/>
<rect x="1147" y="566" width="1" height="1" fill="#7c7c7c"/>
<rect x="1147" y="561" width="1" height="1" fill="#7c7c7c"/>
<rect x="1147" y="556" width="1" height="1" fill="#7c7c7c"/>
<rect x="1147" y="551" width="1" height="1" fill="#7c7c7c"/>
<rect x="1147" y="545" width="1" height="1" fill="#7c7c7c"/>
<rect x="1147" y="683" width="2" height="1" fill="#7c7c7c"/>
<text x="1181" y="686" font-size="9.9" fill="#d4d2a0" text-anchor="end" textLength="29.8" lengthAdjust="spacingAndGlyphs">20000</text>
<rect x="1147" y="657" width="2" height="1" fill="#7c7c7c"/>
<text x="1181" y="660" font-size="9.9" fill="#d4d2a0" text-anchor="end" textLength="29.8" lengthAdjust="spacingAndGlyphs">40000</text>
<rect x="1147" y="630" width="2" height="1" fill="#7c7c7c"/>
<text x="1181" y="633" font-size="9.9" fill="#d4d2a0" text-anchor="end" textLength="29.8" lengthAdjust="spacingAndGlyphs">60000</text>
<rect x="1147" y="604" width="2" height="1" fill="#7c7c7c"/>
<text x="1181" y="607" font-size="9.9" fill="#d4d2a0" text-anchor="end" textLength="29.8" lengthAdjust="spacingAndGlyphs">80000</text>
<rect x="1147" y="577" width="2" height="1" fill="#7c7c7c"/>
<text x="1181" y="580" font-size="9.9" fill="#d4d2a0" text-anchor="end" textLength="25.8" lengthAdjust="spacingAndGlyphs">100K</text>
<rect x="1147" y="551" width="2" height="1" fill="#7c7c7c"/>
<text x="1181" y="554" font-size="9.9" fill="#d4d2a0" text-anchor="end" textLength="25.8" lengthAdjust="spacingAndGlyphs">120K</text>
<rect x="1147" y="880" width="1" height="1" fill="#7c7c7c"/>
<rect x="1147" y="875" width="1" height="1" fill="#7c7c7c"/>
<rect x="1147" y="870" width="1" height="1" fill="#7c7c7c"/>
<rect x="1147" y="866" width="1" height="1" fill="#7c7c7c"/>
<rect x="1147" y="861" width="1" height="1" fill="#7c7c7c"/>
<rect x="1147" y="856" width="1" height="1" fill="#7c7c7c"/>
<rect x="1147" y="851" width="1" height="1" fill="#7c7c7c"/>
<rect x="1147" y="846" width="1" height="1" fill="#7c7c7c"/>
<rect x="1147" y="842" width="1" height="1" fill="#7c7c7c"/>
<rect x="1147" y="837" width="1" height="1" fill="#7c7c7c"/>
<rect x="1147" y="832" width="1" height="1" fill="#7c7c7c"/>
<rect x="1147" y="827" width="1" height="1" fill="#7c7c7c"/>
<rect x="1147" y="822" width="1" height="1" fill="#7c7c7c"/>
<rect x="1147" y="818" width="1" height="1" fill="#7c7c7c"/>
<rect x="1147" y="813" width="1" height="1" fill="#7c7c7c"/>
<rect x="1147" y="808" width="1" height="1" fill="#7c7c7c"/>
<rect x="1147" y="803" width="1" height="1" fill="#7c7c7c"/>
<rect x="1147" y="798" width="1" height="1" fill="#7c7c7c"/>
<rect x="1147" y="794" width="1" height="1" fill="#7c7c7c"/>
<rect x="1147" y="789" width="1" height="1" fill="#7c7c7c"/>
<rect x="1147" y="784" width="1" height="1" fill="#7c7c7c"/>
<rect x="1147" y="779" width="1" height="1" fill="#7c7c7c"/>
<rect x="1147" y="774" width="1" height="1" fill="#7c7c7c"/>
<rect x="1147" y="770" width="1" height="1" fill="#7c7c7c"/>
<rect x="1147" y="765" width="1" height="1" fill="#7c7c7c"/>
<rect x="1147" y="760" width="1" height="1" fill="#7c7c7c"/>
<rect x="1147" y="755" width="1" height="1" fill="#7c7c7c"/>
<rect x="1147" y="750" width="1" height="1" fill="#7c7c7c"/>
<rect x="1147" y="746" width="1" height="1" fill="#7c7c7c"/>
<rect x="1147" y="741" width="1" height="1" fill="#7c7c7c"/>
<rect x="1147" y="736" width="1" height="1" fill="#7c7c7c"/>
<rect x="1147" y="731" width="1" height="1" fill="#7c7c7c"/>
<rect x="1147" y="726" width="1" height="1" fill="#7c7c7c"/>
<rect x="1147" y="722" width="1" height="1" fill="#7c7c7c"/>
<rect x="1147" y="736" width="2" height="1" fill="#7c7c7c"/>
<text x="1176.8" y="739" font-size="9.9" fill="#d4d2a0" text-anchor="end" textLength="23.8" lengthAdjust="spacingAndGlyphs">1500</text>
<rect x="1147" y="760" width="2" height="1" fill="#7c7c7c"/>
<text x="1176.8" y="763" font-size="9.9" fill="#d4d2a0" text-anchor="end" textLength="23.8" lengthAdjust="spacingAndGlyphs">1000</text>
<rect x="1147" y="784" width="2" height="1" fill="#7c7c7c"/>
<text x="1176.8" y="787" font-size="9.9" fill="#d4d2a0" text-anchor="end" textLength="17.8" lengthAdjust="spacingAndGlyphs">500</text>
<rect x="1147" y="808" width="2" height="1" fill="#7c7c7c"/>
<text x="1176.8" y="811" font-size="9.9" fill="#d4d2a0" text-anchor="end" textLength="5.8" lengthAdjust="spacingAndGlyphs">0</text>
<rect x="1147" y="832" width="2" height="1" fill="#7c7c7c"/>
<text x="1176.8" y="835" font-size="9.9" fill="#d4d2a0" text-anchor="end" textLength="22.0" lengthAdjust="spacingAndGlyphs">-500</text>
<rect x="1147" y="856" width="2" height="1" fill="#7c7c7c"/>
<text x="1176.8" y="859" font-size="9.9" fill="#d4d2a0" text-anchor="end" textLength="28.0" lengthAdjust="spacingAndGlyphs">-1000</text>
<rect x="1147" y="879" width="2" height="1" fill="#7c7c7c"/>
<text x="1176.8" y="882" font-size="9.9" fill="#d4d2a0" text-anchor="end" textLength="28.0" lengthAdjust="spacingAndGlyphs">-1500</text>
<rect x="12" y="302" width="28" height="11" fill="#6e6e6e"/>
<rect x="13" y="303" width="26" height="9" fill="#262626"/>
<polygon points="21,312.5 32,312.5 26.5,317.5" fill="#262626" stroke="#6e6e6e" stroke-width="1" shape-rendering="auto"/>
<rect x="22" y="312" width="10" height="1" fill="#262626"/>
<text x="26.0" y="310.7" font-size="9.6" fill="#d4d2a0" text-anchor="middle" textLength="24.0" lengthAdjust="spacingAndGlyphs">73.8K</text>
<rect x="31" y="423" width="28" height="11" fill="#6e6e6e"/>
<rect x="32" y="424" width="26" height="9" fill="#262626"/>
<polygon points="40,423.5 51,423.5 45.5,418.5" fill="#262626" stroke="#6e6e6e" stroke-width="1" shape-rendering="auto"/>
<rect x="41" y="423" width="10" height="1" fill="#262626"/>
<text x="45.0" y="431.7" font-size="9.6" fill="#d4d2a0" text-anchor="middle" textLength="24.0" lengthAdjust="spacingAndGlyphs">60.8K</text>
<rect x="52" y="317" width="28" height="11" fill="#6e6e6e"/>
<rect x="53" y="318" width="26" height="9" fill="#262626"/>
<polygon points="61,327.5 72,327.5 66.5,332.5" fill="#262626" stroke="#6e6e6e" stroke-width="1" shape-rendering="auto"/>
<rect x="62" y="327" width="10" height="1" fill="#262626"/>
<text x="66.0" y="325.7" font-size="9.6" fill="#d4d2a0" text-anchor="middle" textLength="24.0" lengthAdjust="spacingAndGlyphs">71.8K</text>
<rect x="73" y="395" width="28" height="11" fill="#6e6e6e"/>
<rect x="74" y="396" width="26" height="9" fill="#262626"/>
<polygon points="82,395.5 93,395.5 87.5,390.5" fill="#262626" stroke="#6e6e6e" stroke-width="1" shape-rendering="auto"/>
<rect x="83" y="395" width="10" height="1" fill="#262626"/>
<text x="87.0" y="403.7" font-size="9.6" fill="#d4d2a0" text-anchor="middle" textLength="24.0" lengthAdjust="spacingAndGlyphs">64.5K</text>
<rect x="89" y="310" width="28" height="11" fill="#6e6e6e"/>
<rect x="90" y="311" width="26" height="9" fill="#262626"/>
<polygon points="98,320.5 109,320.5 103.5,325.5" fill="#262626" stroke="#6e6e6e" stroke-width="1" shape-rendering="auto"/>
<rect x="99" y="320" width="10" height="1" fill="#262626"/>
<text x="103.0" y="318.7" font-size="9.6" fill="#d4d2a0" text-anchor="middle" textLength="24.0" lengthAdjust="spacingAndGlyphs">72.8K</text>
<rect x="122" y="432" width="28" height="11" fill="#6e6e6e"/>
<rect x="123" y="433" width="26" height="9" fill="#262626"/>
<polygon points="131,432.5 142,432.5 136.5,427.5" fill="#262626" stroke="#6e6e6e" stroke-width="1" shape-rendering="auto"/>
<rect x="132" y="432" width="10" height="1" fill="#262626"/>
<text x="136.0" y="440.7" font-size="9.6" fill="#d4d2a0" text-anchor="middle" textLength="24.0" lengthAdjust="spacingAndGlyphs">59.6K</text>
<rect x="132" y="351" width="28" height="11" fill="#6e6e6e"/>
<rect x="133" y="352" width="26" height="9" fill="#262626"/>
<polygon points="141,361.5 152,361.5 146.5,366.5" fill="#262626" stroke="#6e6e6e" stroke-width="1" shape-rendering="auto"/>
<rect x="142" y="361" width="10" height="1" fill="#262626"/>
<text x="146.0" y="359.7" font-size="9.6" fill="#d4d2a0" text-anchor="middle" textLength="24.0" lengthAdjust="spacingAndGlyphs">67.3K</text>
<rect x="159" y="455" width="28" height="11" fill="#6e6e6e"/>
<rect x="160" y="456" width="26" height="9" fill="#262626"/>
<polygon points="168,455.5 179,455.5 173.5,450.5" fill="#262626" stroke="#6e6e6e" stroke-width="1" shape-rendering="auto"/>
<rect x="169" y="455" width="10" height="1" fill="#262626"/>
<text x="173.0" y="463.7" font-size="9.6" fill="#d4d2a0" text-anchor="middle" textLength="24.0" lengthAdjust="spacingAndGlyphs">56.5K</text>
<rect x="174" y="365" width="28" height="11" fill="#6e6e6e"/>
<rect x="175" y="366" width="26" height="9" fill="#262626"/>
<polygon points="183,375.5 194,375.5 188.5,380.5" fill="#262626" stroke="#6e6e6e" stroke-width="1" shape-rendering="auto"/>
<rect x="184" y="375" width="10" height="1" fill="#262626"/>
<text x="188.0" y="373.7" font-size="9.6" fill="#d4d2a0" text-anchor="middle" textLength="24.0" lengthAdjust="spacingAndGlyphs">65.5K</text>
<rect x="187" y="427" width="28" height="11" fill="#6e6e6e"/>
<rect x="188" y="428" width="26" height="9" fill="#262626"/>
<polygon points="196,427.5 207,427.5 201.5,422.5" fill="#262626" stroke="#6e6e6e" stroke-width="1" shape-rendering="auto"/>
<rect x="197" y="427" width="10" height="1" fill="#262626"/>
<text x="201.0" y="435.7" font-size="9.6" fill="#d4d2a0" text-anchor="middle" textLength="24.0" lengthAdjust="spacingAndGlyphs">60.2K</text>
<rect x="220" y="316" width="28" height="11" fill="#6e6e6e"/>
<rect x="221" y="317" width="26" height="9" fill="#262626"/>
<polygon points="229,326.5 240,326.5 234.5,331.5" fill="#262626" stroke="#6e6e6e" stroke-width="1" shape-rendering="auto"/>
<rect x="230" y="326" width="10" height="1" fill="#262626"/>
<text x="234.0" y="324.7" font-size="9.6" fill="#d4d2a0" text-anchor="middle" textLength="24.0" lengthAdjust="spacingAndGlyphs">72.0K</text>
<rect x="324" y="441" width="28" height="11" fill="#6e6e6e"/>
<rect x="325" y="442" width="26" height="9" fill="#262626"/>
<polygon points="333,441.5 344,441.5 338.5,436.5" fill="#262626" stroke="#6e6e6e" stroke-width="1" shape-rendering="auto"/>
<rect x="334" y="441" width="10" height="1" fill="#262626"/>
<text x="338.0" y="449.7" font-size="9.6" fill="#d4d2a0" text-anchor="middle" textLength="24.0" lengthAdjust="spacingAndGlyphs">58.4K</text>
<rect x="346" y="378" width="28" height="11" fill="#6e6e6e"/>
<rect x="347" y="379" width="26" height="9" fill="#262626"/>
<polygon points="355,388.5 366,388.5 360.5,393.5" fill="#262626" stroke="#6e6e6e" stroke-width="1" shape-rendering="auto"/>
<rect x="356" y="388" width="10" height="1" fill="#262626"/>
<text x="360.0" y="386.7" font-size="9.6" fill="#d4d2a0" text-anchor="middle" textLength="24.0" lengthAdjust="spacingAndGlyphs">63.8K</text>
<rect x="358" y="478" width="28" height="11" fill="#6e6e6e"/>
<rect x="359" y="479" width="26" height="9" fill="#262626"/>
<polygon points="367,478.5 378,478.5 372.5,473.5" fill="#262626" stroke="#6e6e6e" stroke-width="1" shape-rendering="auto"/>
<rect x="368" y="478" width="10" height="1" fill="#262626"/>
<text x="372.0" y="486.7" font-size="9.6" fill="#d4d2a0" text-anchor="middle" textLength="24.0" lengthAdjust="spacingAndGlyphs">53.5K</text>
<rect x="431" y="331" width="28" height="11" fill="#6e6e6e"/>
<rect x="432" y="332" width="26" height="9" fill="#262626"/>
<polygon points="440,341.5 451,341.5 445.5,346.5" fill="#262626" stroke="#6e6e6e" stroke-width="1" shape-rendering="auto"/>
<rect x="441" y="341" width="10" height="1" fill="#262626"/>
<text x="445.0" y="339.7" font-size="9.6" fill="#d4d2a0" text-anchor="middle" textLength="24.0" lengthAdjust="spacingAndGlyphs">70.0K</text>
<rect x="453" y="511" width="28" height="11" fill="#6e6e6e"/>
<rect x="454" y="512" width="26" height="9" fill="#262626"/>
<polygon points="462,511.5 473,511.5 467.5,506.5" fill="#262626" stroke="#6e6e6e" stroke-width="1" shape-rendering="auto"/>
<rect x="463" y="511" width="10" height="1" fill="#262626"/>
<text x="467.0" y="519.7" font-size="9.6" fill="#d4d2a0" text-anchor="middle" textLength="24.0" lengthAdjust="spacingAndGlyphs">49.2K</text>
<rect x="462" y="386" width="28" height="11" fill="#6e6e6e"/>
<rect x="463" y="387" width="26" height="9" fill="#262626"/>
<polygon points="471,396.5 482,396.5 476.5,401.5" fill="#262626" stroke="#6e6e6e" stroke-width="1" shape-rendering="auto"/>
<rect x="472" y="396" width="10" height="1" fill="#262626"/>
<text x="476.0" y="394.7" font-size="9.6" fill="#d4d2a0" text-anchor="middle" textLength="24.0" lengthAdjust="spacingAndGlyphs">62.7K</text>
<rect x="483" y="458" width="28" height="11" fill="#6e6e6e"/>
<rect x="484" y="459" width="26" height="9" fill="#262626"/>
<polygon points="492,458.5 503,458.5 497.5,453.5" fill="#262626" stroke="#6e6e6e" stroke-width="1" shape-rendering="auto"/>
<rect x="493" y="458" width="10" height="1" fill="#262626"/>
<text x="497.0" y="466.7" font-size="9.6" fill="#d4d2a0" text-anchor="middle" textLength="24.0" lengthAdjust="spacingAndGlyphs">56.1K</text>
<rect x="514" y="368" width="28" height="11" fill="#6e6e6e"/>
<rect x="515" y="369" width="26" height="9" fill="#262626"/>
<polygon points="523,378.5 534,378.5 528.5,383.5" fill="#262626" stroke="#6e6e6e" stroke-width="1" shape-rendering="auto"/>
<rect x="524" y="378" width="10" height="1" fill="#262626"/>
<text x="528.0" y="376.7" font-size="9.6" fill="#d4d2a0" text-anchor="middle" textLength="24.0" lengthAdjust="spacingAndGlyphs">65.1K</text>
<rect x="551" y="485" width="28" height="11" fill="#6e6e6e"/>
<rect x="552" y="486" width="26" height="9" fill="#262626"/>
<polygon points="560,485.5 571,485.5 565.5,480.5" fill="#262626" stroke="#6e6e6e" stroke-width="1" shape-rendering="auto"/>
<rect x="561" y="485" width="10" height="1" fill="#262626"/>
<text x="565.0" y="493.7" font-size="9.6" fill="#d4d2a0" text-anchor="middle" textLength="24.0" lengthAdjust="spacingAndGlyphs">52.6K</text>
<rect x="615" y="357" width="28" height="11" fill="#6e6e6e"/>
<rect x="616" y="358" width="26" height="9" fill="#262626"/>
<polygon points="624,367.5 635,367.5 629.5,372.5" fill="#262626" stroke="#6e6e6e" stroke-width="1" shape-rendering="auto"/>
<rect x="625" y="367" width="10" height="1" fill="#262626"/>
<text x="629.0" y="365.7" font-size="9.6" fill="#d4d2a0" text-anchor="middle" textLength="24.0" lengthAdjust="spacingAndGlyphs">66.5K</text>
<rect x="655" y="437" width="28" height="11" fill="#6e6e6e"/>
<rect x="656" y="438" width="26" height="9" fill="#262626"/>
<polygon points="664,437.5 675,437.5 669.5,432.5" fill="#262626" stroke="#6e6e6e" stroke-width="1" shape-rendering="auto"/>
<rect x="665" y="437" width="10" height="1" fill="#262626"/>
<text x="669.0" y="445.7" font-size="9.6" fill="#d4d2a0" text-anchor="middle" textLength="24.0" lengthAdjust="spacingAndGlyphs">58.9K</text>
<rect x="713" y="304" width="28" height="11" fill="#6e6e6e"/>
<rect x="714" y="305" width="26" height="9" fill="#262626"/>
<polygon points="722,314.5 733,314.5 727.5,319.5" fill="#262626" stroke="#6e6e6e" stroke-width="1" shape-rendering="auto"/>
<rect x="723" y="314" width="10" height="1" fill="#262626"/>
<text x="727.0" y="312.7" font-size="9.6" fill="#d4d2a0" text-anchor="middle" textLength="24.0" lengthAdjust="spacingAndGlyphs">73.6K</text>
<rect x="731" y="377" width="28" height="11" fill="#6e6e6e"/>
<rect x="732" y="378" width="26" height="9" fill="#262626"/>
<polygon points="740,377.5 751,377.5 745.5,372.5" fill="#262626" stroke="#6e6e6e" stroke-width="1" shape-rendering="auto"/>
<rect x="741" y="377" width="10" height="1" fill="#262626"/>
<text x="745.0" y="385.7" font-size="9.6" fill="#d4d2a0" text-anchor="middle" textLength="24.0" lengthAdjust="spacingAndGlyphs">66.8K</text>
<rect x="786" y="105" width="28" height="11" fill="#6e6e6e"/>
<rect x="787" y="106" width="26" height="9" fill="#262626"/>
<polygon points="795,115.5 806,115.5 800.5,120.5" fill="#262626" stroke="#6e6e6e" stroke-width="1" shape-rendering="auto"/>
<rect x="796" y="115" width="10" height="1" fill="#262626"/>
<text x="800.0" y="113.7" font-size="9.6" fill="#d4d2a0" text-anchor="middle" textLength="24.0" lengthAdjust="spacingAndGlyphs">99.8K</text>
<rect x="799" y="196" width="28" height="11" fill="#6e6e6e"/>
<rect x="800" y="197" width="26" height="9" fill="#262626"/>
<polygon points="808,196.5 819,196.5 813.5,191.5" fill="#262626" stroke="#6e6e6e" stroke-width="1" shape-rendering="auto"/>
<rect x="809" y="196" width="10" height="1" fill="#262626"/>
<text x="813.0" y="204.7" font-size="9.6" fill="#d4d2a0" text-anchor="middle" textLength="24.0" lengthAdjust="spacingAndGlyphs">90.7K</text>
<rect x="823" y="73" width="33" height="11" fill="#6e6e6e"/>
<rect x="824" y="74" width="31" height="9" fill="#262626"/>
<polygon points="835,83.5 846,83.5 840.5,88.5" fill="#262626" stroke="#6e6e6e" stroke-width="1" shape-rendering="auto"/>
<rect x="836" y="83" width="10" height="1" fill="#262626"/>
<text x="839.5" y="81.7" font-size="9.6" fill="#d4d2a0" text-anchor="middle" textLength="28.3" lengthAdjust="spacingAndGlyphs">104.0K</text>
<rect x="841" y="169" width="28" height="11" fill="#6e6e6e"/>
<rect x="842" y="170" width="26" height="9" fill="#262626"/>
<polygon points="850,169.5 861,169.5 855.5,164.5" fill="#262626" stroke="#6e6e6e" stroke-width="1" shape-rendering="auto"/>
<rect x="851" y="169" width="10" height="1" fill="#262626"/>
<text x="855.0" y="177.7" font-size="9.6" fill="#d4d2a0" text-anchor="middle" textLength="24.0" lengthAdjust="spacingAndGlyphs">94.3K</text>
<rect x="860" y="40" width="33" height="11" fill="#6e6e6e"/>
<rect x="861" y="41" width="31" height="9" fill="#262626"/>
<polygon points="872,50.5 883,50.5 877.5,55.5" fill="#262626" stroke="#6e6e6e" stroke-width="1" shape-rendering="auto"/>
<rect x="873" y="50" width="10" height="1" fill="#262626"/>
<text x="876.5" y="48.7" font-size="9.6" fill="#d4d2a0" text-anchor="middle" textLength="28.3" lengthAdjust="spacingAndGlyphs">108.4K</text>
<rect x="872" y="185" width="28" height="11" fill="#6e6e6e"/>
<rect x="873" y="186" width="26" height="9" fill="#262626"/>
<polygon points="881,185.5 892,185.5 886.5,180.5" fill="#262626" stroke="#6e6e6e" stroke-width="1" shape-rendering="auto"/>
<rect x="882" y="185" width="10" height="1" fill="#262626"/>
<text x="886.0" y="193.7" font-size="9.6" fill="#d4d2a0" text-anchor="middle" textLength="24.0" lengthAdjust="spacingAndGlyphs">92.1K</text>
<rect x="890" y="104" width="28" height="11" fill="#6e6e6e"/>
<rect x="891" y="105" width="26" height="9" fill="#262626"/>
<polygon points="899,114.5 910,114.5 904.5,119.5" fill="#262626" stroke="#6e6e6e" stroke-width="1" shape-rendering="auto"/>
<rect x="900" y="114" width="10" height="1" fill="#262626"/>
<text x="904.0" y="112.7" font-size="9.6" fill="#d4d2a0" text-anchor="middle" textLength="24.0" lengthAdjust="spacingAndGlyphs">99.9K</text>
<rect x="903" y="191" width="28" height="11" fill="#6e6e6e"/>
<rect x="904" y="192" width="26" height="9" fill="#262626"/>
<polygon points="912,191.5 923,191.5 917.5,186.5" fill="#262626" stroke="#6e6e6e" stroke-width="1" shape-rendering="auto"/>
<rect x="913" y="191" width="10" height="1" fill="#262626"/>
<text x="917.0" y="199.7" font-size="9.6" fill="#d4d2a0" text-anchor="middle" textLength="24.0" lengthAdjust="spacingAndGlyphs">91.3K</text>
<rect x="924" y="83" width="33" height="11" fill="#6e6e6e"/>
<rect x="925" y="84" width="31" height="9" fill="#262626"/>
<polygon points="936,93.5 947,93.5 941.5,98.5" fill="#262626" stroke="#6e6e6e" stroke-width="1" shape-rendering="auto"/>
<rect x="937" y="93" width="10" height="1" fill="#262626"/>
<text x="940.5" y="91.7" font-size="9.6" fill="#d4d2a0" text-anchor="middle" textLength="28.3" lengthAdjust="spacingAndGlyphs">102.7K</text>
<rect x="945" y="207" width="28" height="11" fill="#6e6e6e"/>
<rect x="946" y="208" width="26" height="9" fill="#262626"/>
<polygon points="954,207.5 965,207.5 959.5,202.5" fill="#262626" stroke="#6e6e6e" stroke-width="1" shape-rendering="auto"/>
<rect x="955" y="207" width="10" height="1" fill="#262626"/>
<text x="959.0" y="215.7" font-size="9.6" fill="#d4d2a0" text-anchor="middle" textLength="24.0" lengthAdjust="spacingAndGlyphs">89.2K</text>
<rect x="964" y="33" width="33" height="11" fill="#6e6e6e"/>
<rect x="965" y="34" width="31" height="9" fill="#262626"/>
<polygon points="976,43.5 987,43.5 981.5,48.5" fill="#262626" stroke="#6e6e6e" stroke-width="1" shape-rendering="auto"/>
<rect x="977" y="43" width="10" height="1" fill="#262626"/>
<text x="980.5" y="41.7" font-size="9.6" fill="#d4d2a0" text-anchor="middle" textLength="28.3" lengthAdjust="spacingAndGlyphs">109.3K</text>
<rect x="988" y="143" width="28" height="11" fill="#6e6e6e"/>
<rect x="989" y="144" width="26" height="9" fill="#262626"/>
<polygon points="997,143.5 1008,143.5 1002.5,138.5" fill="#262626" stroke="#6e6e6e" stroke-width="1" shape-rendering="auto"/>
<rect x="998" y="143" width="10" height="1" fill="#262626"/>
<text x="1002.0" y="151.7" font-size="9.6" fill="#d4d2a0" text-anchor="middle" textLength="24.0" lengthAdjust="spacingAndGlyphs">97.7K</text>
<rect x="994" y="54" width="33" height="11" fill="#6e6e6e"/>
<rect x="995" y="55" width="31" height="9" fill="#262626"/>
<polygon points="1006,64.5 1017,64.5 1011.5,69.5" fill="#262626" stroke="#6e6e6e" stroke-width="1" shape-rendering="auto"/>
<rect x="1007" y="64" width="10" height="1" fill="#262626"/>
<text x="1010.5" y="62.7" font-size="9.6" fill="#d4d2a0" text-anchor="middle" textLength="28.3" lengthAdjust="spacingAndGlyphs">106.5K</text>
<rect x="1010" y="193" width="28" height="11" fill="#6e6e6e"/>
<rect x="1011" y="194" width="26" height="9" fill="#262626"/>
<polygon points="1019,193.5 1030,193.5 1024.5,188.5" fill="#262626" stroke="#6e6e6e" stroke-width="1" shape-rendering="auto"/>
<rect x="1020" y="193" width="10" height="1" fill="#262626"/>
<text x="1024.0" y="201.7" font-size="9.6" fill="#d4d2a0" text-anchor="middle" textLength="24.0" lengthAdjust="spacingAndGlyphs">91.1K</text>
<rect x="1092" y="140" width="28" height="11" fill="#6e6e6e"/>
<rect x="1093" y="141" width="26" height="9" fill="#262626"/>
<polygon points="1101,150.5 1112,150.5 1106.5,155.5" fill="#262626" stroke="#6e6e6e" stroke-width="1" shape-rendering="auto"/>
<rect x="1102" y="150" width="10" height="1" fill="#262626"/>
<text x="1106.0" y="148.7" font-size="9.6" fill="#d4d2a0" text-anchor="middle" textLength="24.0" lengthAdjust="spacingAndGlyphs">95.1K</text>
<rect x="1086" y="291" width="28" height="11" fill="#6e6e6e"/>
<rect x="1087" y="292" width="26" height="9" fill="#262626"/>
<polygon points="1095,291.5 1106,291.5 1100.5,286.5" fill="#262626" stroke="#6e6e6e" stroke-width="1" shape-rendering="auto"/>
<rect x="1096" y="291" width="10" height="1" fill="#262626"/>
<text x="1100.0" y="299.7" font-size="9.6" fill="#d4d2a0" text-anchor="middle" textLength="24.0" lengthAdjust="spacingAndGlyphs">78.2K</text>
<rect x="16" y="317" width="735" height="2" fill="#ff1414"/>
<rect x="170" y="416" width="9" height="2" fill="#ff1414"/>
<rect x="366" y="416" width="34" height="2" fill="#ff1414"/>
<rect x="518" y="416" width="4" height="2" fill="#ff1414"/>
<rect x="464" y="416" width="12" height="2" fill="#ff1414"/>
<rect x="485" y="416" width="31" height="2" fill="#ff1414"/>
<rect x="534" y="416" width="67" height="2" fill="#ff1414"/>
<polygon points="1144.5,280 1149.5,274.0 1195.5,274.0 1195.5,286.0 1149.5,286.0" fill="#303030" stroke="#12b012" stroke-width="1"/>
<text x="1172.5" y="284" font-size="11" fill="#d4d2a0" text-anchor="middle" textLength="43" lengthAdjust="spacingAndGlyphs" font-weight="bold">78703.31</text>
<polygon points="1144.5,646.5 1149.5,641.25 1180.5,641.25 1180.5,651.75 1149.5,651.75" fill="#303030" stroke="#12b012" stroke-width="1"/>
<text x="1165.0" y="650.5" font-size="10.5" fill="#d4d2a0" text-anchor="middle" textLength="29" lengthAdjust="spacingAndGlyphs">47454</text>
<polygon points="1144.5,839.8 1149.5,835.05 1192.5,835.05 1192.5,844.55 1149.5,844.55" fill="#303030" stroke="#777777" stroke-width="1"/>
<text x="1171.0" y="843.8" font-size="10.5" fill="#d4d2a0" text-anchor="middle" textLength="39" lengthAdjust="spacingAndGlyphs">-681.428</text>
<text x="16.5" y="14.2" font-size="14.5" fill="#d4d2a0" textLength="58" lengthAdjust="spacingAndGlyphs" font-weight="bold">$BTCUSD</text>
<text x="79" y="14.2" font-size="12" fill="#d4d2a0" textLength="90" lengthAdjust="spacingAndGlyphs">Bitcoin to US Dollar</text>
<text x="175.5" y="13.2" font-size="9" fill="#d4d2a0" textLength="32.5" lengthAdjust="spacing">CRYPT</text>
<text x="16.5" y="26" font-size="9.8" fill="#d4d2a0" textLength="97" lengthAdjust="spacingAndGlyphs">10-Mar-2025 7:45pm</text>
<text x="1057" y="13.5" font-size="11" fill="#a8a488" textLength="89" lengthAdjust="spacingAndGlyphs">&#169; StockCharts.com</text>
<text x="630" y="25.5" font-size="11" fill="#d4d2a0" textLength="28" lengthAdjust="spacingAndGlyphs" font-weight="bold">Open</text>
<text x="661" y="25.5" font-size="10" fill="#d4d2a0" textLength="45" lengthAdjust="spacingAndGlyphs">80719.05</text>
<text x="712.5" y="25.5" font-size="11" fill="#d4d2a0" textLength="24" lengthAdjust="spacingAndGlyphs" font-weight="bold">High</text>
<text x="739.5" y="25.5" font-size="10" fill="#d4d2a0" textLength="45" lengthAdjust="spacingAndGlyphs">84037.25</text>
<text x="790.75" y="25.5" font-size="11" fill="#d4d2a0" textLength="23.5" lengthAdjust="spacingAndGlyphs" font-weight="bold">Low</text>
<text x="817.5" y="25.5" font-size="10" fill="#d4d2a0" textLength="45" lengthAdjust="spacingAndGlyphs">77420.92</text>
<text x="868.75" y="25.5" font-size="11" fill="#d4d2a0" textLength="23" lengthAdjust="spacingAndGlyphs" font-weight="bold">Last</text>
<text x="895" y="25.5" font-size="10" fill="#d4d2a0" textLength="45" lengthAdjust="spacingAndGlyphs">78703.31</text>
<text x="947" y="25.5" font-size="11" fill="#d4d2a0" textLength="41.5" lengthAdjust="spacingAndGlyphs" font-weight="bold">Volume</text>
<text x="992.5" y="25.5" font-size="10" fill="#d4d2a0" textLength="28.5" lengthAdjust="spacingAndGlyphs">47.5K</text>
<text x="1027" y="25.5" font-size="11" fill="#d4d2a0" textLength="21" lengthAdjust="spacingAndGlyphs" font-weight="bold">Chg</text>
<text x="1051" y="25.5" font-size="10" fill="#d4d2a0" textLength="85" lengthAdjust="spacingAndGlyphs">-2015.73 (-2.50%)</text>
<polygon points="1139,21 1146,21 1142.5,25" fill="#ff1a1a" shape-rendering="auto"/>
<rect x="360.5" y="174.5" width="344" height="29" fill="#ffffff" stroke="#8a8a8a" stroke-width="1" shape-rendering="auto"/>
<text x="364" y="195" font-size="20" fill="#000" textLength="336" lengthAdjust="spacingAndGlyphs">Bitcoin - the father of crypto, daily, 1yr</text>
<rect x="17" y="29" width="165" height="12" fill="#000"/>
<rect x="20" y="31" width="1" height="1" fill="#0fcc0f"/>
<rect x="19" y="32" width="3" height="4" fill="#0fcc0f"/>
<rect x="20" y="33" width="1" height="2" fill="#000"/>
<rect x="20" y="36" width="1" height="2" fill="#0fcc0f"/>
<rect x="22" y="34" width="3" height="4" fill="#0fcc0f"/>
<rect x="23" y="38" width="1" height="1" fill="#0fcc0f"/>
<rect x="26" y="31" width="1" height="1" fill="#0fcc0f"/>
<rect x="25" y="32" width="3" height="6" fill="#0fcc0f"/>
<rect x="26" y="33" width="1" height="4" fill="#000"/>
<rect x="26" y="38" width="1" height="1" fill="#0fcc0f"/>
<text x="31.5" y="39" font-size="9.6" fill="#d4d2a0" textLength="148" lengthAdjust="spacingAndGlyphs">$BTCUSD (Daily) 78703.31</text>
<rect x="17" y="538" width="100" height="12" fill="#000"/>
<rect x="19" y="543" width="3" height="5" fill="#12b87a"/>
<rect x="20" y="544" width="1" height="3" fill="#007a4c"/>
<rect x="22" y="539" width="3" height="9" fill="#12b87a"/>
<rect x="23" y="540" width="1" height="7" fill="#007a4c"/>
<rect x="25" y="541" width="3" height="7" fill="#12b87a"/>
<rect x="26" y="542" width="1" height="5" fill="#007a4c"/>
<text x="31" y="547.7" font-size="9.6" fill="#d4d2a0" textLength="84" lengthAdjust="spacingAndGlyphs">Volume 47,454</text>
<rect x="17" y="711" width="180" height="11" fill="#000"/>
<rect x="19" y="716" width="3" height="5" fill="#8a8a8a"/>
<rect x="20" y="717" width="1" height="4" fill="#003c1e"/>
<rect x="22" y="712" width="3" height="9" fill="#8a8a8a"/>
<rect x="23" y="713" width="1" height="8" fill="#003c1e"/>
<rect x="25" y="714" width="3" height="7" fill="#8a8a8a"/>
<rect x="26" y="715" width="1" height="6" fill="#003c1e"/>
<text x="31.7" y="721.2" font-size="9.6" fill="#d4d2a0" textLength="163.5" lengthAdjust="spacingAndGlyphs">MACD(12,26,9) Hist -681.428</text>
</svg></div></body></html>
